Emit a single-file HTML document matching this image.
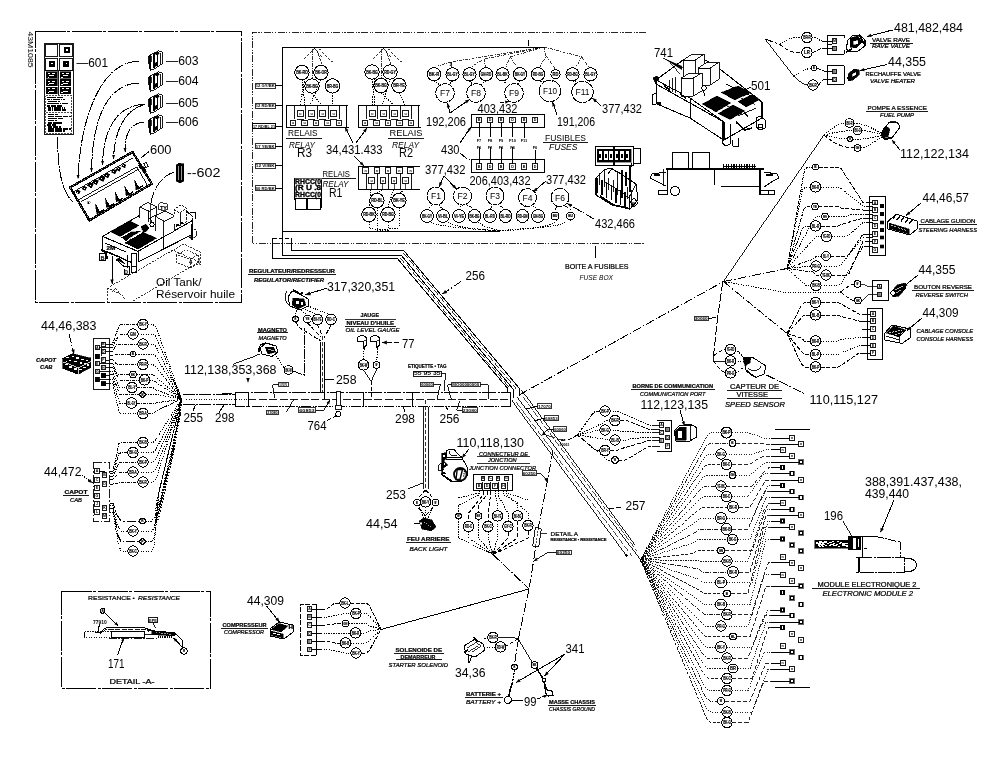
<!DOCTYPE html>
<html><head><meta charset="utf-8"><title>Wiring diagram</title>
<style>
html,body{margin:0;padding:0;background:#fff;}
body{width:1000px;height:770px;overflow:hidden;font-family:"Liberation Sans",sans-serif;}
svg{display:block;will-change:transform;transform:translateZ(0);}
svg text{font-family:"Liberation Sans",sans-serif;}
</style></head><body>
<svg width="1000" height="770" viewBox="0 0 1000 770" fill="none" stroke="#000" stroke-width="1" stroke-linecap="butt" stroke-linejoin="miter" shape-rendering="crispEdges">
<rect x="0" y="0" width="1000" height="770" fill="#fff" stroke="none"/>
<text transform="translate(27.5,31.5) rotate(90)" font-size="6.6" textLength="36" lengthAdjust="spacingAndGlyphs" stroke="none" fill="#000">43M1085</text>
<rect x="35.5" y="31.5" width="205.5" height="270.5" fill="none" stroke-width="1.0" stroke-dasharray="30 1.5 3 1.5"/>
<rect x="44" y="43" width="29" height="91" fill="none" stroke-width="0.9"/>
<rect x="45" y="44" width="12.5" height="12" fill="none" stroke-width="0.9"/>
<rect x="59.5" y="44" width="12.5" height="12" fill="none" stroke-width="0.9"/>
<rect x="45" y="58" width="12.5" height="12" fill="none" stroke-width="0.9"/>
<rect x="59.5" y="58" width="12.5" height="12" fill="none" stroke-width="0.9"/>
<rect x="64" y="47.5" width="5" height="5" fill="#000" stroke-width="1.0"/>
<rect x="49" y="61" width="5" height="5" fill="#000" stroke-width="1.0"/>
<rect x="63.5" y="61" width="5" height="5" fill="#000" stroke-width="1.0"/>
<rect x="66" y="49" width="1.6" height="1.6" fill="#fff" stroke-width="0"/>
<rect x="51" y="62.5" width="1.6" height="1.6" fill="#fff" stroke-width="0"/>
<rect x="65.5" y="62.5" width="1.6" height="1.6" fill="#fff" stroke-width="0"/>
<rect x="46.4" y="71.6" width="10.6" height="6.6" fill="#000" stroke-width="0.6"/>
<rect x="47.9" y="72.8" width="2.2" height="1.2" fill="#fff" stroke-width="0"/>
<rect x="51.9" y="72.8" width="3" height="1.2" fill="#fff" stroke-width="0"/>
<rect x="48.9" y="75.19999999999999" width="5.5" height="1.0" fill="#fff" stroke-width="0"/>
<rect x="47.6" y="76.6" width="1.6" height="0.9" fill="#fff" stroke-width="0"/>
<rect x="60.2" y="71.6" width="10.6" height="6.6" fill="#000" stroke-width="0.6"/>
<rect x="61.7" y="72.8" width="2.2" height="1.2" fill="#fff" stroke-width="0"/>
<rect x="65.7" y="72.8" width="3" height="1.2" fill="#fff" stroke-width="0"/>
<rect x="62.7" y="75.19999999999999" width="5.5" height="1.0" fill="#fff" stroke-width="0"/>
<rect x="61.400000000000006" y="76.6" width="1.6" height="0.9" fill="#fff" stroke-width="0"/>
<rect x="46.4" y="79.3" width="10.6" height="6.6" fill="#000" stroke-width="0.6"/>
<rect x="47.9" y="80.5" width="2.2" height="1.2" fill="#fff" stroke-width="0"/>
<rect x="51.9" y="80.5" width="3" height="1.2" fill="#fff" stroke-width="0"/>
<rect x="48.9" y="82.89999999999999" width="5.5" height="1.0" fill="#fff" stroke-width="0"/>
<rect x="47.6" y="84.3" width="1.6" height="0.9" fill="#fff" stroke-width="0"/>
<rect x="60.2" y="79.3" width="10.6" height="6.6" fill="#000" stroke-width="0.6"/>
<rect x="61.7" y="80.5" width="2.2" height="1.2" fill="#fff" stroke-width="0"/>
<rect x="65.7" y="80.5" width="3" height="1.2" fill="#fff" stroke-width="0"/>
<rect x="62.7" y="82.89999999999999" width="5.5" height="1.0" fill="#fff" stroke-width="0"/>
<rect x="61.400000000000006" y="84.3" width="1.6" height="0.9" fill="#fff" stroke-width="0"/>
<rect x="46.4" y="87.0" width="10.6" height="6.6" fill="#000" stroke-width="0.6"/>
<rect x="47.9" y="88.2" width="2.2" height="1.2" fill="#fff" stroke-width="0"/>
<rect x="51.9" y="88.2" width="3" height="1.2" fill="#fff" stroke-width="0"/>
<rect x="48.9" y="90.6" width="5.5" height="1.0" fill="#fff" stroke-width="0"/>
<rect x="47.6" y="92.0" width="1.6" height="0.9" fill="#fff" stroke-width="0"/>
<rect x="60.2" y="87.0" width="10.6" height="6.6" fill="#000" stroke-width="0.6"/>
<rect x="61.7" y="88.2" width="2.2" height="1.2" fill="#fff" stroke-width="0"/>
<rect x="65.7" y="88.2" width="3" height="1.2" fill="#fff" stroke-width="0"/>
<rect x="62.7" y="90.6" width="5.5" height="1.0" fill="#fff" stroke-width="0"/>
<rect x="61.400000000000006" y="92.0" width="1.6" height="0.9" fill="#fff" stroke-width="0"/>
<line x1="58.2" y1="70.5" x2="58.2" y2="95" stroke-width="0.9"/>
<line x1="44.5" y1="70.3" x2="72.5" y2="70.3" stroke-width="0.9"/>
<rect x="45.5" y="95.5" width="26" height="37.5" fill="none" stroke-width="0.7" stroke-dasharray="2 1"/>
<line x1="45.5" y1="112.2" x2="71.5" y2="112.2" stroke-width="0.7" stroke-dasharray="2 1"/>
<line x1="46.97592925418378" y1="97.5" x2="63.44229225295952" y2="97.5" stroke-width="1.6" stroke-dasharray="3 0.5 1.5 0.4 4 0.5"/>
<line x1="47.239910333096155" y1="99.55" x2="64.53920038596195" y2="99.55" stroke-width="1.6" stroke-dasharray="3 0.5 1.5 0.4 4 0.5"/>
<line x1="47.75144060821611" y1="101.6" x2="59.65528859239813" y2="101.6" stroke-width="1.6" stroke-dasharray="3 0.5 1.5 0.4 4 0.5"/>
<line x1="46.526335983109746" y1="103.65" x2="67.8746908209646" y2="103.65" stroke-width="1.6" stroke-dasharray="3 0.5 1.5 0.4 4 0.5"/>
<line x1="47.018708028656015" y1="105.7" x2="62.34330961046696" y2="105.7" stroke-width="1.6" stroke-dasharray="3 0.5 1.5 0.4 4 0.5"/>
<line x1="48.49128967102092" y1="107.75" x2="65.20263507522448" y2="107.75" stroke-width="1.6" stroke-dasharray="3 0.5 1.5 0.4 4 0.5"/>
<line x1="48.17292290254878" y1="109.8" x2="65.76353208699335" y2="109.8" stroke-width="1.6" stroke-dasharray="3 0.5 1.5 0.4 4 0.5"/>
<line x1="47.77813628108832" y1="114.5" x2="57.506164240235236" y2="114.5" stroke-width="1.6" stroke-dasharray="4 0.5 2 0.4 3 0.5"/>
<line x1="47.769721316570376" y1="116.55" x2="70.68045307143296" y2="116.55" stroke-width="1.6" stroke-dasharray="4 0.5 2 0.4 3 0.5"/>
<line x1="47.546362420766606" y1="118.6" x2="63.4125185620149" y2="118.6" stroke-width="1.6" stroke-dasharray="4 0.5 2 0.4 3 0.5"/>
<line x1="47.84282295073918" y1="120.65" x2="56.64031438226997" y2="120.65" stroke-width="1.6" stroke-dasharray="4 0.5 2 0.4 3 0.5"/>
<line x1="48.016460492573636" y1="122.7" x2="61.91099582931318" y2="122.7" stroke-width="1.6" stroke-dasharray="4 0.5 2 0.4 3 0.5"/>
<line x1="47.102535319031425" y1="124.75" x2="56.3101175146975" y2="124.75" stroke-width="1.6" stroke-dasharray="4 0.5 2 0.4 3 0.5"/>
<line x1="48.23105447395789" y1="126.8" x2="60.72749088665467" y2="126.8" stroke-width="1.6" stroke-dasharray="4 0.5 2 0.4 3 0.5"/>
<line x1="47.937647848131604" y1="128.85" x2="70.78812800255481" y2="128.85" stroke-width="1.6" stroke-dasharray="4 0.5 2 0.4 3 0.5"/>
<line x1="47.928258967222405" y1="130.9" x2="65.21098667583874" y2="130.9" stroke-width="1.6" stroke-dasharray="4 0.5 2 0.4 3 0.5"/>
<text x="76.5" y="66.5" font-size="12.4" stroke="none" fill="#000" textLength="31.5" lengthAdjust="spacingAndGlyphs">—601</text>
<path d="M148.2 56.2 L155.5 52 L157.9 50.6 L162.5 52.3 L162.5 63.5 L152.7 69.9 L149.5 69.2 Z" fill="#fff" stroke-width="0.9"/>
<line x1="150.1" y1="55.4" x2="150.1" y2="68.8" stroke-width="2.0"/>
<line x1="153.7" y1="53.8" x2="153.7" y2="67.5" stroke-width="1.8"/>
<line x1="151.9" y1="56" x2="151.9" y2="62" stroke-width="0.8"/>
<line x1="157.9" y1="51.5" x2="157.9" y2="65.8" stroke-width="1.0"/>
<line x1="160.7" y1="53" x2="160.7" y2="63.5" stroke-width="0.9"/>
<path d="M154.0 53.5 L157.5 51.2 L159.5 53.2 L156.5 55 Z" fill="#000" stroke-width="0.4"/>
<path d="M155.0 63 L157.5 61.5 L157.5 65 L155.0 66.5 Z" fill="#000" stroke-width="0.4"/>
<line x1="150.5" y1="69.5" x2="150.5" y2="71.2" stroke-width="1.0"/>
<text x="166" y="64.5" font-size="12.4" stroke="none" fill="#000" textLength="32.5" lengthAdjust="spacingAndGlyphs">—603</text>
<path d="M148.2 77.2 L155.5 73 L157.9 71.6 L162.5 73.3 L162.5 84.5 L152.7 90.9 L149.5 90.2 Z" fill="#fff" stroke-width="0.9"/>
<line x1="150.1" y1="76.4" x2="150.1" y2="89.8" stroke-width="2.0"/>
<line x1="153.7" y1="74.8" x2="153.7" y2="88.5" stroke-width="1.8"/>
<line x1="151.9" y1="77" x2="151.9" y2="83" stroke-width="0.8"/>
<line x1="157.9" y1="72.5" x2="157.9" y2="86.8" stroke-width="1.0"/>
<line x1="160.7" y1="74" x2="160.7" y2="84.5" stroke-width="0.9"/>
<path d="M154.0 74.5 L157.5 72.2 L159.5 74.2 L156.5 76 Z" fill="#000" stroke-width="0.4"/>
<path d="M155.0 84 L157.5 82.5 L157.5 86 L155.0 87.5 Z" fill="#000" stroke-width="0.4"/>
<line x1="150.5" y1="90.5" x2="150.5" y2="92.2" stroke-width="1.0"/>
<text x="166" y="85" font-size="12.4" stroke="none" fill="#000" textLength="32.5" lengthAdjust="spacingAndGlyphs">—604</text>
<path d="M148.2 99.2 L155.5 95 L157.9 93.6 L162.5 95.3 L162.5 106.5 L152.7 112.9 L149.5 112.2 Z" fill="#fff" stroke-width="0.9"/>
<line x1="150.1" y1="98.4" x2="150.1" y2="111.8" stroke-width="2.0"/>
<line x1="153.7" y1="96.8" x2="153.7" y2="110.5" stroke-width="1.8"/>
<line x1="151.9" y1="99" x2="151.9" y2="105" stroke-width="0.8"/>
<line x1="157.9" y1="94.5" x2="157.9" y2="108.8" stroke-width="1.0"/>
<line x1="160.7" y1="96" x2="160.7" y2="106.5" stroke-width="0.9"/>
<path d="M154.0 96.5 L157.5 94.2 L159.5 96.2 L156.5 98 Z" fill="#000" stroke-width="0.4"/>
<path d="M155.0 106 L157.5 104.5 L157.5 108 L155.0 109.5 Z" fill="#000" stroke-width="0.4"/>
<line x1="150.5" y1="112.5" x2="150.5" y2="114.2" stroke-width="1.0"/>
<text x="166" y="106.5" font-size="12.4" stroke="none" fill="#000" textLength="32.5" lengthAdjust="spacingAndGlyphs">—605</text>
<path d="M148.2 120.2 L155.5 116 L157.9 114.6 L162.5 116.3 L162.5 127.5 L152.7 133.9 L149.5 133.2 Z" fill="#fff" stroke-width="0.9"/>
<line x1="150.1" y1="119.4" x2="150.1" y2="132.8" stroke-width="2.0"/>
<line x1="153.7" y1="117.8" x2="153.7" y2="131.5" stroke-width="1.8"/>
<line x1="151.9" y1="120" x2="151.9" y2="126" stroke-width="0.8"/>
<line x1="157.9" y1="115.5" x2="157.9" y2="129.8" stroke-width="1.0"/>
<line x1="160.7" y1="117" x2="160.7" y2="127.5" stroke-width="0.9"/>
<path d="M154.0 117.5 L157.5 115.2 L159.5 117.2 L156.5 119 Z" fill="#000" stroke-width="0.4"/>
<path d="M155.0 127 L157.5 125.5 L157.5 129 L155.0 130.5 Z" fill="#000" stroke-width="0.4"/>
<line x1="150.5" y1="133.5" x2="150.5" y2="135.2" stroke-width="1.0"/>
<text x="166" y="126" font-size="12.4" stroke="none" fill="#000" textLength="32.5" lengthAdjust="spacingAndGlyphs">—606</text>
<path d="M176 165 L179 163 L183.5 164 L183.5 181 L180 183 L176 181 Z" fill="#000" stroke-width="0.6"/>
<line stroke="#fff" x1="178" y1="166" x2="178" y2="180" stroke-width="0.6"/>
<line stroke="#fff" x1="181" y1="166" x2="181" y2="180" stroke-width="0.6"/>
<text x="187" y="176.5" font-size="12.4" stroke="none" fill="#000" textLength="33.5" lengthAdjust="spacingAndGlyphs">--602</text>
<text x="150" y="153.5" font-size="12.4" stroke="none" fill="#000" textLength="21.5" lengthAdjust="spacingAndGlyphs">600</text>
<line x1="141.5" y1="157.5" x2="149" y2="151.5" stroke-width="1.0"/>
<path d="M139 61 C100 62 80 120 78 179" fill="none" stroke-width="1.0" stroke-dasharray="12 1 2 1"/>
<path d="M78.0 179.0 L76.6 175.0 L79.6 175.1 Z" fill="#000" stroke="none" shape-rendering="geometricPrecision"/>
<path d="M139 83 C102 84 92 130 91.5 172" fill="none" stroke-width="1.0" stroke-dasharray="12 1 2 1"/>
<path d="M91.5 172.0 L90.0 168.0 L93.0 168.0 Z" fill="#000" stroke="none" shape-rendering="geometricPrecision"/>
<path d="M145 104 C110 106 103 140 102.5 165" fill="none" stroke-width="1.0" stroke-dasharray="12 1 2 1"/>
<path d="M102.5 165.0 L101.1 161.0 L104.1 161.0 Z" fill="#000" stroke="none" shape-rendering="geometricPrecision"/>
<path d="M143 105 C120 112 114 140 113.5 159" fill="none" stroke-width="1.0" stroke-dasharray="12 1 2 1"/>
<path d="M113.5 159.0 L112.1 155.0 L115.1 155.0 Z" fill="#000" stroke="none" shape-rendering="geometricPrecision"/>
<path d="M144 122 C126 124 125 140 125 152" fill="none" stroke-width="1.0" stroke-dasharray="12 1 2 1"/>
<path d="M125.0 152.0 L123.5 148.0 L126.5 148.0 Z" fill="#000" stroke="none" shape-rendering="geometricPrecision"/>
<path d="M57.5 137 C58 165 60 190 73 202" fill="none" stroke-width="1.0" stroke-dasharray="12 1 2 1"/>
<path d="M70.2 187.4 L132.6 152 L151.8 183.8 L89.4 220.4 Z" fill="none" stroke-width="2.4"/>
<path stroke="#fff" d="M70.2 187.4 L132.6 152 L151.8 183.8 L89.4 220.4 Z" fill="none" stroke-width="0.6" stroke-dasharray="1 2.2"/>
<line x1="74" y1="191.5" x2="133" y2="158" stroke-width="0.9"/>
<line x1="79.2" y1="199.4" x2="136.8" y2="167" stroke-width="0.9"/>
<line x1="80.5" y1="201.5" x2="138" y2="169" stroke-width="0.9"/>
<path d="M75.78 192.46 L77.54 190.04000000000002 L80.18 191.14000000000001 L78.86 194.0 Z" fill="#000" stroke-width="0.4"/>
<rect x="77.48" y="191.52" width="1" height="1" fill="#fff" stroke-width="0"/>
<path d="M81.76 188.91 L83.84 186.04999999999998 L86.96 187.35 L85.4 190.73 Z" fill="#000" stroke-width="0.4"/>
<rect x="83.86" y="187.89" width="1" height="1" fill="#fff" stroke-width="0"/>
<path d="M86.96 185.73 L89.52 182.21 L93.36 183.81 L91.44 187.97 Z" fill="#000" stroke-width="0.4"/>
<rect x="89.66" y="184.59" width="1" height="1" fill="#fff" stroke-width="0"/>
<path d="M92.17999999999999 182.76 L94.74 179.24 L98.58 180.84 L96.66 185.0 Z" fill="#000" stroke-width="0.4"/>
<rect x="94.88" y="181.62" width="1" height="1" fill="#fff" stroke-width="0"/>
<path d="M98.35999999999999 179.17000000000002 L101.07999999999998 175.43 L105.16 177.13 L103.11999999999999 181.55 Z" fill="#000" stroke-width="0.4"/>
<rect x="101.25999999999999" y="177.99" width="1" height="1" fill="#fff" stroke-width="0"/>
<path d="M103.98 176.12 L106.38000000000001 172.82000000000002 L109.98 174.32000000000002 L108.18 178.22 Z" fill="#000" stroke-width="0.4"/>
<rect x="106.48" y="175.02" width="1" height="1" fill="#fff" stroke-width="0"/>
<path d="M111.14 172.12 L113.38 169.04 L116.74 170.44 L115.06 174.08 Z" fill="#000" stroke-width="0.4"/>
<rect x="113.44" y="171.06" width="1" height="1" fill="#fff" stroke-width="0"/>
<path d="M116.17999999999999 169.39999999999998 L118.1 166.76 L120.98 167.95999999999998 L119.53999999999999 171.07999999999998 Z" fill="#000" stroke-width="0.4"/>
<rect x="118.08" y="168.42" width="1" height="1" fill="#fff" stroke-width="0"/>
<path d="M121.39999999999999 166.42999999999998 L123.32 163.79 L126.2 164.98999999999998 L124.75999999999999 168.10999999999999 Z" fill="#000" stroke-width="0.4"/>
<rect x="123.3" y="165.45" width="1" height="1" fill="#fff" stroke-width="0"/>
<line x1="136.8" y1="167" x2="147" y2="184.5" stroke-width="0.9"/>
<line x1="139" y1="164.5" x2="141.5" y2="169" stroke-width="2.2"/>
<path d="M143.5 163 L146 161.5 L148.5 166 L146 167.5 Z" fill="#fff" stroke-width="0.9"/>
<path d="M141 168 L144 166.5 L146.5 171 L143.5 172.5 Z" fill="#000" stroke-width="0.5"/>
<path d="M95.4 203.5 L99.8 211.3 L101.2 212.7 L96.8 213.7 Z" fill="#000" stroke-width="0.5"/>
<line x1="100.0" y1="212.0" x2="104.0" y2="209.7" stroke-width="1.3"/>
<path d="M105.2 197.5 L109.6 205.3 L111.0 206.7 L106.6 207.7 Z" fill="#000" stroke-width="0.5"/>
<line x1="109.8" y1="206.0" x2="113.8" y2="203.7" stroke-width="1.3"/>
<path d="M115.0 191.5 L119.39999999999999 199.3 L120.8 200.7 L116.39999999999999 201.7 Z" fill="#000" stroke-width="0.5"/>
<line x1="119.6" y1="200.0" x2="123.6" y2="197.7" stroke-width="1.3"/>
<path d="M124.80000000000001 185.5 L129.20000000000002 193.3 L130.6 194.7 L126.2 195.7 Z" fill="#000" stroke-width="0.5"/>
<line x1="129.4" y1="194.0" x2="133.4" y2="191.7" stroke-width="1.3"/>
<path d="M134.6 179.5 L139.0 187.3 L140.39999999999998 188.7 L136.0 189.7 Z" fill="#000" stroke-width="0.5"/>
<line x1="139.2" y1="188.0" x2="143.2" y2="185.7" stroke-width="1.3"/>
<path d="M87 201.5 L90 201.5 L88.5 204 Z" fill="#000" stroke-width="0.4"/>
<line x1="72" y1="190" x2="76" y2="198" stroke-width="1.0"/>
<defs><pattern id="spk" width="3.2" height="2.6" patternUnits="userSpaceOnUse" patternTransform="rotate(-28)"><rect width="3.2" height="2.6" fill="#000"/><rect x="0.4" y="0.5" width="1.1" height="0.9" fill="#fff"/><rect x="2.1" y="1.7" width="0.8" height="0.7" fill="#fff"/></pattern><pattern id="hat" width="2.4" height="2.4" patternUnits="userSpaceOnUse" patternTransform="rotate(35)"><rect width="2.4" height="2.4" fill="#000"/><rect x="0" y="0" width="2.4" height="0.8" fill="#fff"/></pattern></defs>
<path d="M102.6 236.4 L139.5 215.5" fill="none" stroke-width="1.0"/>
<path d="M102.6 236.4 L138 251.4 L192 220.8" fill="none" stroke-width="1.1"/>
<path d="M102.6 236.4 L102.6 250 L131.5 262.5" fill="none" stroke-width="1.1"/>
<path d="M138 251.4 L138 262 L163.2 249.2 L192 234.6 L192 218" fill="none" stroke-width="1.0"/>
<line x1="163.2" y1="238.2" x2="163.2" y2="249.2" stroke-width="1.0"/>
<line x1="186" y1="210.6" x2="193.2" y2="217.2" stroke-width="1.0"/>
<line x1="190" y1="213" x2="195" y2="212" stroke-width="1.0"/>
<line x1="195" y1="212" x2="195" y2="219" stroke-width="1.0"/>
<path d="M139.8 218 L139.8 207 L148 202.5 L156.5 206.5 L156.5 214 L148.5 218.5 L148.5 211 L139.8 207" fill="#fff" stroke-width="0.9"/>
<line x1="148.5" y1="211" x2="156.5" y2="206.5" stroke-width="0.9"/>
<line x1="148.5" y1="211" x2="148.5" y2="222" stroke-width="0.9"/>
<path d="M158 204.5 L161 202.5 L167 204 L168 209 L164 211 L158 209 Z" fill="#fff" stroke-width="0.8"/>
<text x="160" y="209.5" font-size="5.4" stroke="#000" stroke-width="0.22" fill="#000" font-weight="bold" textLength="7" lengthAdjust="spacingAndGlyphs">TY</text>
<path d="M155 221 L155 216 L164.5 211.5 L174 216 L174 231 L163.5 236.5 L163.5 221 L155 216" fill="#fff" stroke-width="0.9"/>
<line x1="163.5" y1="221" x2="174" y2="216" stroke-width="0.9"/>
<line x1="155" y1="221" x2="155" y2="231" stroke-width="0.9"/>
<path d="M174 214 L174 209.5 L181 205 L186 207.5 L186 222 L179 226 L174 224" fill="#fff" stroke-width="0.9" stroke-dasharray="2.5 1"/>
<line x1="174" y1="209.5" x2="180" y2="213" stroke-width="0.9" stroke-dasharray="2.5 1"/>
<line x1="180" y1="213" x2="186" y2="208.5" stroke-width="0.9" stroke-dasharray="2.5 1"/>
<line x1="180" y1="213" x2="180" y2="225" stroke-width="0.9"/>
<path d="M110 231.6 L129.6 220.8 L139 225.6 L120 236.6 Z" fill="url(#spk)" stroke-width="0.4"/>
<path d="M124.5 243 L143 232.2 L156.6 238.2 L138 249.2 Z" fill="url(#spk)" stroke-width="0.4"/>
<path d="M121.5 237.5 L131 232 L141 231 L130 237.5 L126 241.5 Z" fill="url(#spk)" stroke-width="0.3"/>
<path d="M141 226.5 L146 224 L149 228 L146 232 L143 231.5 Z" fill="url(#spk)" stroke-width="0.3"/>
<line x1="176" y1="226" x2="184" y2="222" stroke-width="1.6" stroke-dasharray="3 2"/>
<line x1="150" y1="218" x2="154" y2="226" stroke-width="0.9"/>
<circle cx="152" cy="224.5" r="2.1" fill="#fff" stroke-width="1.0"/>
<line x1="192" y1="224" x2="192" y2="240" stroke-width="1.6"/>
<path d="M193.5 229 L196 231 L196 235.5 L193.5 237.5" fill="none" stroke-width="0.9"/>
<path d="M188 236.5 L193 236.5 L192.5 240 Z" fill="#000" stroke-width="0.5"/>
<rect x="99.6" y="253.8" width="5.6" height="6.8" fill="none" stroke-width="1.0"/>
<text x="100.4" y="259.8" font-size="6" stroke="#000" stroke-width="0.22" fill="#000" textLength="4" lengthAdjust="spacingAndGlyphs">B</text>
<path d="M101 250 L106 252.5 L107 259" fill="none" stroke-width="1.8"/>
<text x="106.5" y="249.5" font-size="5.4" stroke="#000" stroke-width="0.22" fill="#000" font-weight="bold" textLength="9" lengthAdjust="spacingAndGlyphs">2M</text>
<path d="M105 243 L126 252" fill="none" stroke-width="1.0"/>
<path d="M106 251.5 L122 258" fill="none" stroke-width="1.6"/>
<path d="M116 259.5 L125 264 L119 258 Z" fill="#000" stroke-width="0.5"/>
<path d="M116 259.5 L124 266.5" fill="none" stroke-width="1.0"/>
<rect x="131.4" y="253" width="4.8" height="19" fill="#fff" stroke-width="1.0"/>
<rect x="131.4" y="266" width="5" height="6" fill="#fff" stroke-width="1.0"/>
<path d="M123 266 L129.6 266 L129.6 274.2 L124.5 274.2 L124.5 269" fill="none" stroke-width="1.0"/>
<line x1="127" y1="255" x2="127" y2="268" stroke-width="1.0"/>
<text x="124.3" y="273.5" font-size="5.4" stroke="#000" stroke-width="0.22" fill="#000" textLength="3.6" lengthAdjust="spacingAndGlyphs">0</text>
<line x1="112" y1="256" x2="112" y2="284" stroke-width="1.0"/>
<path d="M112.0 284.0 L110.3 279.6 L113.7 279.6 Z" fill="#000" stroke="none" shape-rendering="geometricPrecision"/>
<line x1="150" y1="222" x2="151" y2="203" stroke-width="0.8"/>
<path d="M151 203 C153 190 160 177 174 172" fill="none" stroke-width="1.0" stroke-dasharray="12 1 2 1"/>
<path d="M107.5 288 L173 250 L199 262 L133 301" fill="none" stroke-width="0.8" stroke-dasharray="2 1.2"/>
<path d="M107.5 288 L107.5 302" fill="none" stroke-width="0.8" stroke-dasharray="2 1.2"/>
<path d="M107.5 288 L122 295 L126 300" fill="none" stroke-width="0.8" stroke-dasharray="2 1.2"/>
<path d="M112 292 L116 288 L120 294" fill="none" stroke-width="0.8" stroke-dasharray="2 1.2"/>
<path d="M168 253 L184 244 L200 252 L200 265" fill="none" stroke-width="0.8" stroke-dasharray="2 1.2"/>
<path d="M176 255 L176 262 L190 268 L190 259 L176 255 L186 250 L198 255 L190 259" fill="none" stroke-width="0.8" stroke-dasharray="2 1.2"/>
<path d="M190 268 L198 264 L198 255" fill="none" stroke-width="0.8" stroke-dasharray="2 1.2"/>
<text x="189" y="263.5" font-size="6" stroke="#000" stroke-width="0.22" fill="#000">4</text>
<text x="198" y="263" font-size="8" stroke="none" fill="#000">(</text>
<text x="156" y="286" font-size="11.2" stroke="none" fill="#000" textLength="45.5" lengthAdjust="spacingAndGlyphs">Oil Tank/</text>
<text x="156" y="297.5" font-size="11.2" stroke="none" fill="#000" textLength="79" lengthAdjust="spacingAndGlyphs">Réservoir huile</text>
<path d="M646 32 L252 32 L252 243 L645 243" fill="none" stroke-width="0.85" stroke-dasharray="7 1.5 1.2 1.5 1.2 1.5"/>
<path d="M544 47 L282.5 47 L282.5 231 L500 231" fill="none" stroke-width="1.0"/>
<line x1="528" y1="40" x2="528" y2="45.5" stroke-width="1.0"/>
<rect x="255" y="83.2" width="20.5" height="5" fill="none" stroke-width="0.8"/>
<text x="255.8" y="87.3" font-size="4.4" font-weight="bold" textLength="18.9" lengthAdjust="spacingAndGlyphs" stroke="none" fill="#000">12 GY/BK</text>
<line x1="275" y1="85.7" x2="282.5" y2="85.7" stroke-width="1.0"/>
<rect x="255" y="103.3" width="20.5" height="5" fill="none" stroke-width="0.8"/>
<text x="255.8" y="107.39999999999999" font-size="4.4" font-weight="bold" textLength="18.9" lengthAdjust="spacingAndGlyphs" stroke="none" fill="#000">12 RD/BK</text>
<line x1="275" y1="105.8" x2="282.5" y2="105.8" stroke-width="1.0"/>
<rect x="252.5" y="123.7" width="23" height="4.6" fill="none" stroke-width="1.0"/>
<text x="253" y="127.5" font-size="4" font-weight="bold" textLength="22" lengthAdjust="spacingAndGlyphs" stroke="none" fill="#000">17 RD/BL 21</text>
<line x1="275" y1="126" x2="282.5" y2="126" stroke-width="1.0"/>
<rect x="255" y="143.5" width="20.5" height="5" fill="none" stroke-width="0.8"/>
<text x="255.8" y="147.6" font-size="4.4" font-weight="bold" textLength="18.9" lengthAdjust="spacingAndGlyphs" stroke="none" fill="#000">17 YE/BK</text>
<line x1="275" y1="146" x2="282.5" y2="146" stroke-width="1.0"/>
<rect x="255" y="163.2" width="20.5" height="5" fill="none" stroke-width="0.8"/>
<text x="255.8" y="167.29999999999998" font-size="4.4" font-weight="bold" textLength="18.9" lengthAdjust="spacingAndGlyphs" stroke="none" fill="#000">12 VI/BK</text>
<line x1="275" y1="165.7" x2="282.5" y2="165.7" stroke-width="1.0"/>
<rect x="255" y="185.5" width="20.5" height="5" fill="none" stroke-width="0.8"/>
<text x="255.8" y="189.6" font-size="4.4" font-weight="bold" textLength="18.9" lengthAdjust="spacingAndGlyphs" stroke="none" fill="#000">00 RD/BK</text>
<line x1="275" y1="188" x2="282.5" y2="188" stroke-width="1.0"/>
<line x1="286" y1="105" x2="347.5" y2="105" stroke-width="1.0"/>
<line x1="286.8" y1="105" x2="286.8" y2="127.5" stroke-width="1.0"/>
<line x1="346.7" y1="105" x2="346.7" y2="127.5" stroke-width="1.0"/>
<line x1="285.5" y1="127.5" x2="348.5" y2="127.5" stroke-width="1.1"/>
<line x1="294.6" y1="105" x2="294.6" y2="119" stroke-width="0.9"/>
<line x1="305.90000000000003" y1="105" x2="305.90000000000003" y2="119" stroke-width="0.9"/>
<line x1="317.20000000000005" y1="105" x2="317.20000000000005" y2="119" stroke-width="0.9"/>
<line x1="328.5" y1="105" x2="328.5" y2="119" stroke-width="0.9"/>
<line x1="339.8" y1="105" x2="339.8" y2="119" stroke-width="0.9"/>
<rect x="290.5" y="120.39999999999999" width="5.3999999999999995" height="5.3999999999999995" fill="#fff" stroke-width="0.9"/>
<text x="293.2" y="124.3" font-size="3.6" font-weight="bold" text-anchor="middle" stroke="none" fill="#000">u</text>
<rect x="301.95" y="120.39999999999999" width="5.3999999999999995" height="5.3999999999999995" fill="#fff" stroke-width="0.9"/>
<text x="304.65" y="124.3" font-size="3.6" font-weight="bold" text-anchor="middle" stroke="none" fill="#000">u</text>
<rect x="313.4" y="120.39999999999999" width="5.3999999999999995" height="5.3999999999999995" fill="#fff" stroke-width="0.9"/>
<text x="316.09999999999997" y="124.3" font-size="3.6" font-weight="bold" text-anchor="middle" stroke="none" fill="#000">u</text>
<rect x="324.84999999999997" y="120.39999999999999" width="5.3999999999999995" height="5.3999999999999995" fill="#fff" stroke-width="0.9"/>
<text x="327.54999999999995" y="124.3" font-size="3.6" font-weight="bold" text-anchor="middle" stroke="none" fill="#000">u</text>
<rect x="336.3" y="120.39999999999999" width="5.3999999999999995" height="5.3999999999999995" fill="#fff" stroke-width="0.9"/>
<text x="339.0" y="124.3" font-size="3.6" font-weight="bold" text-anchor="middle" stroke="none" fill="#000">u</text>
<rect x="297.59999999999997" y="110.9" width="5.6" height="5.6" fill="#fff" stroke-width="0.9"/>
<text x="300.4" y="114.9" font-size="3.6" font-weight="bold" text-anchor="middle" stroke="none" fill="#000">u</text>
<line x1="296.9" y1="119" x2="303.59999999999997" y2="119" stroke-width="0.9"/>
<rect x="308.7" y="110.9" width="5.6" height="5.6" fill="#fff" stroke-width="0.9"/>
<text x="311.5" y="114.9" font-size="3.6" font-weight="bold" text-anchor="middle" stroke="none" fill="#000">u</text>
<line x1="308.0" y1="119" x2="314.7" y2="119" stroke-width="0.9"/>
<rect x="319.79999999999995" y="110.9" width="5.6" height="5.6" fill="#fff" stroke-width="0.9"/>
<text x="322.59999999999997" y="114.9" font-size="3.6" font-weight="bold" text-anchor="middle" stroke="none" fill="#000">u</text>
<line x1="319.09999999999997" y1="119" x2="325.79999999999995" y2="119" stroke-width="0.9"/>
<rect x="330.9" y="110.9" width="5.6" height="5.6" fill="#fff" stroke-width="0.9"/>
<text x="333.7" y="114.9" font-size="3.6" font-weight="bold" text-anchor="middle" stroke="none" fill="#000">u</text>
<line x1="330.2" y1="119" x2="336.9" y2="119" stroke-width="0.9"/>
<line x1="358" y1="105" x2="419.5" y2="105" stroke-width="1.0"/>
<line x1="358.8" y1="105" x2="358.8" y2="127.5" stroke-width="1.0"/>
<line x1="418.7" y1="105" x2="418.7" y2="127.5" stroke-width="1.0"/>
<line x1="357.5" y1="127.5" x2="420.5" y2="127.5" stroke-width="1.1"/>
<line x1="366.6" y1="105" x2="366.6" y2="119" stroke-width="0.9"/>
<line x1="377.90000000000003" y1="105" x2="377.90000000000003" y2="119" stroke-width="0.9"/>
<line x1="389.20000000000005" y1="105" x2="389.20000000000005" y2="119" stroke-width="0.9"/>
<line x1="400.5" y1="105" x2="400.5" y2="119" stroke-width="0.9"/>
<line x1="411.8" y1="105" x2="411.8" y2="119" stroke-width="0.9"/>
<rect x="362.5" y="120.39999999999999" width="5.3999999999999995" height="5.3999999999999995" fill="#fff" stroke-width="0.9"/>
<text x="365.2" y="124.3" font-size="3.6" font-weight="bold" text-anchor="middle" stroke="none" fill="#000">u</text>
<rect x="373.95" y="120.39999999999999" width="5.3999999999999995" height="5.3999999999999995" fill="#fff" stroke-width="0.9"/>
<text x="376.65" y="124.3" font-size="3.6" font-weight="bold" text-anchor="middle" stroke="none" fill="#000">u</text>
<rect x="385.4" y="120.39999999999999" width="5.3999999999999995" height="5.3999999999999995" fill="#fff" stroke-width="0.9"/>
<text x="388.09999999999997" y="124.3" font-size="3.6" font-weight="bold" text-anchor="middle" stroke="none" fill="#000">u</text>
<rect x="396.84999999999997" y="120.39999999999999" width="5.3999999999999995" height="5.3999999999999995" fill="#fff" stroke-width="0.9"/>
<text x="399.54999999999995" y="124.3" font-size="3.6" font-weight="bold" text-anchor="middle" stroke="none" fill="#000">u</text>
<rect x="408.3" y="120.39999999999999" width="5.3999999999999995" height="5.3999999999999995" fill="#fff" stroke-width="0.9"/>
<text x="411.0" y="124.3" font-size="3.6" font-weight="bold" text-anchor="middle" stroke="none" fill="#000">u</text>
<rect x="369.59999999999997" y="110.9" width="5.6" height="5.6" fill="#fff" stroke-width="0.9"/>
<text x="372.4" y="114.9" font-size="3.6" font-weight="bold" text-anchor="middle" stroke="none" fill="#000">u</text>
<line x1="368.9" y1="119" x2="375.59999999999997" y2="119" stroke-width="0.9"/>
<rect x="380.7" y="110.9" width="5.6" height="5.6" fill="#fff" stroke-width="0.9"/>
<text x="383.5" y="114.9" font-size="3.6" font-weight="bold" text-anchor="middle" stroke="none" fill="#000">u</text>
<line x1="380.0" y1="119" x2="386.7" y2="119" stroke-width="0.9"/>
<rect x="391.79999999999995" y="110.9" width="5.6" height="5.6" fill="#fff" stroke-width="0.9"/>
<text x="394.59999999999997" y="114.9" font-size="3.6" font-weight="bold" text-anchor="middle" stroke="none" fill="#000">u</text>
<line x1="391.09999999999997" y1="119" x2="397.79999999999995" y2="119" stroke-width="0.9"/>
<rect x="402.9" y="110.9" width="5.6" height="5.6" fill="#fff" stroke-width="0.9"/>
<text x="405.7" y="114.9" font-size="3.6" font-weight="bold" text-anchor="middle" stroke="none" fill="#000">u</text>
<line x1="402.2" y1="119" x2="408.9" y2="119" stroke-width="0.9"/>
<line x1="358" y1="166" x2="419.5" y2="166" stroke-width="1.0"/>
<line x1="358.8" y1="166" x2="358.8" y2="189.5" stroke-width="1.0"/>
<line x1="358" y1="189.5" x2="419.5" y2="189.5" stroke-width="1.0"/>
<rect x="362.7" y="167.79999999999998" width="5.6" height="5.6" fill="#fff" stroke-width="0.9"/>
<text x="365.5" y="171.79999999999998" font-size="3.6" font-weight="bold" text-anchor="middle" stroke="none" fill="#000">n</text>
<line x1="366.3" y1="173.1" x2="366.3" y2="189.5" stroke-width="0.9"/>
<rect x="374.0" y="167.79999999999998" width="5.6" height="5.6" fill="#fff" stroke-width="0.9"/>
<text x="376.8" y="171.79999999999998" font-size="3.6" font-weight="bold" text-anchor="middle" stroke="none" fill="#000">n</text>
<line x1="377.6" y1="173.1" x2="377.6" y2="189.5" stroke-width="0.9"/>
<rect x="385.3" y="167.79999999999998" width="5.6" height="5.6" fill="#fff" stroke-width="0.9"/>
<text x="388.1" y="171.79999999999998" font-size="3.6" font-weight="bold" text-anchor="middle" stroke="none" fill="#000">n</text>
<line x1="388.90000000000003" y1="173.1" x2="388.90000000000003" y2="189.5" stroke-width="0.9"/>
<rect x="396.59999999999997" y="167.79999999999998" width="5.6" height="5.6" fill="#fff" stroke-width="0.9"/>
<text x="399.4" y="171.79999999999998" font-size="3.6" font-weight="bold" text-anchor="middle" stroke="none" fill="#000">n</text>
<line x1="400.2" y1="173.1" x2="400.2" y2="189.5" stroke-width="0.9"/>
<rect x="407.9" y="167.79999999999998" width="5.6" height="5.6" fill="#fff" stroke-width="0.9"/>
<text x="410.7" y="171.79999999999998" font-size="3.6" font-weight="bold" text-anchor="middle" stroke="none" fill="#000">n</text>
<line x1="411.5" y1="173.1" x2="411.5" y2="189.5" stroke-width="0.9"/>
<rect x="368.90000000000003" y="177.8" width="5.3999999999999995" height="5.3999999999999995" fill="#fff" stroke-width="0.9"/>
<text x="371.6" y="181.7" font-size="3.6" font-weight="bold" text-anchor="middle" stroke="none" fill="#000">u</text>
<line x1="371.6" y1="183" x2="371.6" y2="189.5" stroke-width="0.7"/>
<rect x="380.20000000000005" y="177.8" width="5.3999999999999995" height="5.3999999999999995" fill="#fff" stroke-width="0.9"/>
<text x="382.90000000000003" y="181.7" font-size="3.6" font-weight="bold" text-anchor="middle" stroke="none" fill="#000">u</text>
<line x1="382.90000000000003" y1="183" x2="382.90000000000003" y2="189.5" stroke-width="0.7"/>
<rect x="391.50000000000006" y="177.8" width="5.3999999999999995" height="5.3999999999999995" fill="#fff" stroke-width="0.9"/>
<text x="394.20000000000005" y="181.7" font-size="3.6" font-weight="bold" text-anchor="middle" stroke="none" fill="#000">u</text>
<line x1="394.20000000000005" y1="183" x2="394.20000000000005" y2="189.5" stroke-width="0.7"/>
<rect x="402.8" y="177.8" width="5.3999999999999995" height="5.3999999999999995" fill="#fff" stroke-width="0.9"/>
<text x="405.5" y="181.7" font-size="3.6" font-weight="bold" text-anchor="middle" stroke="none" fill="#000">u</text>
<line x1="405.5" y1="183" x2="405.5" y2="189.5" stroke-width="0.7"/>
<text x="288" y="136" font-size="8.3" stroke="none" fill="#000" textLength="29.5" lengthAdjust="spacingAndGlyphs">RELAIS</text>
<line x1="286" y1="138.5" x2="322" y2="138.5" stroke-width="0.9"/>
<text x="289" y="147.5" font-size="8.3" stroke="none" fill="#000" font-style="italic" textLength="26" lengthAdjust="spacingAndGlyphs">RELAY</text>
<text x="297" y="157" font-size="12" stroke="none" fill="#000" textLength="15" lengthAdjust="spacingAndGlyphs">R3</text>
<text x="389.5" y="136" font-size="8.3" stroke="none" fill="#000" textLength="33" lengthAdjust="spacingAndGlyphs">RELAIS</text>
<line x1="388" y1="138.5" x2="424" y2="138.5" stroke-width="0.9"/>
<text x="392" y="147.5" font-size="8.3" stroke="none" fill="#000" font-style="italic" textLength="27" lengthAdjust="spacingAndGlyphs">RELAY</text>
<text x="399" y="157" font-size="12" stroke="none" fill="#000" textLength="14" lengthAdjust="spacingAndGlyphs">R2</text>
<text x="322.5" y="176.5" font-size="8.3" stroke="none" fill="#000" textLength="27.5" lengthAdjust="spacingAndGlyphs">RELAIS</text>
<line x1="320" y1="178.7" x2="356" y2="178.7" stroke-width="0.9"/>
<text x="322.5" y="187" font-size="8.3" stroke="none" fill="#000" font-style="italic" textLength="26" lengthAdjust="spacingAndGlyphs">RELAY</text>
<text x="329" y="197" font-size="12" stroke="none" fill="#000" textLength="13.5" lengthAdjust="spacingAndGlyphs">R1</text>
<text x="326" y="153.5" font-size="12.4" stroke="none" fill="#000" textLength="56.5" lengthAdjust="spacingAndGlyphs">34,431.433</text>
<line x1="353" y1="143" x2="345" y2="127" stroke-width="1.0"/>
<path d="M345.0 127.0 L348.5 130.2 L345.5 131.7 Z" fill="#000" stroke="none" shape-rendering="geometricPrecision"/>
<line x1="356" y1="143" x2="367" y2="128" stroke-width="1.0"/>
<path d="M367.0 128.0 L365.8 132.5 L363.0 130.5 Z" fill="#000" stroke="none" shape-rendering="geometricPrecision"/>
<line x1="354" y1="156" x2="364" y2="166" stroke-width="1.0"/>
<path d="M364.0 166.0 L359.7 164.1 L362.1 161.7 Z" fill="#000" stroke="none" shape-rendering="geometricPrecision"/>
<circle cx="302" cy="72.5" r="7.2" fill="#fff" stroke-width="1.0"/>
<text x="302" y="74.23" font-size="4.8" text-anchor="middle" textLength="11.6" lengthAdjust="spacingAndGlyphs" font-weight="bold" stroke="#000" stroke-width="0.2" fill="#000">BK-RD</text>
<circle cx="321" cy="72.5" r="7.2" fill="#fff" stroke-width="1.0"/>
<text x="321" y="74.23" font-size="4.8" text-anchor="middle" textLength="11.6" lengthAdjust="spacingAndGlyphs" font-weight="bold" stroke="#000" stroke-width="0.2" fill="#000">BK-OR</text>
<circle cx="312" cy="86" r="7.2" fill="#fff" stroke-width="1.0"/>
<text x="312" y="87.73" font-size="4.8" text-anchor="middle" textLength="11.6" lengthAdjust="spacingAndGlyphs" font-weight="bold" stroke="#000" stroke-width="0.2" fill="#000">BK-BG</text>
<circle cx="332.5" cy="86" r="7.2" fill="#fff" stroke-width="1.0"/>
<text x="332.5" y="87.73" font-size="4.8" text-anchor="middle" textLength="11.6" lengthAdjust="spacingAndGlyphs" font-weight="bold" stroke="#000" stroke-width="0.2" fill="#000">BR-BG</text>
<circle cx="372" cy="72" r="7.2" fill="#fff" stroke-width="1.0"/>
<text x="372" y="73.73" font-size="4.8" text-anchor="middle" textLength="11.6" lengthAdjust="spacingAndGlyphs" font-weight="bold" stroke="#000" stroke-width="0.2" fill="#000">BK-BG</text>
<circle cx="390" cy="72" r="7.2" fill="#fff" stroke-width="1.0"/>
<text x="390" y="73.73" font-size="4.8" text-anchor="middle" textLength="11.6" lengthAdjust="spacingAndGlyphs" font-weight="bold" stroke="#000" stroke-width="0.2" fill="#000">RD-GY</text>
<circle cx="381" cy="85.5" r="7.2" fill="#fff" stroke-width="1.0"/>
<text x="381" y="87.23" font-size="4.8" text-anchor="middle" textLength="11.6" lengthAdjust="spacingAndGlyphs" font-weight="bold" stroke="#000" stroke-width="0.2" fill="#000">BK-BG</text>
<circle cx="399" cy="85.5" r="7.2" fill="#fff" stroke-width="1.0"/>
<text x="399" y="87.23" font-size="4.8" text-anchor="middle" textLength="11.6" lengthAdjust="spacingAndGlyphs" font-weight="bold" stroke="#000" stroke-width="0.2" fill="#000">BR-YE</text>
<line x1="314.5" y1="48" x2="303.5" y2="60" stroke-width="0.8" stroke-dasharray="3 1.2"/>
<line x1="314.5" y1="48" x2="321.5" y2="57" stroke-width="0.8" stroke-dasharray="3 1.2"/>
<line x1="316.5" y1="50" x2="322.5" y2="65" stroke-width="0.8" stroke-dasharray="3 1.2"/>
<line x1="318.5" y1="49" x2="332.5" y2="62" stroke-width="0.8" stroke-dasharray="3 1.2"/>
<line x1="312.5" y1="49" x2="312.5" y2="78" stroke-width="0.8" stroke-dasharray="4 1 1 1"/>
<line x1="302" y1="79.5" x2="305" y2="105" stroke-width="1.0" stroke-dasharray="1.2 1.3"/>
<line x1="321" y1="79.5" x2="310.2" y2="105" stroke-width="1.0" stroke-dasharray="1.2 1.3"/>
<line x1="312" y1="93" x2="321.4" y2="105" stroke-width="1.0" stroke-dasharray="1.2 1.3"/>
<line x1="332.5" y1="93" x2="332.6" y2="105" stroke-width="1.0" stroke-dasharray="1.2 1.3"/>
<line x1="305" y1="79" x2="300" y2="105" stroke-width="1.0" stroke-dasharray="1.2 1.3"/>
<line x1="383.5" y1="48" x2="372.5" y2="60" stroke-width="0.8" stroke-dasharray="3 1.2"/>
<line x1="383.5" y1="48" x2="390.5" y2="57" stroke-width="0.8" stroke-dasharray="3 1.2"/>
<line x1="385.5" y1="50" x2="391.5" y2="65" stroke-width="0.8" stroke-dasharray="3 1.2"/>
<line x1="387.5" y1="49" x2="401.5" y2="62" stroke-width="0.8" stroke-dasharray="3 1.2"/>
<line x1="381.5" y1="49" x2="381.5" y2="78" stroke-width="0.8" stroke-dasharray="4 1 1 1"/>
<line x1="372" y1="79" x2="375" y2="105" stroke-width="1.0" stroke-dasharray="1.2 1.3"/>
<line x1="390" y1="79" x2="382.2" y2="105" stroke-width="1.0" stroke-dasharray="1.2 1.3"/>
<line x1="381" y1="92.5" x2="393.4" y2="105" stroke-width="1.0" stroke-dasharray="1.2 1.3"/>
<line x1="399" y1="92.5" x2="404.6" y2="105" stroke-width="1.0" stroke-dasharray="1.2 1.3"/>
<line x1="375" y1="79" x2="372" y2="105" stroke-width="1.0" stroke-dasharray="1.2 1.3"/>
<circle cx="377" cy="200.5" r="7.2" fill="#fff" stroke-width="1.0"/>
<text x="377" y="202.23" font-size="4.8" text-anchor="middle" textLength="11.6" lengthAdjust="spacingAndGlyphs" font-weight="bold" stroke="#000" stroke-width="0.2" fill="#000">RD-BL</text>
<circle cx="399" cy="200.5" r="7.2" fill="#fff" stroke-width="1.0"/>
<text x="399" y="202.23" font-size="4.8" text-anchor="middle" textLength="11.6" lengthAdjust="spacingAndGlyphs" font-weight="bold" stroke="#000" stroke-width="0.2" fill="#000">BK-YE</text>
<circle cx="369" cy="214.5" r="7.2" fill="#fff" stroke-width="1.0"/>
<text x="369" y="216.23" font-size="4.8" text-anchor="middle" textLength="11.6" lengthAdjust="spacingAndGlyphs" font-weight="bold" stroke="#000" stroke-width="0.2" fill="#000">RD-BK</text>
<circle cx="388" cy="214.5" r="7.2" fill="#fff" stroke-width="1.0"/>
<text x="388" y="216.23" font-size="4.8" text-anchor="middle" textLength="11.6" lengthAdjust="spacingAndGlyphs" font-weight="bold" stroke="#000" stroke-width="0.2" fill="#000">RD-BG</text>
<line x1="371" y1="189.5" x2="369" y2="207.5" stroke-width="1.0" stroke-dasharray="1.2 1.3"/>
<line x1="382.2" y1="189.5" x2="377" y2="193.5" stroke-width="1.0" stroke-dasharray="1.2 1.3"/>
<line x1="393.4" y1="189.5" x2="388" y2="207.5" stroke-width="1.0" stroke-dasharray="1.2 1.3"/>
<line x1="404.6" y1="189.5" x2="399" y2="193.5" stroke-width="1.0" stroke-dasharray="1.2 1.3"/>
<path d="M369 221.5 L369 228 L377 230 L388 230 L388 221.5" fill="none" stroke-width="1.0" stroke-dasharray="1.2 1.3"/>
<line x1="377" y1="207.5" x2="377" y2="230" stroke-width="1.0" stroke-dasharray="1.2 1.3"/>
<line x1="399" y1="207.5" x2="399" y2="228" stroke-width="1.0" stroke-dasharray="1.2 1.3"/>
<path d="M377 230 L399 228" fill="none" stroke-width="1.0" stroke-dasharray="1.2 1.3"/>
<rect x="294.5" y="178" width="27" height="20" fill="#fff" stroke-width="0.6"/>
<text x="295" y="183.6" font-size="7" font-weight="bold" textLength="26" lengthAdjust="spacingAndGlyphs" stroke="#000" stroke-width="0.35" fill="#000">RHCC(0</text>
<text x="295" y="190.4" font-size="7" font-weight="bold" textLength="26" lengthAdjust="spacingAndGlyphs" stroke="#000" stroke-width="0.35" fill="#000">(R U .8</text>
<text x="295" y="197.2" font-size="7" font-weight="bold" textLength="26" lengthAdjust="spacingAndGlyphs" stroke="#000" stroke-width="0.35" fill="#000">RHCC(0</text>
<rect x="295" y="198.5" width="11.5" height="11" fill="none" stroke-width="1.0"/>
<rect x="307.5" y="198.5" width="13" height="11" fill="none" stroke-width="1.0"/>
<line x1="294.5" y1="178" x2="294.5" y2="200" stroke-width="1.0"/>
<line x1="321.5" y1="180" x2="321.5" y2="208" stroke-width="1.0"/>
<circle cx="434" cy="74.3" r="6.6" fill="#fff" stroke-width="1.0"/>
<text x="434" y="76.03" font-size="4.8" text-anchor="middle" textLength="10.4" lengthAdjust="spacingAndGlyphs" font-weight="bold" stroke="#000" stroke-width="0.2" fill="#000">BK-R</text>
<circle cx="452.5" cy="74.3" r="6.6" fill="#fff" stroke-width="1.0"/>
<text x="452.5" y="76.03" font-size="4.8" text-anchor="middle" textLength="10.4" lengthAdjust="spacingAndGlyphs" font-weight="bold" stroke="#000" stroke-width="0.2" fill="#000">BL-GY</text>
<circle cx="469.5" cy="74.3" r="6.6" fill="#fff" stroke-width="1.0"/>
<text x="469.5" y="76.03" font-size="4.8" text-anchor="middle" textLength="10.4" lengthAdjust="spacingAndGlyphs" font-weight="bold" stroke="#000" stroke-width="0.2" fill="#000">BL-GY</text>
<circle cx="486" cy="74.3" r="6.6" fill="#fff" stroke-width="1.0"/>
<text x="486" y="76.03" font-size="4.8" text-anchor="middle" textLength="10.4" lengthAdjust="spacingAndGlyphs" font-weight="bold" stroke="#000" stroke-width="0.2" fill="#000">GN-RD</text>
<circle cx="502.5" cy="74.3" r="6.6" fill="#fff" stroke-width="1.0"/>
<text x="502.5" y="76.03" font-size="4.8" text-anchor="middle" textLength="10.4" lengthAdjust="spacingAndGlyphs" font-weight="bold" stroke="#000" stroke-width="0.2" fill="#000">BL-BK</text>
<circle cx="520" cy="74.3" r="6.6" fill="#fff" stroke-width="1.0"/>
<text x="520" y="76.03" font-size="4.8" text-anchor="middle" textLength="10.4" lengthAdjust="spacingAndGlyphs" font-weight="bold" stroke="#000" stroke-width="0.2" fill="#000">BK-GY</text>
<circle cx="538" cy="74.3" r="6.6" fill="#fff" stroke-width="1.0"/>
<text x="538" y="76.03" font-size="4.8" text-anchor="middle" textLength="10.4" lengthAdjust="spacingAndGlyphs" font-weight="bold" stroke="#000" stroke-width="0.2" fill="#000">RD-BG</text>
<circle cx="555.5" cy="74.3" r="4.6" fill="#fff" stroke-width="1.0"/>
<text x="555.5" y="76.03" font-size="4.8" text-anchor="middle" textLength="5.8" lengthAdjust="spacingAndGlyphs" font-weight="bold" stroke="#000" stroke-width="0.2" fill="#000">RD</text>
<circle cx="572.5" cy="74.3" r="6.6" fill="#fff" stroke-width="1.0"/>
<text x="572.5" y="76.03" font-size="4.8" text-anchor="middle" textLength="10.4" lengthAdjust="spacingAndGlyphs" font-weight="bold" stroke="#000" stroke-width="0.2" fill="#000">RD-BG</text>
<circle cx="590.5" cy="74.3" r="6.6" fill="#fff" stroke-width="1.0"/>
<text x="590.5" y="76.03" font-size="4.8" text-anchor="middle" textLength="10.4" lengthAdjust="spacingAndGlyphs" font-weight="bold" stroke="#000" stroke-width="0.2" fill="#000">BL-GY</text>
<circle cx="445" cy="93" r="9.3" fill="#fff" stroke-width="1.0" stroke-dasharray="5 0.8"/>
<text x="445" y="96" font-size="8.2" stroke="none" fill="#000" text-anchor="middle" textLength="10" lengthAdjust="spacingAndGlyphs">F7</text>
<circle cx="476" cy="93" r="9.3" fill="#fff" stroke-width="1.0" stroke-dasharray="5 0.8"/>
<text x="476" y="96" font-size="8.2" stroke="none" fill="#000" text-anchor="middle" textLength="10" lengthAdjust="spacingAndGlyphs">F8</text>
<circle cx="514" cy="93" r="9.3" fill="#fff" stroke-width="1.0" stroke-dasharray="5 0.8"/>
<text x="514" y="96" font-size="8.2" stroke="none" fill="#000" text-anchor="middle" textLength="10" lengthAdjust="spacingAndGlyphs">F9</text>
<circle cx="550" cy="91" r="10.7" fill="#fff" stroke-width="1.0" stroke-dasharray="5 0.8"/>
<text x="550" y="94" font-size="8.2" stroke="none" fill="#000" text-anchor="middle" textLength="14" lengthAdjust="spacingAndGlyphs">F10</text>
<circle cx="582.5" cy="92" r="10.7" fill="#fff" stroke-width="1.0" stroke-dasharray="5 0.8"/>
<text x="582.5" y="95" font-size="8.2" stroke="none" fill="#000" text-anchor="middle" textLength="14" lengthAdjust="spacingAndGlyphs">F11</text>
<path d="M544 47 L451 62 L451 64" fill="none" stroke-width="0.8" stroke-dasharray="3 1.2 1 1.2"/>
<line x1="451" y1="62" x2="438" y2="66" stroke-width="0.8" stroke-dasharray="3 1.2 1 1.2"/>
<line x1="451" y1="62" x2="452" y2="68" stroke-width="0.8" stroke-dasharray="3 1.2 1 1.2"/>
<path d="M544 47 L484 59 L471 67" fill="none" stroke-width="0.8" stroke-dasharray="3 1.2 1 1.2"/>
<line x1="484" y1="59" x2="486" y2="68" stroke-width="0.8" stroke-dasharray="3 1.2 1 1.2"/>
<path d="M544 47 L510 57 L506 67" fill="none" stroke-width="0.8" stroke-dasharray="3 1.2 1 1.2"/>
<line x1="510" y1="57" x2="518" y2="68" stroke-width="0.8" stroke-dasharray="3 1.2 1 1.2"/>
<path d="M544 47 L546 56 L540 67" fill="none" stroke-width="0.8" stroke-dasharray="3 1.2 1 1.2"/>
<path d="M546 56 L552 64 L555 69" fill="none" stroke-width="0.8" stroke-dasharray="3 1.2 1 1.2"/>
<path d="M544 47 L582 57 L575 67" fill="none" stroke-width="0.8" stroke-dasharray="3 1.2 1 1.2"/>
<line x1="582" y1="57" x2="589" y2="68" stroke-width="0.8" stroke-dasharray="3 1.2 1 1.2"/>
<text x="449.5" y="65.5" font-size="5" stroke="#000" stroke-width="0.22" fill="#000">1</text>
<line x1="434" y1="80.8" x2="440.05" y2="85.095" stroke-width="1.0" stroke-dasharray="1.2 1.3"/>
<line x1="452.5" y1="80.8" x2="448.375" y2="85.095" stroke-width="1.0" stroke-dasharray="1.2 1.3"/>
<line x1="469.5" y1="80.8" x2="473.075" y2="85.095" stroke-width="1.0" stroke-dasharray="1.2 1.3"/>
<line x1="486" y1="80.8" x2="480.5" y2="85.095" stroke-width="1.0" stroke-dasharray="1.2 1.3"/>
<line x1="502.5" y1="80.8" x2="508.825" y2="85.095" stroke-width="1.0" stroke-dasharray="1.2 1.3"/>
<line x1="520" y1="80.8" x2="516.7" y2="85.095" stroke-width="1.0" stroke-dasharray="1.2 1.3"/>
<line x1="538" y1="80.8" x2="544.6" y2="81.905" stroke-width="1.0" stroke-dasharray="1.2 1.3"/>
<line x1="555.5" y1="80.8" x2="552.475" y2="81.905" stroke-width="1.0" stroke-dasharray="1.2 1.3"/>
<line x1="572.5" y1="80.8" x2="578.0" y2="82.905" stroke-width="1.0" stroke-dasharray="1.2 1.3"/>
<line x1="590.5" y1="80.8" x2="586.1" y2="82.905" stroke-width="1.0" stroke-dasharray="1.2 1.3"/>
<text x="477.5" y="112.5" font-size="12.4" stroke="none" fill="#000" textLength="40" lengthAdjust="spacingAndGlyphs">403,432</text>
<line x1="500" y1="103" x2="509" y2="101.5" stroke-width="1.0" stroke-dasharray="4 2"/>
<path d="M509.0 101.5 L505.5 103.7 L504.9 100.6 Z" fill="#000" stroke="none" shape-rendering="geometricPrecision"/>
<text x="426" y="126" font-size="12.4" stroke="none" fill="#000" textLength="40" lengthAdjust="spacingAndGlyphs">192,206</text>
<line x1="450" y1="113" x2="447.5" y2="103" stroke-width="1.0"/>
<path d="M447.5 103.0 L450.2 106.9 L446.9 107.7 Z" fill="#000" stroke="none" shape-rendering="geometricPrecision"/>
<line x1="450" y1="113" x2="469.5" y2="99.5" stroke-width="1.0"/>
<path d="M469.5 99.5 L466.8 103.4 L464.9 100.6 Z" fill="#000" stroke="none" shape-rendering="geometricPrecision"/>
<text x="441" y="154" font-size="12.4" stroke="none" fill="#000" textLength="18.5" lengthAdjust="spacingAndGlyphs">430</text>
<line x1="460" y1="143" x2="471" y2="127" stroke-width="1.0"/>
<line x1="466" y1="134" x2="471" y2="127" stroke-width="1.0"/>
<path d="M471.0 127.0 L470.0 131.0 L467.5 129.2 Z" fill="#000" stroke="none" shape-rendering="geometricPrecision"/>
<path d="M460 153 L466 158 L471 159.5" fill="none" stroke-width="1.0" stroke-dasharray="9 2 1.5 2"/>
<text x="557" y="126" font-size="12.4" stroke="none" fill="#000" textLength="38" lengthAdjust="spacingAndGlyphs">191,206</text>
<line x1="557" y1="115" x2="552.5" y2="102" stroke-width="1.0"/>
<path d="M552.5 102.0 L555.5 105.6 L552.3 106.7 Z" fill="#000" stroke="none" shape-rendering="geometricPrecision"/>
<text x="602" y="113" font-size="12.4" stroke="none" fill="#000" textLength="40" lengthAdjust="spacingAndGlyphs">377,432</text>
<line x1="601" y1="106" x2="592.5" y2="98" stroke-width="1.0" stroke-dasharray="9 2 1.5 2"/>
<path d="M592.5 98.0 L596.9 99.8 L594.5 102.2 Z" fill="#000" stroke="none" shape-rendering="geometricPrecision"/>
<rect x="471" y="114" width="73" height="13" fill="none" stroke-width="1.0"/>
<rect x="471" y="159" width="73" height="13.5" fill="none" stroke-width="1.0"/>
<rect x="476.1" y="117.1" width="5.8" height="5.8" fill="#fff" stroke-width="0.9"/>
<text x="479" y="121.2" font-size="3.6" font-weight="bold" text-anchor="middle" stroke="none" fill="#000">B</text>
<rect x="476.1" y="163.6" width="5.8" height="5.8" fill="#fff" stroke-width="0.9"/>
<text x="479" y="167.7" font-size="3.6" font-weight="bold" text-anchor="middle" stroke="none" fill="#000">B</text>
<line x1="479" y1="122.6" x2="479" y2="163.9" stroke-width="1.0"/>
<rect x="487.1" y="117.1" width="5.8" height="5.8" fill="#fff" stroke-width="0.9"/>
<text x="490" y="121.2" font-size="3.6" font-weight="bold" text-anchor="middle" stroke="none" fill="#000">D</text>
<rect x="487.1" y="163.6" width="5.8" height="5.8" fill="#fff" stroke-width="0.9"/>
<text x="490" y="167.7" font-size="3.6" font-weight="bold" text-anchor="middle" stroke="none" fill="#000">D</text>
<line x1="490" y1="122.6" x2="490" y2="163.9" stroke-width="1.0"/>
<rect x="498.1" y="117.1" width="5.8" height="5.8" fill="#fff" stroke-width="0.9"/>
<text x="501" y="121.2" font-size="3.6" font-weight="bold" text-anchor="middle" stroke="none" fill="#000">B</text>
<rect x="498.1" y="163.6" width="5.8" height="5.8" fill="#fff" stroke-width="0.9"/>
<text x="501" y="167.7" font-size="3.6" font-weight="bold" text-anchor="middle" stroke="none" fill="#000">B</text>
<line x1="501" y1="122.6" x2="501" y2="163.9" stroke-width="1.0"/>
<rect x="509.6" y="117.1" width="5.8" height="5.8" fill="#fff" stroke-width="0.9"/>
<text x="512.5" y="121.2" font-size="3.6" font-weight="bold" text-anchor="middle" stroke="none" fill="#000">D</text>
<rect x="509.6" y="163.6" width="5.8" height="5.8" fill="#fff" stroke-width="0.9"/>
<text x="512.5" y="167.7" font-size="3.6" font-weight="bold" text-anchor="middle" stroke="none" fill="#000">D</text>
<line x1="512.5" y1="122.6" x2="512.5" y2="163.9" stroke-width="1.0"/>
<rect x="521.1" y="117.1" width="5.8" height="5.8" fill="#fff" stroke-width="0.9"/>
<text x="524" y="121.2" font-size="3.6" font-weight="bold" text-anchor="middle" stroke="none" fill="#000">B</text>
<rect x="521.1" y="163.6" width="5.8" height="5.8" fill="#fff" stroke-width="0.9"/>
<text x="524" y="167.7" font-size="3.6" font-weight="bold" text-anchor="middle" stroke="none" fill="#000">B</text>
<rect x="532.1" y="117.1" width="5.8" height="5.8" fill="#fff" stroke-width="0.9"/>
<text x="535" y="121.2" font-size="3.6" font-weight="bold" text-anchor="middle" stroke="none" fill="#000">D</text>
<rect x="532.1" y="163.6" width="5.8" height="5.8" fill="#fff" stroke-width="0.9"/>
<text x="535" y="167.7" font-size="3.6" font-weight="bold" text-anchor="middle" stroke="none" fill="#000">D</text>
<line x1="524" y1="122.6" x2="524" y2="138" stroke-width="1.0"/>
<line x1="535" y1="150" x2="535" y2="163.9" stroke-width="1.0"/>
<rect x="475.5" y="136.5" width="7" height="10" fill="#fff" stroke-width="0"/>
<text x="479" y="142" font-size="4" font-weight="bold" text-anchor="middle" stroke="none" fill="#000">F7</text>
<text x="479" y="148.8" font-size="4" font-weight="bold" text-anchor="middle" stroke="none" fill="#000">F1</text>
<rect x="486.5" y="136.5" width="7" height="10" fill="#fff" stroke-width="0"/>
<text x="490" y="142" font-size="4" font-weight="bold" text-anchor="middle" stroke="none" fill="#000">F8</text>
<text x="490" y="148.8" font-size="4" font-weight="bold" text-anchor="middle" stroke="none" fill="#000">F2</text>
<rect x="497.5" y="136.5" width="7" height="10" fill="#fff" stroke-width="0"/>
<text x="501" y="142" font-size="4" font-weight="bold" text-anchor="middle" stroke="none" fill="#000">F9</text>
<text x="501" y="148.8" font-size="4" font-weight="bold" text-anchor="middle" stroke="none" fill="#000">F3</text>
<rect x="509.0" y="136.5" width="7" height="10" fill="#fff" stroke-width="0"/>
<text x="512.5" y="142" font-size="4" font-weight="bold" text-anchor="middle" stroke="none" fill="#000">F10</text>
<text x="512.5" y="148.8" font-size="4" font-weight="bold" text-anchor="middle" stroke="none" fill="#000">F4</text>
<text x="524" y="142" font-size="4" font-weight="bold" text-anchor="middle" stroke="none" fill="#000">F11</text>
<text x="535" y="148.8" font-size="4" font-weight="bold" text-anchor="middle" stroke="none" fill="#000">F6</text>
<text x="545" y="140.5" font-size="8.3" stroke="none" fill="#000" textLength="41" lengthAdjust="spacingAndGlyphs">FUSIBLES</text>
<line x1="543" y1="142.7" x2="588" y2="142.7" stroke-width="0.9"/>
<text x="549" y="150" font-size="8.3" stroke="none" fill="#000" font-style="italic" textLength="28.5" lengthAdjust="spacingAndGlyphs">FUSES</text>
<text x="425" y="173.5" font-size="12.4" stroke="none" fill="#000" textLength="40.5" lengthAdjust="spacingAndGlyphs">377,432</text>
<line x1="444" y1="176" x2="439" y2="187" stroke-width="1.0"/>
<path d="M439.0 187.0 L439.3 182.3 L442.4 183.7 Z" fill="#000" stroke="none" shape-rendering="geometricPrecision"/>
<line x1="444" y1="176" x2="456.5" y2="189" stroke-width="1.0"/>
<path d="M456.5 189.0 L452.2 187.0 L454.7 184.7 Z" fill="#000" stroke="none" shape-rendering="geometricPrecision"/>
<text x="469.5" y="185" font-size="12.4" stroke="none" fill="#000" textLength="61" lengthAdjust="spacingAndGlyphs">206,403,432</text>
<line x1="495" y1="187" x2="497" y2="190" stroke-width="1.0" stroke-dasharray="4 2"/>
<text x="546" y="184" font-size="12.4" stroke="none" fill="#000" textLength="40" lengthAdjust="spacingAndGlyphs">377,432</text>
<line x1="546" y1="181" x2="533" y2="192" stroke-width="1.0"/>
<path d="M533.0 192.0 L535.3 187.9 L537.5 190.4 Z" fill="#000" stroke="none" shape-rendering="geometricPrecision"/>
<text x="595" y="227.5" font-size="12.4" stroke="none" fill="#000" textLength="40" lengthAdjust="spacingAndGlyphs">432,466</text>
<line x1="594" y1="219" x2="567.5" y2="203.5" stroke-width="1.0" stroke-dasharray="9 2 1.5 2"/>
<path d="M567.5 203.5 L572.2 204.3 L570.4 207.2 Z" fill="#000" stroke="none" shape-rendering="geometricPrecision"/>
<circle cx="436" cy="196" r="9" fill="#fff" stroke-width="1.0" stroke-dasharray="5 0.8"/>
<text x="436" y="199" font-size="8.2" stroke="none" fill="#000" text-anchor="middle" textLength="10" lengthAdjust="spacingAndGlyphs">F1</text>
<circle cx="462.5" cy="196" r="9" fill="#fff" stroke-width="1.0" stroke-dasharray="5 0.8"/>
<text x="462.5" y="199" font-size="8.2" stroke="none" fill="#000" text-anchor="middle" textLength="10" lengthAdjust="spacingAndGlyphs">F2</text>
<circle cx="495" cy="196" r="9" fill="#fff" stroke-width="1.0" stroke-dasharray="5 0.8"/>
<text x="495" y="199" font-size="8.2" stroke="none" fill="#000" text-anchor="middle" textLength="10" lengthAdjust="spacingAndGlyphs">F3</text>
<circle cx="527.5" cy="197.5" r="9" fill="#fff" stroke-width="1.0" stroke-dasharray="5 0.8"/>
<text x="527.5" y="200.5" font-size="8.2" stroke="none" fill="#000" text-anchor="middle" textLength="10" lengthAdjust="spacingAndGlyphs">F4</text>
<circle cx="560" cy="197.5" r="9" fill="#fff" stroke-width="1.0" stroke-dasharray="5 0.8"/>
<text x="560" y="200.5" font-size="8.2" stroke="none" fill="#000" text-anchor="middle" textLength="10" lengthAdjust="spacingAndGlyphs">F6</text>
<circle cx="427" cy="216" r="6.4" fill="#fff" stroke-width="1.0"/>
<text x="427" y="217.73" font-size="4.8" text-anchor="middle" textLength="10.0" lengthAdjust="spacingAndGlyphs" font-weight="bold" stroke="#000" stroke-width="0.2" fill="#000">BK-GY</text>
<circle cx="443" cy="216" r="6.4" fill="#fff" stroke-width="1.0"/>
<text x="443" y="217.73" font-size="4.8" text-anchor="middle" textLength="10.0" lengthAdjust="spacingAndGlyphs" font-weight="bold" stroke="#000" stroke-width="0.2" fill="#000">VI-BL</text>
<circle cx="459" cy="216" r="6.4" fill="#fff" stroke-width="1.0"/>
<text x="459" y="217.73" font-size="4.8" text-anchor="middle" textLength="10.0" lengthAdjust="spacingAndGlyphs" font-weight="bold" stroke="#000" stroke-width="0.2" fill="#000">VI-YE</text>
<circle cx="474.5" cy="216" r="6.4" fill="#fff" stroke-width="1.0"/>
<text x="474.5" y="217.73" font-size="4.8" text-anchor="middle" textLength="10.0" lengthAdjust="spacingAndGlyphs" font-weight="bold" stroke="#000" stroke-width="0.2" fill="#000">BK-BG</text>
<circle cx="490" cy="216" r="6.4" fill="#fff" stroke-width="1.0"/>
<text x="490" y="217.73" font-size="4.8" text-anchor="middle" textLength="10.0" lengthAdjust="spacingAndGlyphs" font-weight="bold" stroke="#000" stroke-width="0.2" fill="#000">BL-RD</text>
<circle cx="505.5" cy="216" r="6.4" fill="#fff" stroke-width="1.0"/>
<text x="505.5" y="217.73" font-size="4.8" text-anchor="middle" textLength="10.0" lengthAdjust="spacingAndGlyphs" font-weight="bold" stroke="#000" stroke-width="0.2" fill="#000">BL-RD</text>
<circle cx="522.5" cy="216" r="6.4" fill="#fff" stroke-width="1.0"/>
<text x="522.5" y="217.73" font-size="4.8" text-anchor="middle" textLength="10.0" lengthAdjust="spacingAndGlyphs" font-weight="bold" stroke="#000" stroke-width="0.2" fill="#000">RD-GN</text>
<circle cx="538" cy="216" r="6.4" fill="#fff" stroke-width="1.0"/>
<text x="538" y="217.73" font-size="4.8" text-anchor="middle" textLength="10.0" lengthAdjust="spacingAndGlyphs" font-weight="bold" stroke="#000" stroke-width="0.2" fill="#000">GN-BG</text>
<circle cx="555" cy="216" r="4" fill="#fff" stroke-width="1.0"/>
<text x="555" y="217.37" font-size="3.8" text-anchor="middle" textLength="4.6" lengthAdjust="spacingAndGlyphs" font-weight="bold" stroke="#000" stroke-width="0.2" fill="#000">BU</text>
<circle cx="570.5" cy="216" r="4" fill="#fff" stroke-width="1.0"/>
<text x="570.5" y="217.37" font-size="3.8" text-anchor="middle" textLength="4.6" lengthAdjust="spacingAndGlyphs" font-weight="bold" stroke="#000" stroke-width="0.2" fill="#000">BU</text>
<line x1="427" y1="209.6" x2="432.4" y2="205" stroke-width="1.0" stroke-dasharray="1.2 1.3"/>
<line x1="443" y1="209.6" x2="438.8" y2="205" stroke-width="1.0" stroke-dasharray="1.2 1.3"/>
<line x1="459" y1="209.6" x2="461.1" y2="205" stroke-width="1.0" stroke-dasharray="1.2 1.3"/>
<line x1="474.5" y1="209.6" x2="467.3" y2="205" stroke-width="1.0" stroke-dasharray="1.2 1.3"/>
<line x1="490" y1="209.6" x2="493.0" y2="205" stroke-width="1.0" stroke-dasharray="1.2 1.3"/>
<line x1="505.5" y1="209.6" x2="499.2" y2="205" stroke-width="1.0" stroke-dasharray="1.2 1.3"/>
<line x1="522.5" y1="209.6" x2="525.5" y2="205" stroke-width="1.0" stroke-dasharray="1.2 1.3"/>
<line x1="538" y1="209.6" x2="531.7" y2="205" stroke-width="1.0" stroke-dasharray="1.2 1.3"/>
<line x1="555" y1="209.6" x2="558.0" y2="205" stroke-width="1.0" stroke-dasharray="1.2 1.3"/>
<line x1="570.5" y1="209.6" x2="564.2" y2="205" stroke-width="1.0" stroke-dasharray="1.2 1.3"/>
<path d="M431 222 C440 227 470 229 500 231" fill="none" stroke-width="1.0" stroke-dasharray="1.2 1.3"/>
<path d="M448 222 C455 228 480 229 500 231" fill="none" stroke-width="1.0" stroke-dasharray="1.2 1.3"/>
<path d="M500 231 C530 229 552 227 557 220" fill="none" stroke-width="1.0" stroke-dasharray="1.2 1.3"/>
<path d="M500 231 C520 228 560 228 565 222" fill="none" stroke-width="1.0" stroke-dasharray="1.2 1.3"/>
<path d="M478 222 C485 228 495 229 500 231" fill="none" stroke-width="1.0" stroke-dasharray="1.2 1.3"/>
<rect x="595" y="146" width="38" height="19" fill="none" stroke-width="1.0"/>
<rect x="633" y="148" width="7" height="15" fill="none" stroke-width="1.0"/>
<rect x="597" y="149" width="34" height="13" fill="#000" stroke-width="0.4"/>
<rect x="598.5" y="151" width="3.6" height="9" fill="#fff" stroke-width="0"/>
<rect x="599.3" y="153.5" width="2" height="4" fill="#000" stroke-width="0"/>
<rect x="603.9" y="151" width="3.6" height="9" fill="#fff" stroke-width="0"/>
<rect x="604.6999999999999" y="153.5" width="2" height="4" fill="#000" stroke-width="0"/>
<rect x="609.3" y="151" width="3.6" height="9" fill="#fff" stroke-width="0"/>
<rect x="610.0999999999999" y="153.5" width="2" height="4" fill="#000" stroke-width="0"/>
<rect x="614.7" y="151" width="3.6" height="9" fill="#fff" stroke-width="0"/>
<rect x="615.5" y="153.5" width="2" height="4" fill="#000" stroke-width="0"/>
<rect x="620.1" y="151" width="3.6" height="9" fill="#fff" stroke-width="0"/>
<rect x="620.9" y="153.5" width="2" height="4" fill="#000" stroke-width="0"/>
<rect x="625.5" y="151" width="3.6" height="9" fill="#fff" stroke-width="0"/>
<rect x="626.3" y="153.5" width="2" height="4" fill="#000" stroke-width="0"/>
<line x1="614" y1="146" x2="614" y2="165" stroke-width="1.2"/>
<path d="M596 178 L604 170 L610 168 L618 172 L636 184 L638 200 L630 209 L612 205 L596 195 Z" fill="none" stroke-width="1.1"/>
<line x1="597.5" y1="178.0" x2="597.5" y2="193.0" stroke-width="1.4"/>
<line x1="599.5" y1="173.0" x2="599.5" y2="185.0" stroke-width="0.9"/>
<line x1="602.1" y1="180.4" x2="602.1" y2="195.4" stroke-width="1.4"/>
<line x1="604.1" y1="175.4" x2="604.1" y2="187.4" stroke-width="0.9"/>
<line x1="606.7" y1="182.8" x2="606.7" y2="197.8" stroke-width="1.4"/>
<line x1="608.7" y1="177.8" x2="608.7" y2="189.8" stroke-width="0.9"/>
<line x1="611.3" y1="185.2" x2="611.3" y2="200.2" stroke-width="1.4"/>
<line x1="613.3" y1="180.2" x2="613.3" y2="192.2" stroke-width="0.9"/>
<line x1="615.9" y1="187.6" x2="615.9" y2="202.6" stroke-width="1.4"/>
<line x1="617.9" y1="182.6" x2="617.9" y2="194.6" stroke-width="0.9"/>
<line x1="620.5" y1="190.0" x2="620.5" y2="205.0" stroke-width="1.4"/>
<line x1="622.5" y1="185.0" x2="622.5" y2="197.0" stroke-width="0.9"/>
<line x1="625.1" y1="192.4" x2="625.1" y2="207.4" stroke-width="1.4"/>
<line x1="627.1" y1="187.4" x2="627.1" y2="199.4" stroke-width="0.9"/>
<line x1="629.7" y1="194.8" x2="629.7" y2="209.8" stroke-width="1.4"/>
<line x1="631.7" y1="189.8" x2="631.7" y2="201.8" stroke-width="0.9"/>
<path d="M604 170 L605 182 L617 189 L618 172" fill="none" stroke-width="0.9"/>
<path d="M617 189 L629 198 L636 184" fill="none" stroke-width="0.9"/>
<path d="M622 170 L622 198" fill="none" stroke-width="1.8"/>
<path d="M630 166 L630 192" fill="none" stroke-width="1.1"/>
<path d="M626 172 L626 186" fill="none" stroke-width="1.2"/>
<path d="M600 196 L614 205 L628 208" fill="none" stroke-width="1.4"/>
<path d="M608 174 L612 168.5 L616 172" fill="none" stroke-width="1.0"/>
<path d="M630 202 L634 198 L638 203 L634 207 Z" fill="none" stroke-width="1.0"/>
<text x="631" y="205.5" font-size="5" stroke="#000" stroke-width="0.22" fill="#000" font-weight="bold">N</text>
<line x1="631" y1="163" x2="631" y2="167" stroke-width="1.0"/>
<line x1="595.5" y1="246" x2="595.5" y2="258" stroke-width="1.0"/>
<text x="565" y="268.5" font-size="7" stroke="#000" stroke-width="0.22" fill="#000" textLength="63.5" lengthAdjust="spacingAndGlyphs">BOITE A FUSIBLES</text>
<text x="579.5" y="280" font-size="7.6" stroke="none" fill="#000" font-style="italic" textLength="33.5" lengthAdjust="spacingAndGlyphs">FUSE BOX</text>
<text x="654" y="56.5" font-size="12.4" stroke="none" fill="#000" textLength="19" lengthAdjust="spacingAndGlyphs">741</text>
<path d="M663 58 L682 70 L682 66 Z" fill="#000" stroke="none" shape-rendering="geometricPrecision"/>
<line x1="663" y1="58" x2="683" y2="68" stroke-width="0.8"/>
<line x1="668" y1="60" x2="680" y2="74" stroke-width="0.8"/>
<text x="751" y="90" font-size="12.4" stroke="none" fill="#000" textLength="19.5" lengthAdjust="spacingAndGlyphs">501</text>
<line x1="740" y1="93" x2="751" y2="87" stroke-width="1.0"/>
<path d="M656 80 L683 60 L694 54 L716 66 L762 102 L762 118 L724 140 L724 122 L656 84 Z" fill="none" stroke-width="1.1"/>
<path d="M656 80 L690 98 L724 122" fill="none" stroke-width="1.0"/>
<path d="M690 98 L690 118" fill="none" stroke-width="1.0"/>
<path d="M656 84 L657 104 L690 118 L722 139" fill="none" stroke-width="1.0"/>
<path d="M683 60 L695 60 L695 76 L683 76 Z" fill="#fff" stroke-width="0.9"/>
<path d="M683 60 L692 54 L704 54 L695 60 Z" fill="#fff" stroke-width="0.9"/>
<path d="M695 60 L704 54 L704 70 L695 76 Z" fill="#fff" stroke-width="0.9"/>
<path d="M698 68 L710 68 L710 85 L698 85 Z" fill="#fff" stroke-width="0.9"/>
<path d="M698 68 L707 62 L719 62 L710 68 Z" fill="#fff" stroke-width="0.9"/>
<path d="M710 68 L719 62 L719 79 L710 85 Z" fill="#fff" stroke-width="0.9"/>
<path d="M681 78 L693 78 L693 96 L681 96 Z" fill="#fff" stroke-width="0.9"/>
<path d="M681 78 L690 73 L702 73 L693 78 Z" fill="#fff" stroke-width="0.9"/>
<path d="M693 78 L702 73 L702 91 L693 96 Z" fill="#fff" stroke-width="0.9"/>
<line x1="672" y1="78" x2="672" y2="92" stroke-width="0.9"/>
<line x1="675" y1="77" x2="675" y2="93" stroke-width="0.9"/>
<line x1="669" y1="80" x2="669" y2="90" stroke-width="0.9"/>
<path d="M664 86 L670 90" fill="none" stroke-width="1.6"/>
<path d="M680 94 L686 98" fill="none" stroke-width="1.6"/>
<path d="M721 92.5 L738 86 L751 92.5 L735 100 Z" fill="url(#spk)" stroke-width="0.4"/>
<path d="M738 101.5 L752 94.5 L760 99.5 L746 107 Z" fill="url(#spk)" stroke-width="0.4"/>
<path d="M702 104 L717 96 L731 103 L716 112 Z" fill="url(#spk)" stroke-width="0.4"/>
<path d="M718 113.5 L733 105 L745 111 L730 119.5 Z" fill="url(#spk)" stroke-width="0.4"/>
<line x1="726" y1="84" x2="761" y2="101" stroke-width="1.0"/>
<line x1="712" y1="98" x2="742" y2="114" stroke-width="0.8" stroke-dasharray="2 1.5"/>
<line x1="728" y1="92" x2="756" y2="105" stroke-width="0.8" stroke-dasharray="2 1.5"/>
<circle cx="704" cy="88" r="2.2" fill="#fff" stroke-width="1.0"/>
<line x1="703" y1="90" x2="705" y2="96" stroke-width="1.2"/>
<path d="M653 78 L657 76 L659 80 L655 82 Z" fill="#000" stroke-width="0.8"/>
<path d="M652 95 L656 93 L656 104 L652 105 Z" fill="none" stroke-width="1.0"/>
<circle cx="659" cy="103.5" r="1.6" fill="#000" stroke-width="1.0"/>
<path d="M722 122 L722 143 L726 146 L730 144 L730 124" fill="none" stroke-width="1.0"/>
<path d="M732 140 L733 146 L738 146 L738 138" fill="none" stroke-width="1.0"/>
<path d="M736 122 L745 130 L752 128" fill="none" stroke-width="1.6"/>
<path d="M738 116 L756 108" fill="none" stroke-width="0.9"/>
<path d="M744 112 L748 117" fill="none" stroke-width="1.3"/>
<path d="M756 118 L760 116 L765 120 L765 128 L760 130 L756 127 Z" fill="none" stroke-width="1.0"/>
<circle cx="760.5" cy="126" r="2" fill="#fff" stroke-width="1.0"/>
<line x1="762" y1="118" x2="762" y2="102" stroke-width="1.0"/>
<rect x="672" y="152" width="16" height="16.5" fill="none" stroke-width="1.0"/>
<rect x="692.5" y="152" width="16.5" height="16.5" fill="none" stroke-width="1.0"/>
<line x1="666" y1="169" x2="764" y2="169" stroke-width="1.1"/>
<line x1="667.5" y1="169" x2="667.5" y2="194.5" stroke-width="1.1"/>
<line x1="760" y1="169" x2="760" y2="194.5" stroke-width="1.1"/>
<line x1="721" y1="186" x2="760" y2="186" stroke-width="1.0"/>
<line x1="714.5" y1="169" x2="714.5" y2="185" stroke-width="1.2"/>
<circle cx="675" cy="191" r="4.6" fill="#fff" stroke-width="1.0"/>
<line x1="658" y1="194.5" x2="667.5" y2="194.5" stroke-width="1.2"/>
<line x1="760" y1="194.5" x2="774" y2="194.5" stroke-width="1.2"/>
<path d="M658 190 L667.5 190" fill="none" stroke-width="1.0"/>
<path d="M760 190 L774 190" fill="none" stroke-width="1.0"/>
<line x1="658" y1="190" x2="658" y2="194.5" stroke-width="1.0"/>
<line x1="774" y1="190" x2="774" y2="194.5" stroke-width="1.0"/>
<line x1="768" y1="190" x2="768" y2="194.5" stroke-width="1.0"/>
<path d="M666 172 L652 174 L650 178 L656 181 L666 186" fill="none" stroke-width="1.1"/>
<path d="M654 175 L660 175" fill="none" stroke-width="1.4"/>
<path d="M764 172 L777 174 L779 178 L773 181 L764 187" fill="none" stroke-width="1.1"/>
<path d="M766 175 L773 175" fill="none" stroke-width="1.4"/>
<line x1="663" y1="169" x2="663" y2="186" stroke-width="0.9"/>
<line x1="722.5" y1="166.5" x2="756" y2="166.5" stroke-width="1.6"/>
<line x1="723.5" y1="163.5" x2="723.5" y2="169" stroke-width="1.2"/>
<line x1="726.1" y1="163.5" x2="726.1" y2="169" stroke-width="1.2"/>
<line x1="728.7" y1="163.5" x2="728.7" y2="169" stroke-width="1.2"/>
<line x1="731.3" y1="163.5" x2="731.3" y2="169" stroke-width="1.2"/>
<line x1="733.9" y1="163.5" x2="733.9" y2="169" stroke-width="1.2"/>
<line x1="736.5" y1="163.5" x2="736.5" y2="169" stroke-width="1.2"/>
<line x1="739.1" y1="163.5" x2="739.1" y2="169" stroke-width="1.2"/>
<line x1="741.7" y1="163.5" x2="741.7" y2="169" stroke-width="1.2"/>
<line x1="744.3" y1="163.5" x2="744.3" y2="169" stroke-width="1.2"/>
<line x1="746.9" y1="163.5" x2="746.9" y2="169" stroke-width="1.2"/>
<line x1="749.5" y1="163.5" x2="749.5" y2="169" stroke-width="1.2"/>
<line x1="752.1" y1="163.5" x2="752.1" y2="169" stroke-width="1.2"/>
<line x1="754.7" y1="163.5" x2="754.7" y2="169" stroke-width="1.2"/>
<line x1="677" y1="169" x2="685" y2="169" stroke-width="1.8"/>
<line x1="697" y1="169" x2="705" y2="169" stroke-width="1.8"/>
<text x="894" y="32" font-size="12.4" stroke="none" fill="#000" textLength="69" lengthAdjust="spacingAndGlyphs">481,482,484</text>
<line x1="892.5" y1="30" x2="867" y2="36.5" stroke-width="1.0"/>
<path d="M867.0 36.5 L870.8 33.8 L871.7 37.1 Z" fill="#000" stroke="none" shape-rendering="geometricPrecision"/>
<text x="872" y="42" font-size="5" stroke="#000" stroke-width="0.22" fill="#000" textLength="38" lengthAdjust="spacingAndGlyphs">VALVE RAVE</text>
<line x1="870" y1="43.5" x2="913" y2="43.5" stroke-width="0.9"/>
<text x="872" y="48" font-size="5" stroke="#000" stroke-width="0.22" fill="#000" font-style="italic" textLength="38" lengthAdjust="spacingAndGlyphs">RAVE VALVE</text>
<path d="M848 40 L852 36 L860 35 L865 40 L865 46 L858 51 L850 52 L846 49 Z" fill="none" stroke-width="1.1"/>
<path d="M850 38 L858 36 L862 42 L856 48 L850 47 Z" fill="#000" stroke-width="0.6"/>
<path d="M853 41 L858 40 L858 44 L853 45 Z" fill="#fff" stroke-width="0.4"/>
<line x1="846" y1="52" x2="852" y2="49" stroke-width="1.8"/>
<line x1="860" y1="36" x2="864" y2="44" stroke-width="1.6"/>
<path d="M844 35 L827 35 L827 54 L844 54" fill="none" stroke-width="1.0"/>
<line x1="844" y1="35" x2="844" y2="38" stroke-width="1.0"/>
<line x1="844" y1="50" x2="844" y2="54" stroke-width="1.0"/>
<line x1="827" y1="44.5" x2="832" y2="44.5" stroke-width="1.0"/>
<rect x="832.2" y="38.7" width="4.6" height="4.6" fill="#fff" stroke-width="0.9"/>
<text x="834.5" y="42.2" font-size="3.6" font-weight="bold" text-anchor="middle" stroke="none" fill="#000">M</text>
<rect x="832.2" y="46.2" width="4.6" height="4.6" fill="#fff" stroke-width="0.9"/>
<text x="834.5" y="49.7" font-size="3.6" font-weight="bold" text-anchor="middle" stroke="none" fill="#000">B</text>
<line x1="822" y1="41" x2="832.5" y2="41" stroke-width="1.0"/>
<line x1="822" y1="48.5" x2="832.5" y2="48.5" stroke-width="1.0"/>
<circle cx="807" cy="37.5" r="5.2" fill="#fff" stroke-width="1.0"/>
<text x="807" y="39.23" font-size="4.8" text-anchor="middle" textLength="7.6" lengthAdjust="spacingAndGlyphs" font-weight="bold" stroke="#000" stroke-width="0.2" fill="#000">BR-R</text>
<circle cx="807" cy="52.5" r="5.2" fill="#fff" stroke-width="1.0"/>
<text x="807" y="54.23" font-size="4.8" text-anchor="middle" textLength="5.8" lengthAdjust="spacingAndGlyphs" font-weight="bold" stroke="#000" stroke-width="0.2" fill="#000">LR</text>
<path d="M811.8 37.5 C816 37 818 40 822 41" fill="none" stroke-width="1.0" stroke-dasharray="1.2 1.3"/>
<path d="M811.8 52.5 C816 52 818 49 822 48.5" fill="none" stroke-width="1.0" stroke-dasharray="4 2"/>
<path d="M765 39 L780 44.5" fill="none" stroke-width="1.0" stroke-dasharray="9 2 1.5 2"/>
<path d="M780 44.5 C788 38 795 37 802.2 37.5" fill="none" stroke-width="1.0" stroke-dasharray="1.2 1.3"/>
<path d="M780 44.5 C788 52 795 53 802.2 52.5" fill="none" stroke-width="1.0" stroke-dasharray="4 2"/>
<path d="M765 39 L794 76.5" fill="none" stroke-width="0.9"/>
<text x="888" y="65.5" font-size="12.4" stroke="none" fill="#000" textLength="38" lengthAdjust="spacingAndGlyphs">44,355</text>
<line x1="887" y1="64.5" x2="860" y2="70.5" stroke-width="1.0"/>
<path d="M860.0 70.5 L863.9 67.9 L864.7 71.2 Z" fill="#000" stroke="none" shape-rendering="geometricPrecision"/>
<text x="865.5" y="76" font-size="5" stroke="#000" stroke-width="0.22" fill="#000" textLength="55.5" lengthAdjust="spacingAndGlyphs">RECHAUFFE VALVE</text>
<text x="870" y="83" font-size="5" stroke="#000" stroke-width="0.22" fill="#000" font-style="italic" textLength="45" lengthAdjust="spacingAndGlyphs">VALVE HEATER</text>
<path d="M848 74 L854 69 L859 70 L859 75 L853 80 L849 81 Z" fill="#000" stroke-width="0.6"/>
<path d="M852 74 L856 72 L856 75 L852 77 Z" fill="#fff" stroke-width="0.3"/>
<line x1="849" y1="81" x2="847.5" y2="77" stroke-width="1.3"/>
<path d="M844 65.5 L827 65.5 L827 84 L844 84" fill="none" stroke-width="1.0"/>
<line x1="844" y1="65.5" x2="844" y2="84" stroke-width="1.0"/>
<rect x="832.2" y="69.2" width="4.6" height="4.6" fill="#fff" stroke-width="0.9"/>
<text x="834.5" y="72.7" font-size="3.6" font-weight="bold" text-anchor="middle" stroke="none" fill="#000">B</text>
<rect x="832.2" y="77.2" width="4.6" height="4.6" fill="#fff" stroke-width="0.9"/>
<text x="834.5" y="80.7" font-size="3.6" font-weight="bold" text-anchor="middle" stroke="none" fill="#000">D</text>
<line x1="824" y1="71" x2="832.5" y2="71" stroke-width="1.0"/>
<line x1="824" y1="79.5" x2="832.5" y2="79.5" stroke-width="1.0"/>
<line x1="827" y1="65.5" x2="827" y2="84" stroke-width="1.0"/>
<circle cx="814" cy="68" r="2.8" fill="#fff" stroke-width="1.0"/>
<text x="814" y="69.08" font-size="3" text-anchor="middle" textLength="1.8" lengthAdjust="spacingAndGlyphs" font-weight="bold" stroke="#000" stroke-width="0.2" fill="#000">B</text>
<circle cx="813" cy="85" r="5.2" fill="#fff" stroke-width="1.0"/>
<text x="813" y="86.73" font-size="4.8" text-anchor="middle" textLength="7.6" lengthAdjust="spacingAndGlyphs" font-weight="bold" stroke="#000" stroke-width="0.2" fill="#000">BK-R</text>
<path d="M794 76.5 C800 72 806 69 811.2 68" fill="none" stroke-width="1.0" stroke-dasharray="1.2 1.3"/>
<path d="M816.8 68 C820 69 821 71 824 71" fill="none" stroke-width="1.0" stroke-dasharray="4 2"/>
<path d="M794 76.5 C800 82 804 85 808.2 85" fill="none" stroke-width="0.9"/>
<path d="M817.8 85 C821 84 821 80 824 79.5" fill="none" stroke-width="1.0" stroke-dasharray="4 2"/>
<text x="867.5" y="110" font-size="5.6" stroke="#000" stroke-width="0.22" fill="#000" textLength="59.5" lengthAdjust="spacingAndGlyphs">POMPE A ESSENCE</text>
<line x1="866" y1="111.5" x2="928" y2="111.5" stroke-width="0.9"/>
<text x="880" y="116.5" font-size="5.2" stroke="#000" stroke-width="0.22" fill="#000" font-style="italic" textLength="34" lengthAdjust="spacingAndGlyphs">FUEL PUMP</text>
<text x="900" y="157.5" font-size="12.4" stroke="none" fill="#000" textLength="69" lengthAdjust="spacingAndGlyphs">112,122,134</text>
<line x1="900" y1="150" x2="892" y2="140" stroke-width="1.0"/>
<path d="M892.0 140.0 L895.7 142.0 L893.1 144.1 Z" fill="#000" stroke="none" shape-rendering="geometricPrecision"/>
<path d="M882 131 L889 122.5 L897 122 L900 127 L892 138 L884 139 Z" fill="none" stroke-width="1.0"/>
<path d="M881 133 L886 126 L890 129 L888 137 L882 138 Z" fill="#000" stroke-width="0.5"/>
<path d="M889 122.5 C894 120 899 122 900 127" fill="none" stroke-width="0.9"/>
<line x1="884" y1="139" x2="892" y2="138" stroke-width="2"/>
<circle cx="849.5" cy="123" r="4.4" fill="#fff" stroke-width="1.0"/>
<text x="849.5" y="124.73" font-size="4.8" text-anchor="middle" textLength="6.0" lengthAdjust="spacingAndGlyphs" font-weight="bold" stroke="#000" stroke-width="0.2" fill="#000">BK-R</text>
<circle cx="857.5" cy="130.5" r="4.4" fill="#fff" stroke-width="1.0"/>
<text x="857.5" y="132.23" font-size="4.8" text-anchor="middle" textLength="6.0" lengthAdjust="spacingAndGlyphs" font-weight="bold" stroke="#000" stroke-width="0.2" fill="#000">BK-G</text>
<circle cx="850" cy="139" r="2.4" fill="#fff" stroke-width="1.0"/>
<text x="850" y="139.94" font-size="2.6" text-anchor="middle" textLength="1.6" lengthAdjust="spacingAndGlyphs" font-weight="bold" stroke="#000" stroke-width="0.2" fill="#000">B</text>
<circle cx="857.5" cy="148" r="3.3" fill="#fff" stroke-width="1.0"/>
<text x="857.5" y="149.08" font-size="3" text-anchor="middle" textLength="3.6" lengthAdjust="spacingAndGlyphs" font-weight="bold" stroke="#000" stroke-width="0.2" fill="#000">GN</text>
<path d="M824 135 C832 128 838 124 845 123" fill="none" stroke-width="1.0" stroke-dasharray="1.2 1.3"/>
<path d="M854 123 C862 123 872 128 881 133" fill="none" stroke-width="1.0" stroke-dasharray="1.2 1.3"/>
<path d="M824 135 C835 132 845 131 853 130.5" fill="none" stroke-width="1.0" stroke-dasharray="1.2 1.3"/>
<path d="M862 130.5 C868 131 874 133 881 134" fill="none" stroke-width="1.0" stroke-dasharray="1.2 1.3"/>
<path d="M824 135 C832 137 840 139 847.5 139" fill="none" stroke-width="1.0" stroke-dasharray="1.2 1.3"/>
<path d="M852.5 139 C862 140 872 138 881 135.5" fill="none" stroke-width="1.0" stroke-dasharray="1.2 1.3"/>
<path d="M824 135 C832 142 842 148 854 148" fill="none" stroke-width="1.0" stroke-dasharray="4 2"/>
<path d="M861 148 C868 147 875 141 882 137" fill="none" stroke-width="1.0" stroke-dasharray="1.2 1.3"/>
<line x1="824" y1="135" x2="723.5" y2="281.5" stroke-width="0.9"/>
<line x1="723.5" y1="281.5" x2="787" y2="268.5" stroke-width="1.0" stroke-dasharray="9 2 1.5 2"/>
<rect x="869" y="196" width="16.5" height="59.5" fill="none" stroke-width="1.0"/>
<rect x="872.6" y="200.1" width="4.8" height="4.8" fill="#fff" stroke-width="0.9"/>
<text x="875" y="203.7" font-size="3.6" font-weight="bold" text-anchor="middle" stroke="none" fill="#000">A</text>
<rect x="872.6" y="207.6" width="4.8" height="4.8" fill="#fff" stroke-width="0.9"/>
<text x="875" y="211.2" font-size="3.6" font-weight="bold" text-anchor="middle" stroke="none" fill="#000">B</text>
<rect x="872.6" y="215.6" width="4.8" height="4.8" fill="#fff" stroke-width="0.9"/>
<text x="875" y="219.2" font-size="3.6" font-weight="bold" text-anchor="middle" stroke="none" fill="#000">C</text>
<rect x="872.6" y="223.6" width="4.8" height="4.8" fill="#fff" stroke-width="0.9"/>
<text x="875" y="227.2" font-size="3.6" font-weight="bold" text-anchor="middle" stroke="none" fill="#000">D</text>
<rect x="872.6" y="231.6" width="4.8" height="4.8" fill="#fff" stroke-width="0.9"/>
<text x="875" y="235.2" font-size="3.6" font-weight="bold" text-anchor="middle" stroke="none" fill="#000">E</text>
<rect x="872.6" y="239.1" width="4.8" height="4.8" fill="#fff" stroke-width="0.9"/>
<text x="875" y="242.7" font-size="3.6" font-weight="bold" text-anchor="middle" stroke="none" fill="#000">F</text>
<rect x="872.6" y="247.6" width="4.8" height="4.8" fill="#fff" stroke-width="0.9"/>
<text x="875" y="251.2" font-size="3.6" font-weight="bold" text-anchor="middle" stroke="none" fill="#000">G</text>
<rect x="880.3" y="204.4" width="3.2" height="3.2" fill="#000" stroke-width="0.3"/>
<rect x="880.3" y="212.4" width="3.2" height="3.2" fill="#000" stroke-width="0.3"/>
<rect x="880.3" y="220.9" width="3.2" height="3.2" fill="#000" stroke-width="0.3"/>
<rect x="880.3" y="228.4" width="3.2" height="3.2" fill="#000" stroke-width="0.3"/>
<rect x="880.3" y="235.9" width="3.2" height="3.2" fill="#000" stroke-width="0.3"/>
<rect x="880.3" y="244.9" width="3.2" height="3.2" fill="#000" stroke-width="0.3"/>
<path d="M787 268.5 L804.5 170 L807.5 167 L812.5 167" fill="none" stroke-width="1.0" stroke-dasharray="3 1 1 1"/>
<path d="M818.5 167 L838 167 L841 168.5 L863 202.5 L866 202.5" fill="none" stroke-width="1.0" stroke-dasharray="4 1.5"/>
<line x1="866" y1="202.5" x2="873" y2="202.5" stroke-width="1.0"/>
<circle cx="815.5" cy="167" r="3" fill="#fff" stroke-width="1.0"/>
<text x="815.5" y="168.37" font-size="3.8" text-anchor="middle" textLength="2.3" lengthAdjust="spacingAndGlyphs" font-weight="bold" stroke="#000" stroke-width="0.2" fill="#000">B</text>
<path d="M787 268.5 L802.3 190 L805.3 187 L810.3 187" fill="none" stroke-width="1.0" stroke-dasharray="1.2 1.3"/>
<path d="M820.7 187 L838 187 L841 188.5 L863 206 L866 206" fill="none" stroke-width="1.0" stroke-dasharray="1.2 1.3"/>
<line x1="866" y1="206" x2="873" y2="206" stroke-width="1.0"/>
<circle cx="815.5" cy="187" r="5.2" fill="#fff" stroke-width="1.0"/>
<text x="815.5" y="188.73" font-size="4.8" text-anchor="middle" textLength="7.6" lengthAdjust="spacingAndGlyphs" font-weight="bold" stroke="#000" stroke-width="0.2" fill="#000">BK-R</text>
<path d="M787 268.5 L803.7 209.5 L806.7 206.5 L811.7 206.5" fill="none" stroke-width="1.0" stroke-dasharray="3 1 1 1"/>
<path d="M818.3 206.5 L838 206.5 L841 208.0 L863 210 L866 210" fill="none" stroke-width="1.0" stroke-dasharray="4 1.5"/>
<line x1="866" y1="210" x2="873" y2="210" stroke-width="1.0"/>
<circle cx="815" cy="206.5" r="3.3" fill="#fff" stroke-width="1.0"/>
<text x="815" y="207.87" font-size="3.8" text-anchor="middle" textLength="3.8" lengthAdjust="spacingAndGlyphs" font-weight="bold" stroke="#000" stroke-width="0.2" fill="#000">YE</text>
<path d="M787 268.5 L813.7 219.5 L816.7 216.5 L821.7 216.5" fill="none" stroke-width="1.0" stroke-dasharray="1.2 1.3"/>
<path d="M828.3 216.5 L846 216.5 L849 215.0 L863 214 L866 214" fill="none" stroke-width="1.0" stroke-dasharray="1.2 1.3"/>
<line x1="866" y1="214" x2="873" y2="214" stroke-width="1.0"/>
<circle cx="825" cy="216.5" r="3.3" fill="#fff" stroke-width="1.0"/>
<text x="825" y="217.87" font-size="3.8" text-anchor="middle" textLength="3.8" lengthAdjust="spacingAndGlyphs" font-weight="bold" stroke="#000" stroke-width="0.2" fill="#000">WH</text>
<path d="M787 268.5 L802.3 229 L805.3 226 L810.3 226" fill="none" stroke-width="1.0" stroke-dasharray="3 1 1 1"/>
<path d="M820.7 226 L838 226 L841 224.5 L863 218 L866 218" fill="none" stroke-width="1.0" stroke-dasharray="4 1.5"/>
<line x1="866" y1="218" x2="873" y2="218" stroke-width="1.0"/>
<circle cx="815.5" cy="226" r="5.2" fill="#fff" stroke-width="1.0"/>
<text x="815.5" y="227.73" font-size="4.8" text-anchor="middle" textLength="7.6" lengthAdjust="spacingAndGlyphs" font-weight="bold" stroke="#000" stroke-width="0.2" fill="#000">BL-R</text>
<path d="M787 268.5 L813.3 239.5 L816.3 236.5 L821.3 236.5" fill="none" stroke-width="1.0" stroke-dasharray="1.2 1.3"/>
<path d="M831.7 236.5 L846 236.5 L849 235.0 L863 222.5 L866 222.5" fill="none" stroke-width="1.0" stroke-dasharray="1.2 1.3"/>
<line x1="866" y1="222.5" x2="873" y2="222.5" stroke-width="1.0"/>
<circle cx="826.5" cy="236.5" r="5.2" fill="#fff" stroke-width="1.0"/>
<text x="826.5" y="238.23" font-size="4.8" text-anchor="middle" textLength="7.6" lengthAdjust="spacingAndGlyphs" font-weight="bold" stroke="#000" stroke-width="0.2" fill="#000">YE-RD</text>
<path d="M787 268.5 L813.6 259 L816.6 256 L821.6 256" fill="none" stroke-width="1.0" stroke-dasharray="3 1 1 1"/>
<path d="M830.4 256 L846 256 L849 254.5 L863 234 L866 234" fill="none" stroke-width="1.0" stroke-dasharray="4 1.5"/>
<line x1="866" y1="234" x2="873" y2="234" stroke-width="1.0"/>
<circle cx="826" cy="256" r="4.4" fill="#fff" stroke-width="1.0"/>
<text x="826" y="257.73" font-size="4.8" text-anchor="middle" textLength="6.0" lengthAdjust="spacingAndGlyphs" font-weight="bold" stroke="#000" stroke-width="0.2" fill="#000">BL-Y</text>
<path d="M787 268.5 L810.8 266" fill="none" stroke-width="1.0" stroke-dasharray="1.2 1.3"/>
<path d="M821.2 266 L838 266 L841 264.5 L863 237.5 L866 237.5" fill="none" stroke-width="1.0" stroke-dasharray="1.2 1.3"/>
<line x1="866" y1="237.5" x2="873" y2="237.5" stroke-width="1.0"/>
<circle cx="816" cy="266" r="5.2" fill="#fff" stroke-width="1.0"/>
<text x="816" y="267.73" font-size="4.8" text-anchor="middle" textLength="7.6" lengthAdjust="spacingAndGlyphs" font-weight="bold" stroke="#000" stroke-width="0.2" fill="#000">PR-G</text>
<path d="M787 268.5 L812.8 272 L815.8 275 L820.8 275" fill="none" stroke-width="1.0" stroke-dasharray="3 1 1 1"/>
<path d="M831.2 275 L846 275 L849 273.5 L863 241.5 L866 241.5" fill="none" stroke-width="1.0" stroke-dasharray="4 1.5"/>
<line x1="866" y1="241.5" x2="873" y2="241.5" stroke-width="1.0"/>
<circle cx="826" cy="275" r="5.2" fill="#fff" stroke-width="1.0"/>
<text x="826" y="276.73" font-size="4.8" text-anchor="middle" textLength="7.6" lengthAdjust="spacingAndGlyphs" font-weight="bold" stroke="#000" stroke-width="0.2" fill="#000">YE-BK</text>
<path d="M787 268.5 L802.8 282.5 L805.8 285.5 L810.8 285.5" fill="none" stroke-width="1.0" stroke-dasharray="1.2 1.3"/>
<path d="M821.2 285.5 L838 285.5 L841 284.0 L863 246.5 L866 246.5" fill="none" stroke-width="1.0" stroke-dasharray="1.2 1.3"/>
<line x1="866" y1="246.5" x2="873" y2="246.5" stroke-width="1.0"/>
<circle cx="816" cy="285.5" r="5.2" fill="#fff" stroke-width="1.0"/>
<text x="816" y="287.23" font-size="4.8" text-anchor="middle" textLength="7.6" lengthAdjust="spacingAndGlyphs" font-weight="bold" stroke="#000" stroke-width="0.2" fill="#000">BK-B</text>
<text x="922.5" y="201.5" font-size="12.4" stroke="none" fill="#000" textLength="46.5" lengthAdjust="spacingAndGlyphs">44,46,57</text>
<line x1="921.5" y1="202.5" x2="906" y2="215.5" stroke-width="1.0"/>
<path d="M906.0 215.5 L908.3 211.4 L910.5 214.0 Z" fill="#000" stroke="none" shape-rendering="geometricPrecision"/>
<text x="920.5" y="223" font-size="5.4" stroke="#000" stroke-width="0.22" fill="#000" textLength="55" lengthAdjust="spacingAndGlyphs">CABLAGE GUIDON</text>
<line x1="919" y1="224.5" x2="977" y2="224.5" stroke-width="0.9"/>
<text x="918.5" y="232" font-size="5.4" stroke="#000" stroke-width="0.22" fill="#000" font-style="italic" textLength="58.5" lengthAdjust="spacingAndGlyphs">STEERING HARNESS</text>
<path d="M887.5 222 L896 214 L917 221 L917 229 L910 235 L888 229 Z" fill="none" stroke-width="1.0"/>
<path d="M889 223 L909 229 L909 234 L889 228.5 Z" fill="#000" stroke-width="0.5"/>
<line x1="896" y1="214.5" x2="893" y2="218.5" stroke-width="1.4"/>
<line x1="900" y1="215.9" x2="897" y2="219.9" stroke-width="1.4"/>
<line x1="904" y1="217.3" x2="901" y2="221.3" stroke-width="1.4"/>
<line x1="908" y1="218.7" x2="905" y2="222.7" stroke-width="1.4"/>
<line x1="912" y1="220.1" x2="909" y2="224.1" stroke-width="1.4"/>
<line stroke="#fff" stroke-dasharray="2 1.5" x1="891" y1="225.5" x2="907" y2="230.5" stroke-width="0.7"/>
<path d="M723.5 281.5 L782.5 292 L840.5 292" fill="none" stroke-width="1.0" stroke-dasharray="1.2 1.3"/>
<path d="M840.5 292 C846 288 850 285 854 284" fill="none" stroke-width="1.0" stroke-dasharray="4 2"/>
<path d="M840.5 292 C846 296 850 300 854.5 300.5" fill="none" stroke-width="1.0" stroke-dasharray="4 2"/>
<circle cx="857.5" cy="284" r="3.4" fill="#fff" stroke-width="1.0"/>
<text x="857.5" y="285.08" font-size="3" text-anchor="middle" textLength="1.8" lengthAdjust="spacingAndGlyphs" font-weight="bold" stroke="#000" stroke-width="0.2" fill="#000">W</text>
<circle cx="858" cy="300.5" r="3.4" fill="#fff" stroke-width="1.0"/>
<text x="858" y="301.58" font-size="3" text-anchor="middle" textLength="3.6" lengthAdjust="spacingAndGlyphs" font-weight="bold" stroke="#000" stroke-width="0.2" fill="#000">BK</text>
<rect x="872" y="280" width="16" height="20" fill="none" stroke-width="1.0"/>
<rect x="877.1" y="284.1" width="4.8" height="4.8" fill="#fff" stroke-width="0.9"/>
<text x="879.5" y="287.7" font-size="3.6" font-weight="bold" text-anchor="middle" stroke="none" fill="#000">A</text>
<rect x="877.1" y="292.1" width="4.8" height="4.8" fill="#fff" stroke-width="0.9"/>
<text x="879.5" y="295.7" font-size="3.6" font-weight="bold" text-anchor="middle" stroke="none" fill="#000">B</text>
<path d="M861 284 C866 284 866 286.5 870 286.5 L877 286.5" fill="none" stroke-width="0.8"/>
<path d="M861.5 300.5 C866 300 866 294.5 870 294.5 L877 294.5" fill="none" stroke-width="0.8"/>
<text x="918.5" y="274" font-size="12.4" stroke="none" fill="#000" textLength="37" lengthAdjust="spacingAndGlyphs">44,355</text>
<line x1="918" y1="275" x2="903" y2="287" stroke-width="1.0"/>
<path d="M903.0 287.0 L905.4 282.9 L907.5 285.6 Z" fill="#000" stroke="none" shape-rendering="geometricPrecision"/>
<text x="914" y="289" font-size="5.4" stroke="#000" stroke-width="0.22" fill="#000" textLength="58" lengthAdjust="spacingAndGlyphs">BOUTON REVERSE</text>
<line x1="912" y1="290.2" x2="974" y2="290.2" stroke-width="0.9"/>
<text x="915.5" y="296.5" font-size="5.4" stroke="#000" stroke-width="0.22" fill="#000" font-style="italic" textLength="52.5" lengthAdjust="spacingAndGlyphs">REVERSE SWITCH</text>
<path d="M892 291 L897 285 L905 283 L906 288 L899 296 L893 297 Z" fill="#000" stroke-width="0.6"/>
<line stroke="#fff" x1="895" y1="290" x2="903" y2="286" stroke-width="0.7"/>
<line stroke="#fff" x1="894" y1="294" x2="901" y2="290" stroke-width="0.7"/>
<circle cx="893" cy="293" r="2.2" fill="#fff" stroke-width="1.0"/>
<line x1="723.5" y1="281.5" x2="787" y2="333.5" stroke-width="1.0" stroke-dasharray="9 2 1.5 2"/>
<rect x="867" y="308" width="15.5" height="51.5" fill="none" stroke-width="1.0"/>
<rect x="870.6" y="311.6" width="4.8" height="4.8" fill="#fff" stroke-width="0.9"/>
<text x="873" y="315.2" font-size="3.6" font-weight="bold" text-anchor="middle" stroke="none" fill="#000">A</text>
<line x1="862" y1="314" x2="871" y2="314" stroke-width="1.0"/>
<rect x="870.6" y="318.6" width="4.8" height="4.8" fill="#fff" stroke-width="0.9"/>
<text x="873" y="322.2" font-size="3.6" font-weight="bold" text-anchor="middle" stroke="none" fill="#000">B</text>
<line x1="862" y1="321" x2="871" y2="321" stroke-width="1.0"/>
<rect x="870.6" y="326.6" width="4.8" height="4.8" fill="#fff" stroke-width="0.9"/>
<text x="873" y="330.2" font-size="3.6" font-weight="bold" text-anchor="middle" stroke="none" fill="#000">C</text>
<line x1="862" y1="329" x2="871" y2="329" stroke-width="1.0"/>
<rect x="870.6" y="335.1" width="4.8" height="4.8" fill="#fff" stroke-width="0.9"/>
<text x="873" y="338.7" font-size="3.6" font-weight="bold" text-anchor="middle" stroke="none" fill="#000">D</text>
<line x1="862" y1="337.5" x2="871" y2="337.5" stroke-width="1.0"/>
<rect x="870.6" y="343.1" width="4.8" height="4.8" fill="#fff" stroke-width="0.9"/>
<text x="873" y="346.7" font-size="3.6" font-weight="bold" text-anchor="middle" stroke="none" fill="#000">E</text>
<line x1="862" y1="345.5" x2="871" y2="345.5" stroke-width="1.0"/>
<rect x="870.6" y="350.6" width="4.8" height="4.8" fill="#fff" stroke-width="0.9"/>
<text x="873" y="354.2" font-size="3.6" font-weight="bold" text-anchor="middle" stroke="none" fill="#000">F</text>
<line x1="862" y1="353" x2="871" y2="353" stroke-width="1.0"/>
<path d="M787 333.5 L801.3 305.5 L804.3 302.5 L810.3 302.5" fill="none" stroke-width="1.0" stroke-dasharray="4 1.5"/>
<path d="M820.7 302.5 L838 302.5 L841 304.0 L859 314 L862 314" fill="none" stroke-width="1.0" stroke-dasharray="4 1.5"/>
<circle cx="815.5" cy="302.5" r="5.2" fill="#fff" stroke-width="1.0"/>
<text x="815.5" y="304.23" font-size="4.8" text-anchor="middle" textLength="7.6" lengthAdjust="spacingAndGlyphs" font-weight="bold" stroke="#000" stroke-width="0.2" fill="#000">BK-Y</text>
<path d="M787 333.5 L801.3 318 L804.3 315 L810.3 315" fill="none" stroke-width="1.0" stroke-dasharray="4 1.5"/>
<path d="M820.7 315 L838 315 L841 316.5 L859 321 L862 321" fill="none" stroke-width="1.0" stroke-dasharray="4 1.5"/>
<circle cx="815.5" cy="315" r="5.2" fill="#fff" stroke-width="1.0"/>
<text x="815.5" y="316.73" font-size="4.8" text-anchor="middle" textLength="7.6" lengthAdjust="spacingAndGlyphs" font-weight="bold" stroke="#000" stroke-width="0.2" fill="#000">BL-B</text>
<path d="M787 333.5 L801.3 338 L804.3 341 L810.3 341" fill="none" stroke-width="1.0" stroke-dasharray="4 1.5"/>
<path d="M820.7 341 L838 341 L841 339.5 L859 337.5 L862 337.5" fill="none" stroke-width="1.0" stroke-dasharray="1.2 1.3"/>
<circle cx="815.5" cy="341" r="5.2" fill="#fff" stroke-width="1.0"/>
<text x="815.5" y="342.73" font-size="4.8" text-anchor="middle" textLength="7.6" lengthAdjust="spacingAndGlyphs" font-weight="bold" stroke="#000" stroke-width="0.2" fill="#000">BK-R</text>
<path d="M787 333.5 L801.3 351.5 L804.3 354.5 L810.3 354.5" fill="none" stroke-width="1.0" stroke-dasharray="4 1.5"/>
<path d="M820.7 354.5 L838 354.5 L841 353.0 L859 345.5 L862 345.5" fill="none" stroke-width="1.0" stroke-dasharray="1.2 1.3"/>
<circle cx="815.5" cy="354.5" r="5.2" fill="#fff" stroke-width="1.0"/>
<text x="815.5" y="356.23" font-size="4.8" text-anchor="middle" textLength="7.6" lengthAdjust="spacingAndGlyphs" font-weight="bold" stroke="#000" stroke-width="0.2" fill="#000">BL-P</text>
<path d="M787 333.5 L801.3 364 L804.3 367 L810.3 367" fill="none" stroke-width="1.0" stroke-dasharray="4 1.5"/>
<path d="M820.7 367 L838 367 L841 365.5 L859 353 L862 353" fill="none" stroke-width="1.0" stroke-dasharray="4 1.5"/>
<circle cx="815.5" cy="367" r="5.2" fill="#fff" stroke-width="1.0"/>
<text x="815.5" y="368.73" font-size="4.8" text-anchor="middle" textLength="7.6" lengthAdjust="spacingAndGlyphs" font-weight="bold" stroke="#000" stroke-width="0.2" fill="#000">BK-P</text>
<text x="922.5" y="317" font-size="12.4" stroke="none" fill="#000" textLength="36" lengthAdjust="spacingAndGlyphs">44,309</text>
<line x1="922" y1="318" x2="907" y2="330.5" stroke-width="1.0"/>
<path d="M907.0 330.5 L909.3 326.4 L911.5 329.0 Z" fill="#000" stroke="none" shape-rendering="geometricPrecision"/>
<text x="916.5" y="333" font-size="5.4" stroke="#000" stroke-width="0.22" fill="#000" font-style="italic" textLength="56.5" lengthAdjust="spacingAndGlyphs">CABLAGE CONSOLE</text>
<text x="916.5" y="341" font-size="5.4" stroke="#000" stroke-width="0.22" fill="#000" font-style="italic" textLength="56.5" lengthAdjust="spacingAndGlyphs">CONSOLE HARNESS</text>
<path d="M884 334 L892 325 L910 329 L910 338 L902 343.5 L885 340 Z" fill="none" stroke-width="1.0"/>
<path d="M886 333 L893 326 L906 330 L899 337 Z" fill="#000" stroke-width="0.5"/>
<line stroke="#fff" stroke-dasharray="2 1.2" x1="889" y1="333" x2="902" y2="330" stroke-width="0.8"/>
<line stroke="#fff" stroke-dasharray="2 1.2" x1="892" y1="335.5" x2="904" y2="332.5" stroke-width="0.8"/>
<line x1="899" y1="337" x2="899" y2="343" stroke-width="0.9"/>
<line x1="886" y1="336" x2="899" y2="340" stroke-width="0.9"/>
<path d="M722.7 282.5 L717.5 318 L713.5 356" fill="none" stroke-width="1.0" stroke-dasharray="9 2"/>
<path d="M713.5 356 L713.5 361 L726 361" fill="none" stroke-width="0.9"/>
<path d="M713.5 356 C718 352 722 350 726 349.5" fill="none" stroke-width="1.0" stroke-dasharray="4 2"/>
<path d="M713.5 361 C718 367 722 372 726 373" fill="none" stroke-width="1.0" stroke-dasharray="4 2"/>
<rect x="694" y="316.3" width="14.5" height="4.4" fill="none" stroke-width="0.8"/>
<text x="694.8" y="320.1" font-size="4.4" font-weight="bold" textLength="12.9" lengthAdjust="spacingAndGlyphs" stroke="none" fill="#000">30060</text>
<line x1="708.5" y1="318.5" x2="716" y2="317.5" stroke-width="1.0"/>
<circle cx="730.5" cy="349.5" r="5.2" fill="#fff" stroke-width="1.0"/>
<text x="730.5" y="351.23" font-size="4.8" text-anchor="middle" textLength="7.6" lengthAdjust="spacingAndGlyphs" font-weight="bold" stroke="#000" stroke-width="0.2" fill="#000">YE-RD</text>
<circle cx="730.5" cy="361" r="5.2" fill="#fff" stroke-width="1.0"/>
<text x="730.5" y="362.73" font-size="4.8" text-anchor="middle" textLength="7.6" lengthAdjust="spacingAndGlyphs" font-weight="bold" stroke="#000" stroke-width="0.2" fill="#000">BK-R</text>
<circle cx="730.5" cy="373" r="5.2" fill="#fff" stroke-width="1.0"/>
<text x="730.5" y="374.73" font-size="4.8" text-anchor="middle" textLength="7.6" lengthAdjust="spacingAndGlyphs" font-weight="bold" stroke="#000" stroke-width="0.2" fill="#000">PR-G</text>
<path d="M735.3 349.5 C740 352 742 357 746 359" fill="none" stroke-width="1.0" stroke-dasharray="1.2 1.3"/>
<line x1="735.3" y1="361" x2="745" y2="362" stroke-width="1.0" stroke-dasharray="1.2 1.3"/>
<path d="M735.3 373 C740 371 742 368 746 366" fill="none" stroke-width="1.0" stroke-dasharray="1.2 1.3"/>
<path d="M744 358 L752 357 L766 366 L764 374 L756 377.5 L746 370 Z" fill="none" stroke-width="1.0"/>
<path d="M743 357.5 L751 357 L750 363 L745 366 Z" fill="#000" stroke-width="0.5"/>
<path d="M748 368 C752 372 758 372 761 366" fill="none" stroke-width="0.9"/>
<path d="M746 370 C749 374 753 376 756 377.5" fill="none" stroke-width="1.3"/>
<text x="730" y="389" font-size="6.6" stroke="#000" stroke-width="0.22" fill="#000" textLength="49" lengthAdjust="spacingAndGlyphs">CAPTEUR DE</text>
<line x1="727" y1="390.5" x2="782" y2="390.5" stroke-width="0.9"/>
<text x="736.5" y="397" font-size="6.6" stroke="#000" stroke-width="0.22" fill="#000" textLength="31.5" lengthAdjust="spacingAndGlyphs">VITESSE</text>
<line x1="727" y1="398.5" x2="782" y2="398.5" stroke-width="0.9"/>
<text x="725" y="406.5" font-size="6.6" stroke="#000" stroke-width="0.22" fill="#000" font-style="italic" textLength="60" lengthAdjust="spacingAndGlyphs">SPEED SENSOR</text>
<text x="809.5" y="404" font-size="12.4" stroke="none" fill="#000" textLength="68.5" lengthAdjust="spacingAndGlyphs">110,115,127</text>
<line x1="766.5" y1="375" x2="805" y2="394" stroke-width="1.0" stroke-dasharray="9 2 1.5 2"/>
<path d="M272.5 238 L291.8 238" fill="none" stroke-width="1.0" stroke-dasharray="4 2"/>
<path d="M272.5 238 L272.5 258.7 L397.5 258.7 L507.5 388.2 L507.5 392.5" fill="none" stroke-width="1.0"/>
<path d="M282.8 231 L282.8 255 L401 255 L513.3 389.4 L513.3 398" fill="none" stroke-width="1.0"/>
<path d="M291.8 238 L291.8 250.2 L403.4 250.2 L519.2 388.2 L519.2 396.4" fill="none" stroke-width="1.0"/>
<line x1="400.5" y1="257.5" x2="510.5" y2="389" stroke-width="0.8" stroke-dasharray="7 2.5"/>
<line x1="403.5" y1="253" x2="516.3" y2="389" stroke-width="0.8" stroke-dasharray="7 2.5"/>
<text x="465.5" y="280" font-size="12.4" stroke="none" fill="#000" textLength="19.5" lengthAdjust="spacingAndGlyphs">256</text>
<line x1="461" y1="281.5" x2="442.5" y2="294" stroke-width="1.0" stroke-dasharray="9 2 1.5 2"/>
<path d="M442.5 294.0 L445.1 290.0 L447.2 293.0 Z" fill="#000" stroke="none" shape-rendering="geometricPrecision"/>
<line x1="235" y1="392.5" x2="510" y2="392.5" stroke-width="1.0" stroke-dasharray="14 1.5 2 1.5"/>
<line x1="235" y1="406.5" x2="510" y2="406.5" stroke-width="1.0" stroke-dasharray="10 1.2 1.5 1.2 1.5 1.2"/>
<line x1="248" y1="399" x2="510" y2="399" stroke-width="0.9" stroke-dasharray="8 2.5"/>
<line x1="235" y1="392" x2="235" y2="407" stroke-width="1.0"/>
<line x1="248" y1="392" x2="248" y2="407" stroke-width="1.0"/>
<line x1="363.5" y1="392" x2="363.5" y2="407" stroke-width="1.0"/>
<line x1="412.5" y1="392" x2="412.5" y2="407" stroke-width="1.0"/>
<line x1="510" y1="392" x2="510" y2="407" stroke-width="1.0"/>
<line x1="183" y1="394" x2="235" y2="394" stroke-width="1.0" stroke-dasharray="12 1.2 2 1.2"/>
<line x1="183" y1="404.5" x2="235" y2="404.5" stroke-width="1.0" stroke-dasharray="12 1.2 2 1.2"/>
<line x1="186" y1="399" x2="248" y2="399" stroke-width="0.9" stroke-dasharray="1.2 1.3"/>
<line x1="222" y1="393.5" x2="232" y2="393.5" stroke-width="1.8"/>
<text x="183.5" y="421.5" font-size="12.4" stroke="none" fill="#000" textLength="19.5" lengthAdjust="spacingAndGlyphs">255</text>
<text x="215" y="421.5" font-size="12.4" stroke="none" fill="#000" textLength="19.5" lengthAdjust="spacingAndGlyphs">298</text>
<line x1="195.5" y1="405" x2="193" y2="411" stroke-width="1.0"/>
<line x1="224" y1="405" x2="219" y2="412.5" stroke-width="1.0"/>
<text x="395" y="423" font-size="12.4" stroke="none" fill="#000" textLength="20" lengthAdjust="spacingAndGlyphs">298</text>
<line x1="403" y1="407" x2="405" y2="411.5" stroke-width="1.0"/>
<text x="439.5" y="423" font-size="12.4" stroke="none" fill="#000" textLength="20" lengthAdjust="spacingAndGlyphs">256</text>
<line x1="445.5" y1="406.5" x2="449" y2="411.5" stroke-width="1.0" stroke-dasharray="4 2"/>
<text x="41" y="329.5" font-size="12.4" stroke="none" fill="#000" textLength="55.5" lengthAdjust="spacingAndGlyphs">44,46,383</text>
<line x1="69" y1="334" x2="74" y2="354" stroke-width="1.0" stroke-dasharray="9 2 1.5 2"/>
<path d="M74.0 354.0 L71.3 350.1 L74.6 349.3 Z" fill="#000" stroke="none" shape-rendering="geometricPrecision"/>
<text x="36" y="362.3" font-size="5.4" stroke="#000" stroke-width="0.22" fill="#000" font-style="italic" font-weight="bold" textLength="20" lengthAdjust="spacingAndGlyphs">CAPOT</text>
<text x="40" y="368.6" font-size="5.4" stroke="#000" stroke-width="0.22" fill="#000" font-style="italic" font-weight="bold" textLength="12.5" lengthAdjust="spacingAndGlyphs">CAB</text>
<path d="M62.5 358.5 L72 353.5 L90.5 358 L90.5 367.5 L78 374.5 L62.5 368.5 Z" fill="#000" stroke-width="0.6"/>
<rect x="66" y="357" width="3" height="1.4" fill="#fff" stroke-width="0"/>
<rect x="71.5" y="355.6" width="2.6" height="1.2" fill="#fff" stroke-width="0"/>
<rect x="76" y="357.2" width="3.2" height="1.3" fill="#fff" stroke-width="0"/>
<rect x="81" y="358.5" width="2.6" height="1.2" fill="#fff" stroke-width="0"/>
<rect x="85.5" y="360" width="2.4" height="1.2" fill="#fff" stroke-width="0"/>
<rect x="69" y="359.5" width="2.4" height="1.2" fill="#fff" stroke-width="0"/>
<rect x="74" y="361" width="2.8" height="1.3" fill="#fff" stroke-width="0"/>
<rect x="79.5" y="362.3" width="2.6" height="1.2" fill="#fff" stroke-width="0"/>
<rect x="64.5" y="363.5" width="3" height="1.8" fill="#fff" stroke-width="0"/>
<rect x="69" y="366" width="3" height="1.8" fill="#fff" stroke-width="0"/>
<rect x="73.5" y="368.3" width="3" height="1.8" fill="#fff" stroke-width="0"/>
<rect x="79" y="368.5" width="2.6" height="1.6" fill="#fff" stroke-width="0"/>
<rect x="83" y="366.5" width="2.6" height="1.6" fill="#fff" stroke-width="0"/>
<rect x="87" y="364" width="2.4" height="1.6" fill="#fff" stroke-width="0"/>
<rect x="66" y="361" width="1.4" height="1.4" fill="#fff" stroke-width="0"/>
<rect x="84" y="362.5" width="1.6" height="1.2" fill="#fff" stroke-width="0"/>
<line stroke="#fff" x1="62.5" y1="362" x2="78" y2="368" stroke-width="0.8"/>
<line stroke="#fff" x1="78" y1="368" x2="90.5" y2="361.5" stroke-width="0.8"/>
<line stroke="#fff" x1="78" y1="368" x2="78" y2="374.5" stroke-width="0.8"/>
<rect x="93" y="338" width="16.5" height="51" fill="none" stroke-width="0.9"/>
<line x1="105" y1="344.1" x2="109.5" y2="344.1" stroke-width="0.9"/>
<rect x="101.30000000000001" y="342.0" width="4.2" height="4.2" fill="#fff" stroke-width="0.9"/>
<text x="103.4" y="345.3" font-size="3.6" font-weight="bold" text-anchor="middle" stroke="none" fill="#000">B</text>
<line x1="105" y1="351.8" x2="109.5" y2="351.8" stroke-width="0.9"/>
<rect x="101.30000000000001" y="349.7" width="4.2" height="4.2" fill="#fff" stroke-width="0.9"/>
<text x="103.4" y="353.0" font-size="3.6" font-weight="bold" text-anchor="middle" stroke="none" fill="#000">D</text>
<line x1="105" y1="360" x2="109.5" y2="360" stroke-width="0.9"/>
<rect x="101.30000000000001" y="357.9" width="4.2" height="4.2" fill="#fff" stroke-width="0.9"/>
<text x="103.4" y="361.2" font-size="3.6" font-weight="bold" text-anchor="middle" stroke="none" fill="#000">F</text>
<line x1="105" y1="367.3" x2="109.5" y2="367.3" stroke-width="0.9"/>
<rect x="101.30000000000001" y="365.2" width="4.2" height="4.2" fill="#fff" stroke-width="0.9"/>
<text x="103.4" y="368.5" font-size="3.6" font-weight="bold" text-anchor="middle" stroke="none" fill="#000">H</text>
<line x1="105" y1="375.5" x2="109.5" y2="375.5" stroke-width="0.9"/>
<rect x="101.30000000000001" y="373.4" width="4.2" height="4.2" fill="#000" stroke-width="0.9"/>
<text x="103.4" y="376.7" font-size="3.6" font-weight="bold" text-anchor="middle" stroke="none" fill="#000">K</text>
<line x1="105" y1="383.6" x2="109.5" y2="383.6" stroke-width="0.9"/>
<rect x="101.30000000000001" y="381.5" width="4.2" height="4.2" fill="#000" stroke-width="0.9"/>
<text x="103.4" y="384.8" font-size="3.6" font-weight="bold" text-anchor="middle" stroke="none" fill="#000">L</text>
<line x1="99" y1="347.7" x2="109.5" y2="347.7" stroke-width="0.9"/>
<rect x="95.2" y="345.59999999999997" width="4.2" height="4.2" fill="#fff" stroke-width="0.9"/>
<text x="97.3" y="348.9" font-size="3.6" font-weight="bold" text-anchor="middle" stroke="none" fill="#000">A</text>
<rect x="95.2" y="354.29999999999995" width="4.2" height="4.2" fill="#000" stroke-width="0.9"/>
<text x="97.3" y="357.59999999999997" font-size="3.6" font-weight="bold" text-anchor="middle" stroke="none" fill="#000">C</text>
<line x1="99" y1="363.6" x2="109.5" y2="363.6" stroke-width="0.9"/>
<rect x="95.2" y="361.5" width="4.2" height="4.2" fill="#fff" stroke-width="0.9"/>
<text x="97.3" y="364.8" font-size="3.6" font-weight="bold" text-anchor="middle" stroke="none" fill="#000">E</text>
<line x1="99" y1="371.4" x2="109.5" y2="371.4" stroke-width="0.9"/>
<rect x="95.2" y="369.29999999999995" width="4.2" height="4.2" fill="#fff" stroke-width="0.9"/>
<text x="97.3" y="372.59999999999997" font-size="3.6" font-weight="bold" text-anchor="middle" stroke="none" fill="#000">G</text>
<line x1="99" y1="379.5" x2="109.5" y2="379.5" stroke-width="0.9"/>
<rect x="95.2" y="377.4" width="4.2" height="4.2" fill="#000" stroke-width="0.9"/>
<text x="97.3" y="380.7" font-size="3.6" font-weight="bold" text-anchor="middle" stroke="none" fill="#000">J</text>
<line x1="101" y1="347.7" x2="101" y2="356" stroke-width="0.9"/>
<path d="M109.5 344 L112.5 344 L119.5 324.5 L137.8 324.5" fill="none" stroke-width="1.0" stroke-dasharray="3 1 1 1"/>
<path d="M148.2 324.5 L153 324.5 L156 327.0 L181.5 399" fill="none" stroke-width="1.0" stroke-dasharray="1.2 1.3"/>
<circle cx="143" cy="324.5" r="5.2" fill="#fff" stroke-width="1.0"/>
<text x="143" y="326.23" font-size="4.8" text-anchor="middle" textLength="7.6" lengthAdjust="spacingAndGlyphs" font-weight="bold" stroke="#000" stroke-width="0.2" fill="#000">BK-Y</text>
<path d="M109.5 347 L112.5 347 L119.5 334 L127.8 334" fill="none" stroke-width="1.0" stroke-dasharray="3 1 1 1"/>
<path d="M138.2 334 L153 334 L156 336.5 L181.5 399" fill="none" stroke-width="1.0" stroke-dasharray="1.2 1.3"/>
<circle cx="133" cy="334" r="5.2" fill="#fff" stroke-width="1.0"/>
<text x="133" y="335.73" font-size="4.8" text-anchor="middle" textLength="5.8" lengthAdjust="spacingAndGlyphs" font-weight="bold" stroke="#000" stroke-width="0.2" fill="#000">GN</text>
<path d="M109.5 351 L112.5 351 L117 344 L137.8 344" fill="none" stroke-width="1.0" stroke-dasharray="3 1 1 1"/>
<path d="M148.2 344 L153 344 L156 346.5 L181.5 399" fill="none" stroke-width="1.0" stroke-dasharray="1.2 1.3"/>
<circle cx="143" cy="344" r="5.2" fill="#fff" stroke-width="1.0"/>
<text x="143" y="345.73" font-size="4.8" text-anchor="middle" textLength="7.6" lengthAdjust="spacingAndGlyphs" font-weight="bold" stroke="#000" stroke-width="0.2" fill="#000">BK-R</text>
<path d="M109.5 355.5 L112.5 355.5 L117 354 L130.2 354" fill="none" stroke-width="1.0" stroke-dasharray="3 1 1 1"/>
<path d="M135.8 354 L153 354 L156 356.5 L181.5 399" fill="none" stroke-width="1.0" stroke-dasharray="1.2 1.3"/>
<circle cx="133" cy="354" r="2.8" fill="#fff" stroke-width="1.0"/>
<text x="133" y="355.37" font-size="3.8" text-anchor="middle" textLength="2.3" lengthAdjust="spacingAndGlyphs" font-weight="bold" stroke="#000" stroke-width="0.2" fill="#000">B</text>
<path d="M109.5 359.5 L112.5 359.5 L117 364.5 L137.8 364.5" fill="none" stroke-width="1.0" stroke-dasharray="3 1 1 1"/>
<path d="M148.2 364.5 L153 364.5 L156 367.0 L181.5 399" fill="none" stroke-width="1.0" stroke-dasharray="1.2 1.3"/>
<circle cx="143" cy="364.5" r="5.2" fill="#fff" stroke-width="1.0"/>
<text x="143" y="366.23" font-size="4.8" text-anchor="middle" textLength="7.6" lengthAdjust="spacingAndGlyphs" font-weight="bold" stroke="#000" stroke-width="0.2" fill="#000">PR-R</text>
<path d="M109.5 363 L112.5 363 L117 374.5 L129.7 374.5" fill="none" stroke-width="1.0" stroke-dasharray="3 1 1 1"/>
<path d="M136.3 374.5 L153 374.5 L156 377.0 L181.5 399" fill="none" stroke-width="1.0" stroke-dasharray="1.2 1.3"/>
<circle cx="133" cy="374.5" r="3.3" fill="#fff" stroke-width="1.0"/>
<text x="133" y="375.87" font-size="3.8" text-anchor="middle" textLength="3.8" lengthAdjust="spacingAndGlyphs" font-weight="bold" stroke="#000" stroke-width="0.2" fill="#000">BK</text>
<path d="M109.5 367 L112.5 367 L119.5 380 L139.3 380" fill="none" stroke-width="1.0" stroke-dasharray="3 1 1 1"/>
<path d="M149.7 380 L153 380 L156 382.5 L181.5 399" fill="none" stroke-width="1.0" stroke-dasharray="1.2 1.3"/>
<circle cx="144.5" cy="380" r="5.2" fill="#fff" stroke-width="1.0"/>
<text x="144.5" y="381.73" font-size="4.8" text-anchor="middle" textLength="7.6" lengthAdjust="spacingAndGlyphs" font-weight="bold" stroke="#000" stroke-width="0.2" fill="#000">BK-P</text>
<path d="M109.5 371.5 L112.5 371.5 L119.5 387.5 L126.8 387.5" fill="none" stroke-width="1.0" stroke-dasharray="1.2 1.3"/>
<path d="M137.2 387.5 L153 387.5 L156 390.0 L181.5 399" fill="none" stroke-width="1.0" stroke-dasharray="3 1 1 1"/>
<circle cx="132" cy="387.5" r="5.2" fill="#fff" stroke-width="1.0"/>
<text x="132" y="389.23" font-size="4.8" text-anchor="middle" textLength="7.6" lengthAdjust="spacingAndGlyphs" font-weight="bold" stroke="#000" stroke-width="0.2" fill="#000">BL-Y</text>
<path d="M109.5 374.5 L112.5 374.5 L119.5 394.5 L139.7 394.5" fill="none" stroke-width="1.0" stroke-dasharray="3 1 1 1"/>
<path d="M145.3 394.5 L153 394.5 L156 394.5 L181.5 399" fill="none" stroke-width="1.0" stroke-dasharray="1.2 1.3"/>
<circle cx="142.5" cy="394.5" r="2.8" fill="#fff" stroke-width="1.0"/>
<text x="142.5" y="395.87" font-size="3.8" text-anchor="middle" textLength="2.3" lengthAdjust="spacingAndGlyphs" font-weight="bold" stroke="#000" stroke-width="0.2" fill="#000">W</text>
<path d="M109.5 379.5 L112.5 379.5 L119.5 403 L126.2 403" fill="none" stroke-width="1.0" stroke-dasharray="1.2 1.3"/>
<path d="M136.8 403 L153 403 L156 403 L181.5 399" fill="none" stroke-width="1.0" stroke-dasharray="3 1 1 1"/>
<circle cx="131.5" cy="403" r="5.3" fill="#fff" stroke-width="1.0"/>
<text x="131.5" y="404.73" font-size="4.8" text-anchor="middle" textLength="7.8" lengthAdjust="spacingAndGlyphs" font-weight="bold" stroke="#000" stroke-width="0.2" fill="#000">BL-GY</text>
<path d="M109.5 383 L112.5 383 L119.5 413.5 L137.8 413.5" fill="none" stroke-width="1.0" stroke-dasharray="1.2 1.3"/>
<path d="M148.2 413.5 L153 413.5 L156 411.0 L181.5 399" fill="none" stroke-width="1.0" stroke-dasharray="3 1 1 1"/>
<circle cx="143" cy="413.5" r="5.2" fill="#fff" stroke-width="1.0"/>
<text x="143" y="415.23" font-size="4.8" text-anchor="middle" textLength="7.6" lengthAdjust="spacingAndGlyphs" font-weight="bold" stroke="#000" stroke-width="0.2" fill="#000">BR-A</text>
<text x="44" y="475.5" font-size="12.4" stroke="none" fill="#000" textLength="37.5" lengthAdjust="spacingAndGlyphs">44,472</text>
<line x1="82" y1="475" x2="92.5" y2="483" stroke-width="1.0" stroke-dasharray="1.2 1.3"/>
<path d="M92.5 483.0 L87.9 481.8 L90.1 478.9 Z" fill="#000" stroke="none" shape-rendering="geometricPrecision"/>
<text x="64.5" y="493.5" font-size="5.2" stroke="#000" stroke-width="0.22" fill="#000" font-weight="bold" textLength="23" lengthAdjust="spacingAndGlyphs">CAPOT</text>
<line x1="63" y1="495" x2="89" y2="495" stroke-width="0.9"/>
<text x="70" y="502" font-size="5.2" stroke="#000" stroke-width="0.22" fill="#000" font-style="italic" textLength="12" lengthAdjust="spacingAndGlyphs">CAB</text>
<rect x="93" y="462" width="16.5" height="59.5" fill="none" stroke-width="0.9" stroke-dasharray="9 2 1.5 2"/>
<rect x="94.9" y="468.9" width="4.2" height="4.2" fill="#fff" stroke-width="0.9"/>
<text x="97" y="472.2" font-size="3.6" font-weight="bold" text-anchor="middle" stroke="none" fill="#000">A</text>
<rect x="94.9" y="477.9" width="4.2" height="4.2" fill="#fff" stroke-width="0.9"/>
<text x="97" y="481.2" font-size="3.6" font-weight="bold" text-anchor="middle" stroke="none" fill="#000">C</text>
<rect x="94.9" y="485.9" width="4.2" height="4.2" fill="#fff" stroke-width="0.9"/>
<text x="97" y="489.2" font-size="3.6" font-weight="bold" text-anchor="middle" stroke="none" fill="#000">E</text>
<rect x="94.9" y="493.9" width="4.2" height="4.2" fill="#fff" stroke-width="0.9"/>
<text x="97" y="497.2" font-size="3.6" font-weight="bold" text-anchor="middle" stroke="none" fill="#000">G</text>
<rect x="94.9" y="501.9" width="4.2" height="4.2" fill="#fff" stroke-width="0.9"/>
<text x="97" y="505.2" font-size="3.6" font-weight="bold" text-anchor="middle" stroke="none" fill="#000">J</text>
<rect x="94.9" y="509.9" width="4.2" height="4.2" fill="#fff" stroke-width="0.9"/>
<text x="97" y="513.2" font-size="3.6" font-weight="bold" text-anchor="middle" stroke="none" fill="#000">L</text>
<rect x="102.4" y="472.9" width="4.2" height="4.2" fill="#fff" stroke-width="0.9"/>
<text x="104.5" y="476.2" font-size="3.6" font-weight="bold" text-anchor="middle" stroke="none" fill="#000">B</text>
<rect x="102.4" y="481.9" width="4.2" height="4.2" fill="#fff" stroke-width="0.9"/>
<text x="104.5" y="485.2" font-size="3.6" font-weight="bold" text-anchor="middle" stroke="none" fill="#000">D</text>
<rect x="102.4" y="505.9" width="4.2" height="4.2" fill="#fff" stroke-width="0.9"/>
<text x="104.5" y="509.2" font-size="3.6" font-weight="bold" text-anchor="middle" stroke="none" fill="#000">K</text>
<rect x="102.4" y="513.9" width="4.2" height="4.2" fill="#fff" stroke-width="0.9"/>
<text x="104.5" y="517.2" font-size="3.6" font-weight="bold" text-anchor="middle" stroke="none" fill="#000">M</text>
<line x1="99" y1="471" x2="104" y2="471" stroke-width="1.0"/>
<line x1="104" y1="471" x2="104" y2="473" stroke-width="1.0"/>
<path d="M109.5 471 L113 471 L119 443.5 L122 442.5 L137.8 442.5" fill="none" stroke-width="1.0" stroke-dasharray="3 1 1 1"/>
<path d="M148.2 442.5 L153 442.5 L156 439.5 L181.5 399" fill="none" stroke-width="1.0" stroke-dasharray="1.2 1.3"/>
<circle cx="143" cy="442.5" r="5.2" fill="#fff" stroke-width="1.0"/>
<text x="143" y="444.23" font-size="4.8" text-anchor="middle" textLength="7.6" lengthAdjust="spacingAndGlyphs" font-weight="bold" stroke="#000" stroke-width="0.2" fill="#000">BK-B</text>
<path d="M109.5 473.5 L113 473.5 L119 453.5 L122 452.5 L127.8 452.5" fill="none" stroke-width="1.0" stroke-dasharray="3 1 1 1"/>
<path d="M138.2 452.5 L153 452.5 L156 449.5 L181.5 399" fill="none" stroke-width="1.0" stroke-dasharray="1.2 1.3"/>
<circle cx="133" cy="452.5" r="5.2" fill="#fff" stroke-width="1.0"/>
<text x="133" y="454.23" font-size="4.8" text-anchor="middle" textLength="7.6" lengthAdjust="spacingAndGlyphs" font-weight="bold" stroke="#000" stroke-width="0.2" fill="#000">BK-G</text>
<path d="M109.5 476 L113 476 L119 463 L122 462 L137.8 462" fill="none" stroke-width="1.0" stroke-dasharray="3 1 1 1"/>
<path d="M148.2 462 L153 462 L156 459 L181.5 399" fill="none" stroke-width="1.0" stroke-dasharray="1.2 1.3"/>
<circle cx="143" cy="462" r="5.2" fill="#fff" stroke-width="1.0"/>
<text x="143" y="463.73" font-size="4.8" text-anchor="middle" textLength="7.6" lengthAdjust="spacingAndGlyphs" font-weight="bold" stroke="#000" stroke-width="0.2" fill="#000">BK-P</text>
<path d="M109.5 479 L113 479 L119 473 L122 472 L127.8 472" fill="none" stroke-width="1.0" stroke-dasharray="3 1 1 1"/>
<path d="M138.2 472 L153 472 L156 469 L181.5 399" fill="none" stroke-width="1.0" stroke-dasharray="1.2 1.3"/>
<circle cx="133" cy="472" r="5.2" fill="#fff" stroke-width="1.0"/>
<text x="133" y="473.73" font-size="4.8" text-anchor="middle" textLength="7.6" lengthAdjust="spacingAndGlyphs" font-weight="bold" stroke="#000" stroke-width="0.2" fill="#000">BR-A</text>
<path d="M109.5 484 L113 484 L119 483 L122 482 L137.8 482" fill="none" stroke-width="1.0" stroke-dasharray="3 1 1 1"/>
<path d="M148.2 482 L153 482 L156 479 L181.5 399" fill="none" stroke-width="1.0" stroke-dasharray="1.2 1.3"/>
<circle cx="143" cy="482" r="5.2" fill="#fff" stroke-width="1.0"/>
<text x="143" y="483.73" font-size="4.8" text-anchor="middle" textLength="7.6" lengthAdjust="spacingAndGlyphs" font-weight="bold" stroke="#000" stroke-width="0.2" fill="#000">BK-R</text>
<path d="M109.5 503 L113 503 L117.0 515 L121 521 L139.7 521" fill="none" stroke-width="1.0" stroke-dasharray="9 2 1.5 2"/>
<path d="M145.3 521 L152 521 L155.0 517 L157.0 500 L181.5 399" fill="none" stroke-width="1.0" stroke-dasharray="1.2 1.3"/>
<circle cx="142.5" cy="521" r="2.8" fill="#fff" stroke-width="1.0"/>
<text x="142.5" y="522.37" font-size="3.8" text-anchor="middle" textLength="2.3" lengthAdjust="spacingAndGlyphs" font-weight="bold" stroke="#000" stroke-width="0.2" fill="#000">R</text>
<path d="M109.5 505.5 L113 505.5 L117.5 525 L121 531 L127.8 531" fill="none" stroke-width="1.0" stroke-dasharray="1.2 1.3"/>
<path d="M138.2 531 L152 531 L154.7 527 L157.7 497 L181.5 399" fill="none" stroke-width="1.0" stroke-dasharray="1.2 1.3"/>
<circle cx="133" cy="531" r="5.2" fill="#fff" stroke-width="1.0"/>
<text x="133" y="532.73" font-size="4.8" text-anchor="middle" textLength="7.6" lengthAdjust="spacingAndGlyphs" font-weight="bold" stroke="#000" stroke-width="0.2" fill="#000">BK-Y</text>
<path d="M109.5 508 L113 508 L118.0 535.5 L121 541.5 L139.7 541.5" fill="none" stroke-width="1.0" stroke-dasharray="9 2 1.5 2"/>
<path d="M145.3 541.5 L152 541.5 L154.4 537.5 L158.4 494 L181.5 399" fill="none" stroke-width="1.0" stroke-dasharray="1.2 1.3"/>
<circle cx="142.5" cy="541.5" r="2.8" fill="#fff" stroke-width="1.0"/>
<text x="142.5" y="542.87" font-size="3.8" text-anchor="middle" textLength="2.3" lengthAdjust="spacingAndGlyphs" font-weight="bold" stroke="#000" stroke-width="0.2" fill="#000">P</text>
<path d="M109.5 512 L113 512 L118.5 545 L121 551 L127.8 551" fill="none" stroke-width="1.0" stroke-dasharray="1.2 1.3"/>
<path d="M138.2 551 L152 551 L154.1 547 L159.1 491 L181.5 399" fill="none" stroke-width="1.0" stroke-dasharray="1.2 1.3"/>
<circle cx="133" cy="551" r="5.2" fill="#fff" stroke-width="1.0"/>
<text x="133" y="552.73" font-size="4.8" text-anchor="middle" textLength="7.6" lengthAdjust="spacingAndGlyphs" font-weight="bold" stroke="#000" stroke-width="0.2" fill="#000">BK-C</text>
<path d="M181.5 401 C178.0 440 167.0 480 158.5 520.0" fill="none" stroke-width="1.0" stroke-dasharray="1.6 1.4"/>
<path d="M181.2 401 C177.3 440 165.8 480 157.3 521.5" fill="none" stroke-width="1.0" stroke-dasharray="1.2 1.8"/>
<path d="M180.9 401 C176.6 440 164.6 480 156.1 523.0" fill="none" stroke-width="1.0" stroke-dasharray="2 1.2"/>
<path d="M180.6 401 C175.9 440 163.4 480 154.9 524.5" fill="none" stroke-width="1.0" stroke-dasharray="1.4 1.6"/>
<path d="M180.5 409 C176 442 164 484 156.5 522" fill="none" stroke-width="2.0" stroke-dasharray="1 2.2"/>
<text x="184" y="373.5" font-size="12.4" stroke="none" fill="#000" textLength="92.5" lengthAdjust="spacingAndGlyphs">112,138,353,368</text>
<line x1="232.5" y1="364" x2="260" y2="354" stroke-width="0.9"/>
<path d="M248 383 L246.3 378 L249.7 378 Z" fill="#000" stroke="none" shape-rendering="geometricPrecision"/>
<text x="258" y="331.5" font-size="5.2" stroke="#000" stroke-width="0.22" fill="#000" font-weight="bold" textLength="29" lengthAdjust="spacingAndGlyphs">MAGNETO</text>
<line x1="256.5" y1="332.8" x2="288" y2="332.8" stroke-width="0.9"/>
<text x="258.5" y="339.5" font-size="5.2" stroke="#000" stroke-width="0.22" fill="#000" font-style="italic" textLength="28" lengthAdjust="spacingAndGlyphs">MAGNETO</text>
<path d="M260 348 L266 343 L276 346 L278 352 L272 356.5 L262 354 Z" fill="none" stroke-width="1.1"/>
<path d="M265 347 L274 347.5 L276 352 L268 354 Z" fill="#000" stroke-width="0.5"/>
<line stroke="#fff" x1="268" y1="349" x2="274" y2="351" stroke-width="0.7"/>
<path d="M259 352 C258 347 261 343 266 343" fill="none" stroke-width="1.2"/>
<circle cx="288.5" cy="370" r="4.4" fill="#fff" stroke-width="1.0"/>
<text x="288.5" y="371.73" font-size="4.8" text-anchor="middle" textLength="6.0" lengthAdjust="spacingAndGlyphs" font-weight="bold" stroke="#000" stroke-width="0.2" fill="#000">BK-W</text>
<path d="M276 356 C280 360 282 366 284.2 368" fill="none" stroke-width="1.0" stroke-dasharray="1.2 1.3"/>
<path d="M292.8 371 L304 375 L304 327.5" fill="none" stroke-width="1.0" stroke-dasharray="10 1 2 1"/>
<text x="249" y="273" font-size="5.4" stroke="#000" stroke-width="0.22" fill="#000" font-weight="bold" textLength="86" lengthAdjust="spacingAndGlyphs">REGULATEUR/REDRESSEUR</text>
<line x1="248" y1="274.5" x2="336" y2="274.5" stroke-width="0.9"/>
<text x="254" y="281.5" font-size="5.4" stroke="#000" stroke-width="0.22" fill="#000" font-style="italic" font-weight="bold" textLength="70" lengthAdjust="spacingAndGlyphs">REGULATOR/RECTIFIER</text>
<text x="327" y="290.5" font-size="12.4" stroke="none" fill="#000" textLength="68" lengthAdjust="spacingAndGlyphs">317,320,351</text>
<line x1="327" y1="288" x2="305" y2="295" stroke-width="1.0"/>
<path d="M305.0 295.0 L309.6 291.4 L310.9 295.3 Z" fill="#000" stroke="none" shape-rendering="geometricPrecision"/>
<path d="M288 297 L292 291 L300 294 L308 299 L308 306 L300 310 L290 306 Z" fill="none" stroke-width="1.0"/>
<path d="M293 298 L304 299 L306 305 L298 309 L292 305 Z" fill="#000" stroke-width="0.5"/>
<rect x="296" y="301" width="2.5" height="2.5" fill="#fff" stroke-width="0"/>
<rect x="300.5" y="302" width="2.5" height="2.5" fill="#fff" stroke-width="0"/>
<path d="M293 290 L300 294 L303 293" fill="none" stroke-width="2"/>
<path d="M287 291 C284 296 285 302 289 305" fill="none" stroke-width="0.9"/>
<circle cx="295.5" cy="319" r="2.8" fill="#fff" stroke-width="1.0"/>
<text x="295.5" y="320.08" font-size="3" text-anchor="middle" textLength="1.8" lengthAdjust="spacingAndGlyphs" font-weight="bold" stroke="#000" stroke-width="0.2" fill="#000">R</text>
<circle cx="307.5" cy="319" r="3.8" fill="#fff" stroke-width="1.0"/>
<text x="307.5" y="320.15" font-size="3.2" text-anchor="middle" textLength="3.8" lengthAdjust="spacingAndGlyphs" font-weight="bold" stroke="#000" stroke-width="0.2" fill="#000">YE</text>
<circle cx="317.5" cy="319.5" r="5.3" fill="#fff" stroke-width="1.0"/>
<text x="317.5" y="321.23" font-size="4.8" text-anchor="middle" textLength="7.8" lengthAdjust="spacingAndGlyphs" font-weight="bold" stroke="#000" stroke-width="0.2" fill="#000">BK-YE</text>
<circle cx="331" cy="319.5" r="5.3" fill="#fff" stroke-width="1.0"/>
<text x="331" y="321.23" font-size="4.8" text-anchor="middle" textLength="7.8" lengthAdjust="spacingAndGlyphs" font-weight="bold" stroke="#000" stroke-width="0.2" fill="#000">RD-C</text>
<line x1="297" y1="308" x2="295.5" y2="316" stroke-width="1.0" stroke-dasharray="1.2 1.3"/>
<line x1="301" y1="310" x2="307" y2="315.5" stroke-width="1.0" stroke-dasharray="1.2 1.3"/>
<line x1="305" y1="309" x2="316" y2="314.5" stroke-width="1.0" stroke-dasharray="1.2 1.3"/>
<line x1="308" y1="306" x2="329" y2="314.5" stroke-width="1.0" stroke-dasharray="1.2 1.3"/>
<path d="M295.5 322 L300 328 L321 341" fill="none" stroke-width="1.0" stroke-dasharray="4 2"/>
<path d="M307.5 323 L321 337" fill="none" stroke-width="1.0" stroke-dasharray="4 2"/>
<path d="M317.5 325 L322 335" fill="none" stroke-width="1.0" stroke-dasharray="4 2"/>
<path d="M331 325 L324 338" fill="none" stroke-width="1.0" stroke-dasharray="4 2"/>
<line x1="320.5" y1="342" x2="320.5" y2="392.5" stroke-width="1.0"/>
<line x1="324.5" y1="342" x2="324.5" y2="399" stroke-width="1.0"/>
<line x1="322.5" y1="336" x2="322.5" y2="392" stroke-width="0.8" stroke-dasharray="4 2"/>
<text x="336" y="383.5" font-size="12.4" stroke="none" fill="#000" textLength="20.5" lengthAdjust="spacingAndGlyphs">258</text>
<line x1="325" y1="379.5" x2="334" y2="379.5" stroke-width="1.1"/>
<rect x="278.5" y="382.5" width="9.5" height="4" fill="none" stroke-width="0.8"/>
<text x="279.3" y="386.1" font-size="4.4" font-weight="bold" textLength="7.9" lengthAdjust="spacingAndGlyphs" stroke="none" fill="#000">17070</text>
<path d="M278.5 384.5 L272.5 384.5 L275 398" fill="none" stroke-width="0.9"/>
<rect x="266.5" y="410.5" width="12" height="4" fill="none" stroke-width="0.8"/>
<text x="267.3" y="414.1" font-size="4.4" font-weight="bold" textLength="10.4" lengthAdjust="spacingAndGlyphs" stroke="none" fill="#000">23080</text>
<line x1="286.5" y1="412" x2="294" y2="399" stroke-width="0.9"/>
<rect x="298.5" y="407.7" width="17" height="4.6" fill="none" stroke-width="0.8"/>
<text x="299.3" y="411.6" font-size="4.4" font-weight="bold" textLength="15.4" lengthAdjust="spacingAndGlyphs" stroke="none" fill="#000">60853</text>
<path d="M315.5 410 L324 410 L330 400" fill="none" stroke-width="0.9"/>
<path d="M330 400 L329.3 404.2 L326.6 402.4 Z" fill="#000" stroke="none" shape-rendering="geometricPrecision"/>
<rect x="336.5" y="391" width="3.5" height="18" fill="#fff" stroke-width="0.9"/>
<rect x="335.5" y="405" width="5.5" height="4.5" fill="#fff" stroke-width="0.9"/>
<circle cx="338.3" cy="414" r="2.5" fill="#fff" stroke-width="1.0"/>
<text x="307.5" y="430" font-size="12.4" stroke="none" fill="#000" textLength="19" lengthAdjust="spacingAndGlyphs">764</text>
<line x1="327.5" y1="420.5" x2="336.5" y2="415.5" stroke-width="1.0" stroke-dasharray="4 2"/>
<text x="360.5" y="317" font-size="5.2" stroke="#000" stroke-width="0.22" fill="#000" font-weight="bold" textLength="18.5" lengthAdjust="spacingAndGlyphs">JAUGE</text>
<text x="346.5" y="324.5" font-size="5.4" stroke="#000" stroke-width="0.22" fill="#000" font-weight="bold" textLength="47.5" lengthAdjust="spacingAndGlyphs">NIVEAU D'HUILE</text>
<line x1="345" y1="326" x2="396" y2="326" stroke-width="0.9"/>
<line x1="345" y1="319.5" x2="396" y2="319.5" stroke-width="0.8"/>
<text x="345.5" y="332" font-size="5.4" stroke="#000" stroke-width="0.22" fill="#000" font-style="italic" textLength="54" lengthAdjust="spacingAndGlyphs">OIL LEVEL GAUGE</text>
<path d="M357 337.5 L362 335.0 L366.5 337.5 L366.5 345.5 L363 347.5 L363 341.5 L357 341.5 Z" fill="#fff" stroke-width="1.0"/>
<line x1="363" y1="341.5" x2="366.5" y2="340.0" stroke-width="0.8"/>
<line x1="364.5" y1="347.0" x2="364.5" y2="349.5" stroke-width="1.6"/>
<path d="M370 337.5 L375 335.0 L379.5 337.5 L379.5 345.5 L376 347.5 L376 341.5 L370 341.5 Z" fill="#fff" stroke-width="1.0"/>
<line x1="376" y1="341.5" x2="379.5" y2="340.0" stroke-width="0.8"/>
<line x1="377.5" y1="347.0" x2="377.5" y2="349.5" stroke-width="1.6"/>
<text x="402" y="347.5" font-size="12.4" stroke="none" fill="#000" textLength="12.5" lengthAdjust="spacingAndGlyphs">77</text>
<line x1="399" y1="342.5" x2="382" y2="342.5" stroke-width="1.0" stroke-dasharray="5 2"/>
<path d="M382.0 342.5 L386.9 340.6 L386.9 344.4 Z" fill="#000" stroke="none" shape-rendering="geometricPrecision"/>
<circle cx="363.5" cy="365" r="5.2" fill="#fff" stroke-width="1.0"/>
<text x="363.5" y="366.73" font-size="4.8" text-anchor="middle" textLength="7.6" lengthAdjust="spacingAndGlyphs" font-weight="bold" stroke="#000" stroke-width="0.2" fill="#000">BK-W</text>
<circle cx="376.5" cy="365" r="3.3" fill="#fff" stroke-width="1.0"/>
<text x="376.5" y="366.08" font-size="3" text-anchor="middle" textLength="1.8" lengthAdjust="spacingAndGlyphs" font-weight="bold" stroke="#000" stroke-width="0.2" fill="#000">W</text>
<line x1="363.5" y1="348" x2="363.5" y2="360" stroke-width="1.0" stroke-dasharray="1.2 1.3"/>
<line x1="377.5" y1="349" x2="376.8" y2="361.5" stroke-width="1.0" stroke-dasharray="1.2 1.3"/>
<path d="M363.5 370 L371 381" fill="none" stroke-width="0.9"/>
<path d="M376.5 368.5 L371 381" fill="none" stroke-width="0.9"/>
<line x1="371" y1="381" x2="371" y2="399" stroke-width="1.0" stroke-dasharray="4 2"/>
<text x="408" y="367.5" font-size="5.2" stroke="#000" stroke-width="0.22" fill="#000" font-weight="bold" textLength="38.5" lengthAdjust="spacingAndGlyphs">ETIQUETTE • TAG</text>
<rect x="413" y="371" width="28.5" height="5" fill="none" stroke-width="0.9"/>
<text x="414" y="375.3" font-size="5" font-weight="bold" textLength="26.5" lengthAdjust="spacingAndGlyphs" stroke="none" fill="#000">55 95 35</text>
<path d="M441.5 373.8 L445.5 373.8 L444 391" fill="none" stroke-width="0.9"/>
<rect x="420.5" y="382.0" width="13" height="4" fill="none" stroke-width="0.8"/>
<text x="421.3" y="385.6" font-size="4.4" font-weight="bold" textLength="11.4" lengthAdjust="spacingAndGlyphs" stroke="none" fill="#000">60060</text>
<path d="M433.5 384 L440.5 384 L437 399" fill="none" stroke-width="0.9"/>
<rect x="451.5" y="382.5" width="28.5" height="4" fill="none" stroke-width="0.8"/>
<text x="452.3" y="386.1" font-size="4.4" font-weight="bold" textLength="26.9" lengthAdjust="spacingAndGlyphs" stroke="none" fill="#000">MO00000000</text>
<path d="M451.5 384.5 L447.5 384.5 L451.5 399" fill="none" stroke-width="0.9"/>
<path d="M480 384.5 L488 384.5 L488 399" fill="none" stroke-width="0.9"/>
<rect x="462" y="407.8" width="15.5" height="4.4" fill="none" stroke-width="0.8"/>
<text x="462.8" y="411.6" font-size="4.4" font-weight="bold" textLength="13.9" lengthAdjust="spacingAndGlyphs" stroke="none" fill="#000">23080</text>
<path d="M462 410 L456.5 410 L459.5 401" fill="none" stroke-width="0.9"/>
<line x1="519" y1="395.0" x2="723.5" y2="281.5" stroke-width="1.0" stroke-dasharray="9 2 1.5 2"/>
<path d="M512 400 L515 405 L626 555" fill="none" stroke-width="0.9"/>
<path d="M517 397 L640 559" fill="none" stroke-width="0.9"/>
<path d="M521 390 L526 396 L635 545" fill="none" stroke-width="0.9"/>
<line x1="516" y1="402" x2="632" y2="556" stroke-width="0.7" stroke-dasharray="7 2"/>
<line x1="523" y1="397" x2="637" y2="551" stroke-width="0.7" stroke-dasharray="7 2"/>
<circle cx="626.3" cy="555.3" r="0.9" fill="#000" stroke-width="1.0"/>
<text x="625.5" y="510" font-size="12.4" stroke="none" fill="#000" textLength="20" lengthAdjust="spacingAndGlyphs">257</text>
<line x1="621" y1="507" x2="609" y2="509" stroke-width="1.0" stroke-dasharray="5 2"/>
<rect x="537.5" y="403.8" width="14" height="4.4" fill="none" stroke-width="0.8"/>
<text x="538.3" y="407.6" font-size="4.4" font-weight="bold" textLength="12.4" lengthAdjust="spacingAndGlyphs" stroke="none" fill="#000">17070</text>
<line x1="537.5" y1="406" x2="526" y2="409" stroke-width="1.0"/>
<rect x="544.5" y="415.8" width="14" height="4.4" fill="none" stroke-width="0.8"/>
<text x="545.3" y="419.6" font-size="4.4" font-weight="bold" textLength="12.4" lengthAdjust="spacingAndGlyphs" stroke="none" fill="#000">60853</text>
<line x1="544.5" y1="418" x2="534" y2="421" stroke-width="1.0"/>
<rect x="553.5" y="426.8" width="13" height="4.4" fill="none" stroke-width="0.8"/>
<text x="554.3" y="430.6" font-size="4.4" font-weight="bold" textLength="11.4" lengthAdjust="spacingAndGlyphs" stroke="none" fill="#000">60060</text>
<path d="M553.5 429 L548 429 L543 434" fill="none" stroke-width="0.9"/>
<path d="M541.5 435.5 L545.8 434.6 L543.7 432 Z" fill="#000" stroke="none" shape-rendering="geometricPrecision"/>
<text x="561" y="441.3" font-size="3.6" font-weight="bold" stroke="none" fill="#000">■■</text>
<text x="559.5" y="445.6" font-size="3.6" font-weight="bold" stroke="none" fill="#000">30061</text>
<line x1="423" y1="406.5" x2="423" y2="489" stroke-width="0.9"/>
<line x1="428" y1="406.5" x2="428" y2="489" stroke-width="0.9"/>
<line x1="425.5" y1="400" x2="425.5" y2="492" stroke-width="0.8" stroke-dasharray="4 2"/>
<text x="386" y="498.5" font-size="12.4" stroke="none" fill="#000" textLength="20" lengthAdjust="spacingAndGlyphs">253</text>
<line x1="408" y1="489" x2="422.5" y2="483" stroke-width="0.9"/>
<path d="M425.5 490 L414 502.5 L425.5 516 L437.5 502.5 Z" fill="none" stroke-width="1.0" stroke-dasharray="4 2"/>
<circle cx="417" cy="502.5" r="3.2" fill="#fff" stroke-width="1.0"/>
<text x="417" y="503.58" font-size="3" text-anchor="middle" textLength="1.8" lengthAdjust="spacingAndGlyphs" font-weight="bold" stroke="#000" stroke-width="0.2" fill="#000">B</text>
<circle cx="425.5" cy="502" r="5.2" fill="#fff" stroke-width="1.0"/>
<text x="425.5" y="503.73" font-size="4.8" text-anchor="middle" textLength="7.6" lengthAdjust="spacingAndGlyphs" font-weight="bold" stroke="#000" stroke-width="0.2" fill="#000">BK-Y</text>
<circle cx="435.5" cy="502.5" r="3.2" fill="#fff" stroke-width="1.0"/>
<text x="435.5" y="503.58" font-size="3" text-anchor="middle" textLength="1.8" lengthAdjust="spacingAndGlyphs" font-weight="bold" stroke="#000" stroke-width="0.2" fill="#000">W</text>
<line x1="419" y1="505" x2="424" y2="518" stroke-width="1.0" stroke-dasharray="1.2 1.3"/>
<line x1="433.5" y1="505" x2="428" y2="518" stroke-width="1.0" stroke-dasharray="1.2 1.3"/>
<line x1="425.5" y1="507" x2="425.5" y2="518" stroke-width="1.0" stroke-dasharray="1.2 1.3"/>
<path d="M419 521 L424 518 L432 520 L436 527 L431 531 L422 529 Z" fill="#000" stroke-width="0.6"/>
<line x1="414" y1="523.5" x2="420" y2="523.5" stroke-width="1.4"/>
<circle cx="421" cy="523.5" r="1.3" fill="#fff" stroke-width="0.5"/>
<line stroke="#fff" stroke-dasharray="1.5 1" x1="424" y1="522" x2="432" y2="528" stroke-width="0.6"/>
<text x="366" y="527.5" font-size="12.4" stroke="none" fill="#000" textLength="31.5" lengthAdjust="spacingAndGlyphs">44,54</text>
<text x="407" y="540.5" font-size="5.6" stroke="#000" stroke-width="0.22" fill="#000" font-weight="bold" textLength="42.5" lengthAdjust="spacingAndGlyphs">FEU ARRIERE</text>
<line x1="406" y1="542.2" x2="451" y2="542.2" stroke-width="0.9"/>
<text x="409.5" y="550.5" font-size="5.4" stroke="#000" stroke-width="0.22" fill="#000" font-style="italic" textLength="38" lengthAdjust="spacingAndGlyphs">BACK LIGHT</text>
<text x="456.5" y="446.5" font-size="12.4" stroke="none" fill="#000" textLength="67.5" lengthAdjust="spacingAndGlyphs">110,118,130</text>
<line x1="469" y1="449" x2="462" y2="458" stroke-width="1.0"/>
<path d="M462.0 458.0 L463.3 453.4 L466.1 455.6 Z" fill="#000" stroke="none" shape-rendering="geometricPrecision"/>
<path d="M446 457 L446.5 451 L449 449.3 L454 449.3 L456 452 L459.5 455.5 L461.5 457" fill="none" stroke-width="1.0"/>
<path d="M449 450.5 L451 455 L457 455.5" fill="none" stroke-width="0.9"/>
<line x1="445" y1="457.5" x2="462" y2="457.5" stroke-width="1.0"/>
<line x1="446" y1="459.5" x2="462" y2="459.5" stroke-width="1.0"/>
<path d="M462 458 L467 466.5 L467.3 476" fill="none" stroke-width="1.0"/>
<path d="M441.8 453.3 L446.5 452.5 L446.5 458 L444 461 L447.5 465 L443 468.5 L446 473.5 L441.5 474 Z" fill="#000" stroke-width="0.6"/>
<rect x="443" y="455" width="2" height="2" fill="#fff" stroke-width="0"/>
<rect x="443.6" y="463.2" width="1.6" height="1.6" fill="#fff" stroke-width="0"/>
<rect x="443" y="470" width="1.8" height="1.8" fill="#fff" stroke-width="0"/>
<path d="M438.5 466 L441 463 L441.5 470 L439 471 Z" fill="none" stroke-width="0.9"/>
<path d="M441 474 L452 481.5 L462 481.5" fill="none" stroke-width="1.8"/>
<circle cx="460.3" cy="474.3" r="6.3" fill="#fff" stroke-width="1.8" shape-rendering="geometricPrecision"/>
<path d="M457.2 469.5 L462.5 469.5 L460 479.5 L456 479.5 Z" fill="#fff" stroke-width="1.4" shape-rendering="geometricPrecision"/>
<path d="M454.6 472 L456.5 469 M464.5 471 L463.5 477.5" stroke-width="1.2" stroke-dasharray="1.2 1" shape-rendering="geometricPrecision"/>
<text x="479" y="455.5" font-size="5.2" stroke="#000" stroke-width="0.22" fill="#000" font-style="italic" textLength="49" lengthAdjust="spacingAndGlyphs">CONNECTEUR DE</text>
<line x1="477" y1="456.8" x2="530" y2="456.8" stroke-width="0.8"/>
<text x="488" y="462" font-size="5.2" stroke="#000" stroke-width="0.22" fill="#000" font-style="italic" textLength="28.5" lengthAdjust="spacingAndGlyphs">JONCTION</text>
<line x1="477" y1="463.3" x2="530" y2="463.3" stroke-width="0.8"/>
<text x="469" y="469.5" font-size="5.6" stroke="#000" stroke-width="0.22" fill="#000" font-style="italic" textLength="67" lengthAdjust="spacingAndGlyphs">JUNCTION CONNECTOR</text>
<rect x="473" y="474.5" width="39.5" height="16" fill="none" stroke-width="1.0"/>
<rect x="481.1" y="476.3" width="3.8000000000000003" height="3.8000000000000003" fill="#fff" stroke-width="0.9"/>
<text x="483" y="479.4" font-size="3.6" font-weight="bold" text-anchor="middle" stroke="none" fill="#000">A</text>
<rect x="488.6" y="476.3" width="3.8000000000000003" height="3.8000000000000003" fill="#fff" stroke-width="0.9"/>
<text x="490.5" y="479.4" font-size="3.6" font-weight="bold" text-anchor="middle" stroke="none" fill="#000">C</text>
<rect x="496.1" y="476.3" width="3.8000000000000003" height="3.8000000000000003" fill="#fff" stroke-width="0.9"/>
<text x="498" y="479.4" font-size="3.6" font-weight="bold" text-anchor="middle" stroke="none" fill="#000">E</text>
<rect x="504.6" y="476.3" width="3.8000000000000003" height="3.8000000000000003" fill="#fff" stroke-width="0.9"/>
<text x="506.5" y="479.4" font-size="3.6" font-weight="bold" text-anchor="middle" stroke="none" fill="#000">G</text>
<rect x="476.8" y="483.6" width="4.3999999999999995" height="4.3999999999999995" fill="#fff" stroke-width="0.9"/>
<text x="479" y="487.0" font-size="3.6" font-weight="bold" text-anchor="middle" stroke="none" fill="#000">B</text>
<line x1="482.9" y1="481.5" x2="482.9" y2="490.5" stroke-width="0.9"/>
<rect x="484.8" y="483.6" width="4.3999999999999995" height="4.3999999999999995" fill="#fff" stroke-width="0.9"/>
<text x="487" y="487.0" font-size="3.6" font-weight="bold" text-anchor="middle" stroke="none" fill="#000">D</text>
<line x1="490.9" y1="481.5" x2="490.9" y2="490.5" stroke-width="0.9"/>
<rect x="492.8" y="483.6" width="4.3999999999999995" height="4.3999999999999995" fill="#fff" stroke-width="0.9"/>
<text x="495" y="487.0" font-size="3.6" font-weight="bold" text-anchor="middle" stroke="none" fill="#000">F</text>
<line x1="498.9" y1="481.5" x2="498.9" y2="490.5" stroke-width="0.9"/>
<rect x="501.3" y="483.6" width="4.3999999999999995" height="4.3999999999999995" fill="#fff" stroke-width="0.9"/>
<text x="503.5" y="487.0" font-size="3.6" font-weight="bold" text-anchor="middle" stroke="none" fill="#000">H</text>
<line x1="507.4" y1="481.5" x2="507.4" y2="490.5" stroke-width="0.9"/>
<path d="M479 490.5 L479 495 L458.5 505.20000000000005 L458.5 513.2" fill="none" stroke-width="1.0" stroke-dasharray="1.2 1.3"/>
<path d="M458.5 518.8 L458.5 538 L493 554.5" fill="none" stroke-width="1.0" stroke-dasharray="1.2 1.3"/>
<circle cx="458.5" cy="516" r="2.8" fill="#fff" stroke-width="1.0"/>
<text x="458.5" y="517.37" font-size="3.8" text-anchor="middle" textLength="2.3" lengthAdjust="spacingAndGlyphs" font-weight="bold" stroke="#000" stroke-width="0.2" fill="#000">W</text>
<path d="M483 490.5 L483 495 L468.5 513.3 L468.5 521.3" fill="none" stroke-width="1.0" stroke-dasharray="4 2"/>
<path d="M468.5 531.7 L468.5 538 L493 554.5" fill="none" stroke-width="1.0" stroke-dasharray="1.2 1.3"/>
<circle cx="468.5" cy="526.5" r="5.2" fill="#fff" stroke-width="1.0"/>
<text x="468.5" y="528.23" font-size="4.8" text-anchor="middle" textLength="7.6" lengthAdjust="spacingAndGlyphs" font-weight="bold" stroke="#000" stroke-width="0.2" fill="#000">RD-C</text>
<path d="M487 490.5 L487 495 L478.5 504.70000000000005 L478.5 512.7" fill="none" stroke-width="1.0" stroke-dasharray="4 2"/>
<path d="M478.5 519.3 L478.5 538 L493 554.5" fill="none" stroke-width="1.0" stroke-dasharray="1.2 1.3"/>
<circle cx="478.5" cy="516" r="3.3" fill="#fff" stroke-width="1.0"/>
<text x="478.5" y="517.37" font-size="3.8" text-anchor="middle" textLength="3.8" lengthAdjust="spacingAndGlyphs" font-weight="bold" stroke="#000" stroke-width="0.2" fill="#000">BK</text>
<path d="M490.5 490.5 L490.5 495 L488 513.3 L488 521.3" fill="none" stroke-width="1.0" stroke-dasharray="4 2"/>
<path d="M488 531.7 L488 538 L493 554.5" fill="none" stroke-width="1.0" stroke-dasharray="1.2 1.3"/>
<circle cx="488" cy="526.5" r="5.2" fill="#fff" stroke-width="1.0"/>
<text x="488" y="528.23" font-size="4.8" text-anchor="middle" textLength="7.6" lengthAdjust="spacingAndGlyphs" font-weight="bold" stroke="#000" stroke-width="0.2" fill="#000">BK-C</text>
<path d="M495 490.5 L495 495 L497.5 502.8 L497.5 510.8" fill="none" stroke-width="1.0" stroke-dasharray="1.2 1.3"/>
<path d="M497.5 521.2 L497.5 538 L493 554.5" fill="none" stroke-width="1.0" stroke-dasharray="1.2 1.3"/>
<circle cx="497.5" cy="516" r="5.2" fill="#fff" stroke-width="1.0"/>
<text x="497.5" y="517.73" font-size="4.8" text-anchor="middle" textLength="7.6" lengthAdjust="spacingAndGlyphs" font-weight="bold" stroke="#000" stroke-width="0.2" fill="#000">BK-YE</text>
<path d="M498 490.5 L498 495 L508 513.3 L508 521.3" fill="none" stroke-width="1.0" stroke-dasharray="1.2 1.3"/>
<path d="M508 531.7 L508 538 L493 554.5" fill="none" stroke-width="1.0" stroke-dasharray="4 2"/>
<circle cx="508" cy="526.5" r="5.2" fill="#fff" stroke-width="1.0"/>
<text x="508" y="528.23" font-size="4.8" text-anchor="middle" textLength="7.6" lengthAdjust="spacingAndGlyphs" font-weight="bold" stroke="#000" stroke-width="0.2" fill="#000">GY-C</text>
<path d="M503.5 490.5 L503.5 495 L517.5 502.8 L517.5 510.8" fill="none" stroke-width="1.0" stroke-dasharray="1.2 1.3"/>
<path d="M517.5 521.2 L517.5 538 L493 554.5" fill="none" stroke-width="1.0" stroke-dasharray="4 2"/>
<circle cx="517.5" cy="516" r="5.2" fill="#fff" stroke-width="1.0"/>
<text x="517.5" y="517.73" font-size="4.8" text-anchor="middle" textLength="7.6" lengthAdjust="spacingAndGlyphs" font-weight="bold" stroke="#000" stroke-width="0.2" fill="#000">BK-BG</text>
<path d="M506.5 490.5 L506.5 495 L528 512.3 L528 520.3" fill="none" stroke-width="1.0" stroke-dasharray="1.2 1.3"/>
<path d="M528 530.7 L528 538 L493 554.5" fill="none" stroke-width="1.0" stroke-dasharray="4 2"/>
<circle cx="528" cy="525.5" r="5.2" fill="#fff" stroke-width="1.0"/>
<text x="528" y="527.23" font-size="4.8" text-anchor="middle" textLength="7.6" lengthAdjust="spacingAndGlyphs" font-weight="bold" stroke="#000" stroke-width="0.2" fill="#000">BK-R</text>
<line x1="458.5" y1="498" x2="479" y2="493" stroke-width="1.0" stroke-dasharray="1.2 1.3"/>
<line x1="528" y1="500" x2="506.5" y2="493" stroke-width="1.0" stroke-dasharray="1.2 1.3"/>
<line x1="493" y1="554.5" x2="529" y2="589" stroke-width="1.0" stroke-dasharray="9 2 1.5 2"/>
<path d="M493 554.5 L491 550.5 L495.5 551 Z" fill="#000" stroke="none" shape-rendering="geometricPrecision"/>
<rect x="522" y="470.8" width="14.5" height="4.4" fill="none" stroke-width="0.8"/>
<text x="522.8" y="474.6" font-size="4.4" font-weight="bold" textLength="12.9" lengthAdjust="spacingAndGlyphs" stroke="none" fill="#000">60250</text>
<path d="M536.5 473 C541 473 544 476 546 480" fill="none" stroke-width="0.9"/>
<path d="M547 482.5 L544.3 478.8 L548 477.8 Z" fill="#000" stroke="none" shape-rendering="geometricPrecision"/>
<path d="M553 450 L547.5 481 L538 529 L533.5 561.5 L529 589" fill="none" stroke-width="1.0" stroke-dasharray="9 2 1.5 2"/>
<g transform="rotate(8 537 537)"><rect x="534" y="528" width="6" height="18.5" fill="#fff" stroke-width="0.9"/><line x1="537" y1="528" x2="537" y2="546.5" stroke-width="0.7" stroke-dasharray="2 1.2"/></g>
<line x1="541" y1="533" x2="547" y2="533" stroke-width="0.8"/>
<text x="550.5" y="536" font-size="6" stroke="#000" stroke-width="0.22" fill="#000" textLength="27.5" lengthAdjust="spacingAndGlyphs">DETAIL A</text>
<text x="550.5" y="541" font-size="3.8" stroke="#000" stroke-width="0.22" fill="#000" font-weight="bold" textLength="56" lengthAdjust="spacingAndGlyphs">RESISTANCE • RESISTANCE</text>
<rect x="556" y="550.4" width="15" height="4.2" fill="none" stroke-width="0.8"/>
<text x="556.8" y="554.1" font-size="4.4" font-weight="bold" textLength="13.4" lengthAdjust="spacingAndGlyphs" stroke="none" fill="#000">60250</text>
<path d="M556 552.5 L547.5 552.5 L534 561" fill="none" stroke-width="0.9"/>
<path d="M534 561 L537.8 560.4 L536.2 557.6 Z" fill="#000" stroke="none" shape-rendering="geometricPrecision"/>
<line x1="529" y1="589" x2="381" y2="629.5" stroke-width="1.0"/>
<text x="247" y="604.5" font-size="12.4" stroke="none" fill="#000" textLength="37" lengthAdjust="spacingAndGlyphs">44,309</text>
<line x1="266.5" y1="606" x2="279.5" y2="622" stroke-width="1.0"/>
<path d="M279.5 622.0 L275.3 619.7 L278.1 617.4 Z" fill="#000" stroke="none" shape-rendering="geometricPrecision"/>
<text x="222.5" y="626.5" font-size="5.4" stroke="#000" stroke-width="0.22" fill="#000" font-weight="bold" textLength="44" lengthAdjust="spacingAndGlyphs">COMPRESSEUR</text>
<line x1="221" y1="628" x2="268" y2="628" stroke-width="0.9"/>
<text x="224" y="634" font-size="5.4" stroke="#000" stroke-width="0.22" fill="#000" font-style="italic" textLength="40" lengthAdjust="spacingAndGlyphs">COMPRESSOR</text>
<path d="M270 629 L279 622 L293 625 L293 632 L284 639 L270 636 Z" fill="none" stroke-width="1.0"/>
<path d="M271 629.5 L279 623.5 L288 626 L281 632 Z" fill="#000" stroke-width="0.5"/>
<path d="M271 631 L283 634 L283 638 L271 635 Z" fill="#000" stroke-width="0.5"/>
<rect x="273" y="632.5" width="2.5" height="1.6" fill="#fff" stroke-width="0"/>
<rect x="277" y="633.5" width="2.5" height="1.6" fill="#fff" stroke-width="0"/>
<text x="288.5" y="629" font-size="4.5" stroke="#000" stroke-width="0.22" fill="#000" font-weight="bold" textLength="4.5" lengthAdjust="spacingAndGlyphs">H</text>
<path d="M316.5 604 L300 604 L300 655 L316.5 655" fill="none" stroke-width="1.0" stroke-dasharray="5 1.5"/>
<line x1="316.5" y1="604" x2="316.5" y2="655" stroke-width="1.0"/>
<rect x="307.1" y="606.6" width="4.8" height="4.8" fill="#fff" stroke-width="0.9"/>
<text x="309.5" y="610.2" font-size="3.6" font-weight="bold" text-anchor="middle" stroke="none" fill="#000">A</text>
<line x1="311.6" y1="609" x2="321" y2="609" stroke-width="1.0"/>
<path d="M321 609 L327 609 L334.8 603 L339.8 603" fill="none" stroke-width="1.0" stroke-dasharray="4 1.5"/>
<path d="M350.2 603 L366 603 L369 605 L381 629.5" fill="none" stroke-width="1.0" stroke-dasharray="4 1.5"/>
<circle cx="345" cy="603" r="5.2" fill="#fff" stroke-width="1.0"/>
<text x="345" y="604.73" font-size="4.8" text-anchor="middle" textLength="7.6" lengthAdjust="spacingAndGlyphs" font-weight="bold" stroke="#000" stroke-width="0.2" fill="#000">BK-L</text>
<rect x="307.1" y="614.6" width="4.8" height="4.8" fill="#fff" stroke-width="0.9"/>
<text x="309.5" y="618.2" font-size="3.6" font-weight="bold" text-anchor="middle" stroke="none" fill="#000">B</text>
<line x1="311.6" y1="617" x2="321" y2="617" stroke-width="1.0"/>
<path d="M321 617 L327 617 L345.8 613.5 L350.8 613.5" fill="none" stroke-width="1.0" stroke-dasharray="1.2 1.3"/>
<path d="M361.2 613.5 L366 613.5 L369 615.5 L381 629.5" fill="none" stroke-width="1.0" stroke-dasharray="1.2 1.3"/>
<circle cx="356" cy="613.5" r="5.2" fill="#fff" stroke-width="1.0"/>
<text x="356" y="615.23" font-size="4.8" text-anchor="middle" textLength="7.6" lengthAdjust="spacingAndGlyphs" font-weight="bold" stroke="#000" stroke-width="0.2" fill="#000">BK-P</text>
<rect x="307.1" y="622.6" width="4.8" height="4.8" fill="#fff" stroke-width="0.9"/>
<text x="309.5" y="626.2" font-size="3.6" font-weight="bold" text-anchor="middle" stroke="none" fill="#000">C</text>
<line x1="311.6" y1="625" x2="321" y2="625" stroke-width="1.0"/>
<path d="M321 625 L327 625 L337.2 623.5 L342.2 623.5" fill="none" stroke-width="1.0" stroke-dasharray="4 1.5"/>
<path d="M348.8 623.5 L366 623.5 L369 625.5 L381 629.5" fill="none" stroke-width="1.0" stroke-dasharray="1.2 1.3"/>
<circle cx="345.5" cy="623.5" r="3.3" fill="#fff" stroke-width="1.0"/>
<text x="345.5" y="624.87" font-size="3.8" text-anchor="middle" textLength="3.8" lengthAdjust="spacingAndGlyphs" font-weight="bold" stroke="#000" stroke-width="0.2" fill="#000">GN</text>
<rect x="307.1" y="631.1" width="4.8" height="4.8" fill="#fff" stroke-width="0.9"/>
<text x="309.5" y="634.7" font-size="3.6" font-weight="bold" text-anchor="middle" stroke="none" fill="#000">D</text>
<line x1="311.6" y1="633.5" x2="321" y2="633.5" stroke-width="1.0"/>
<path d="M321 633.5 L327 633.5 L345.3 633 L350.3 633" fill="none" stroke-width="1.0" stroke-dasharray="1.2 1.3"/>
<path d="M360.7 633 L366 633 L369 631 L381 629.5" fill="none" stroke-width="1.0" stroke-dasharray="1.2 1.3"/>
<circle cx="355.5" cy="633" r="5.2" fill="#fff" stroke-width="1.0"/>
<text x="355.5" y="634.73" font-size="4.8" text-anchor="middle" textLength="7.6" lengthAdjust="spacingAndGlyphs" font-weight="bold" stroke="#000" stroke-width="0.2" fill="#000">BK-R</text>
<rect x="307.1" y="639.1" width="4.8" height="4.8" fill="#fff" stroke-width="0.9"/>
<text x="309.5" y="642.7" font-size="3.6" font-weight="bold" text-anchor="middle" stroke="none" fill="#000">E</text>
<line x1="311.6" y1="641.5" x2="321" y2="641.5" stroke-width="1.0"/>
<path d="M321 641.5 L327 641.5 L335.3 643 L340.3 643" fill="none" stroke-width="1.0" stroke-dasharray="4 1.5"/>
<path d="M350.7 643 L366 643 L369 641 L381 629.5" fill="none" stroke-width="1.0" stroke-dasharray="1.2 1.3"/>
<circle cx="345.5" cy="643" r="5.2" fill="#fff" stroke-width="1.0"/>
<text x="345.5" y="644.73" font-size="4.8" text-anchor="middle" textLength="7.6" lengthAdjust="spacingAndGlyphs" font-weight="bold" stroke="#000" stroke-width="0.2" fill="#000">BK-B</text>
<rect x="307.1" y="647.1" width="4.8" height="4.8" fill="#fff" stroke-width="0.9"/>
<text x="309.5" y="650.7" font-size="3.6" font-weight="bold" text-anchor="middle" stroke="none" fill="#000">F</text>
<line x1="311.6" y1="649.5" x2="321" y2="649.5" stroke-width="1.0"/>
<path d="M321 649.5 L327 649.5 L345.8 653 L350.8 653" fill="none" stroke-width="1.0" stroke-dasharray="1.2 1.3"/>
<path d="M361.2 653 L366 653 L369 651 L381 629.5" fill="none" stroke-width="1.0" stroke-dasharray="4 1.5"/>
<circle cx="356" cy="653" r="5.2" fill="#fff" stroke-width="1.0"/>
<text x="356" y="654.73" font-size="4.8" text-anchor="middle" textLength="7.6" lengthAdjust="spacingAndGlyphs" font-weight="bold" stroke="#000" stroke-width="0.2" fill="#000">BK-Y</text>
<line x1="529" y1="589" x2="518.5" y2="638.5" stroke-width="1.0" stroke-dasharray="9 2 1.5 2"/>
<text x="395.5" y="652" font-size="5.6" stroke="#000" stroke-width="0.22" fill="#000" font-weight="bold" textLength="46.5" lengthAdjust="spacingAndGlyphs">SOLENOIDE DE</text>
<line x1="394" y1="653.3" x2="444" y2="653.3" stroke-width="0.9"/>
<text x="400.5" y="658.5" font-size="5.6" stroke="#000" stroke-width="0.22" fill="#000" font-weight="bold" textLength="35" lengthAdjust="spacingAndGlyphs">DEMARREUR</text>
<line x1="396" y1="659.8" x2="442" y2="659.8" stroke-width="0.9"/>
<text x="388.5" y="667" font-size="5.6" stroke="#000" stroke-width="0.22" fill="#000" font-style="italic" textLength="59.5" lengthAdjust="spacingAndGlyphs">STARTER SOLENOID</text>
<circle cx="493" cy="637.5" r="5.2" fill="#fff" stroke-width="1.0"/>
<text x="493" y="639.23" font-size="4.8" text-anchor="middle" textLength="7.6" lengthAdjust="spacingAndGlyphs" font-weight="bold" stroke="#000" stroke-width="0.2" fill="#000">BK-R</text>
<circle cx="500.5" cy="647" r="5.2" fill="#fff" stroke-width="1.0"/>
<text x="500.5" y="648.73" font-size="4.8" text-anchor="middle" textLength="7.6" lengthAdjust="spacingAndGlyphs" font-weight="bold" stroke="#000" stroke-width="0.2" fill="#000">RD-W</text>
<path d="M518.5 638.5 C510 637 505 637 497.8 637.5" fill="none" stroke-width="0.9"/>
<path d="M518.5 638.5 C512 642 509 645 505.3 646.5" fill="none" stroke-width="1.0" stroke-dasharray="4 2"/>
<line x1="484.5" y1="638.5" x2="488.2" y2="637.8" stroke-width="1.0" stroke-dasharray="1.2 1.3"/>
<line x1="484" y1="647" x2="495.7" y2="647" stroke-width="1.0" stroke-dasharray="1.2 1.3"/>
<path d="M464 646 L475 639 L483 644 L485 650 L475 657 L466 654 Z" fill="none" stroke-width="1.0"/>
<path d="M467 648 L476 642.5 L481 646 L472 652" fill="none" stroke-width="0.8"/>
<path d="M468 652 L478 646" fill="none" stroke-width="0.8"/>
<path d="M474 637 L477 642 M464 652 L468 650" fill="none" stroke-width="1.6"/>
<path d="M468 654 L469 663 L472 656" fill="none" stroke-width="1.0"/>
<text x="455" y="676.5" font-size="12.4" stroke="none" fill="#000" textLength="30.5" lengthAdjust="spacingAndGlyphs">34,36</text>
<line x1="518.5" y1="638.5" x2="514.5" y2="664" stroke-width="1.0" stroke-dasharray="9 2 1.5 2"/>
<line x1="518.5" y1="638.5" x2="533" y2="662.5" stroke-width="0.9"/>
<circle cx="514.5" cy="667" r="2.8" fill="#fff" stroke-width="1.0"/>
<text x="514.5" y="668.08" font-size="3" text-anchor="middle" textLength="1.8" lengthAdjust="spacingAndGlyphs" font-weight="bold" stroke="#000" stroke-width="0.2" fill="#000">R</text>
<circle cx="534.5" cy="665" r="3.3" fill="#fff" stroke-width="1.0"/>
<text x="534.5" y="666.08" font-size="3" text-anchor="middle" textLength="3.6" lengthAdjust="spacingAndGlyphs" font-weight="bold" stroke="#000" stroke-width="0.2" fill="#000">BK</text>
<text x="565.5" y="652.5" font-size="12.4" stroke="none" fill="#000" textLength="19" lengthAdjust="spacingAndGlyphs">341</text>
<line x1="565" y1="654" x2="516" y2="682.5" stroke-width="1.0"/>
<path d="M516.0 682.5 L519.0 678.8 L520.7 681.7 Z" fill="#000" stroke="none" shape-rendering="geometricPrecision"/>
<line x1="565" y1="654" x2="544.5" y2="676" stroke-width="1.0"/>
<path d="M544.5 676.0 L546.3 671.6 L548.7 673.9 Z" fill="#000" stroke="none" shape-rendering="geometricPrecision"/>
<path d="M514.5 670 L512.5 682" fill="none" stroke-width="1.2" stroke-dasharray="2 1"/>
<path d="M512.5 682 L510 690 L509 696" fill="none" stroke-width="1.6"/>
<circle cx="508" cy="700" r="3.4" fill="#fff" stroke-width="1.1"/>
<path d="M536 667.5 L544 680" fill="none" stroke-width="1.6"/>
<circle cx="544" cy="680" r="2" fill="#fff" stroke-width="1.0"/>
<path d="M544 682 L547 690 L552 691 L553 695 L548 696 L546 694 Z" fill="none" stroke-width="1.2"/>
<text x="524" y="706" font-size="12.4" stroke="none" fill="#000" textLength="12.5" lengthAdjust="spacingAndGlyphs">99</text>
<line x1="512" y1="700.5" x2="522.5" y2="700.5" stroke-width="1.0"/>
<line x1="537.5" y1="699" x2="547.5" y2="695" stroke-width="1.0" stroke-dasharray="4 1.5"/>
<path d="M547.5 695.0 L544.6 698.0 L543.3 694.9 Z" fill="#000" stroke="none" shape-rendering="geometricPrecision"/>
<text x="466" y="695.5" font-size="5.4" stroke="#000" stroke-width="0.22" fill="#000" font-weight="bold" textLength="35" lengthAdjust="spacingAndGlyphs">BATTERIE +</text>
<line x1="465" y1="697" x2="503" y2="697" stroke-width="0.9"/>
<text x="466" y="703.5" font-size="5.4" stroke="#000" stroke-width="0.22" fill="#000" font-style="italic" textLength="35" lengthAdjust="spacingAndGlyphs">BATTERY +</text>
<text x="549" y="704" font-size="5.2" stroke="#000" stroke-width="0.22" fill="#000" font-weight="bold" textLength="46" lengthAdjust="spacingAndGlyphs">MASSE CHASSIS</text>
<line x1="548" y1="705.2" x2="596" y2="705.2" stroke-width="0.9"/>
<text x="549" y="710.5" font-size="5.2" stroke="#000" stroke-width="0.22" fill="#000" font-style="italic" textLength="46" lengthAdjust="spacingAndGlyphs">CHASSIS GROUND</text>
<rect x="61.5" y="591.5" width="149" height="96.5" fill="none" stroke-width="1.0" stroke-dasharray="30 1.5 3 1.5"/>
<text x="88" y="600" font-size="6" stroke="#000" stroke-width="0.22" fill="#000" textLength="47" lengthAdjust="spacingAndGlyphs">RESISTANCE •</text>
<text x="138" y="600" font-size="6" stroke="#000" stroke-width="0.22" fill="#000" font-style="italic" textLength="42" lengthAdjust="spacingAndGlyphs">RESISTANCE</text>
<circle cx="102.6" cy="610.8" r="2.4" fill="#fff" stroke-width="1.0"/>
<text x="102.6" y="611.88" font-size="3" text-anchor="middle" textLength="1.8" lengthAdjust="spacingAndGlyphs" font-weight="bold" stroke="#000" stroke-width="0.2" fill="#000">B</text>
<line x1="104.6" y1="612.8" x2="118.2" y2="625.8" stroke-width="1.0"/>
<path d="M118.2 625.8 L114.3 624.3 L116.5 622.0 Z" fill="#000" stroke="none" shape-rendering="geometricPrecision"/>
<text x="93" y="623.6" font-size="4.8" font-weight="bold" textLength="13.8" lengthAdjust="spacingAndGlyphs" stroke="none" fill="#000">77910</text>
<path d="M99.6 623.6 L97.8 632.5" fill="none" stroke-width="1.0"/>
<line x1="95" y1="632.5" x2="101" y2="632.5" stroke-width="1.6"/>
<rect x="148.2" y="617.6" width="9.6" height="4.6" fill="none" stroke-width="0.9"/>
<text x="149" y="621.6" font-size="4.4" font-weight="bold" textLength="8" lengthAdjust="spacingAndGlyphs" stroke="none" fill="#000">EPE</text>
<line x1="153" y1="622.2" x2="155.4" y2="628.2" stroke-width="0.9"/>
<path d="M111 631.2 L84 631.2 L84 637.2 L111 637.2" fill="none" stroke-width="0.9" stroke-dasharray="1.2 1.3"/>
<line x1="84.5" y1="631.5" x2="84.5" y2="637" stroke-width="1.0"/>
<rect x="111" y="631.4" width="33" height="6" fill="#fff" stroke-width="1.0"/>
<path d="M100.8 633.6 C102 629.5 105 627.6 109 627.6 L142 627.6 C146 627.6 148 629 151.8 630.6" fill="none" stroke-width="1.0"/>
<path d="M103 632 C104.5 629.6 106.5 629 109 629 L141 629 C144 629 146 630 148.5 631.2" fill="none" stroke-width="0.9" stroke-dasharray="5 1.5"/>
<line x1="108.6" y1="638.7" x2="159" y2="638.7" stroke-width="0.9" stroke-dasharray="8 1.5 1.5 1.5"/>
<line x1="144" y1="634" x2="152" y2="634" stroke-width="0.9"/>
<path d="M147 629.6 L152 630.8 L174.6 633" fill="none" stroke-width="1.2"/>
<path d="M151.8 631.4 L174.6 633.6 L174.6 636 L151.8 634.6 Z" fill="#000" stroke-width="0.5"/>
<line stroke="#fff" x1="156" y1="632.6" x2="172" y2="634.3" stroke-width="0.6" stroke-dasharray="1.5 1.2"/>
<line x1="157.8" y1="637.2" x2="173.4" y2="637.2" stroke-width="1.6" stroke-dasharray="1 0.9"/>
<path d="M174.6 633 L182.4 640.2 L183 647.4" fill="none" stroke-width="1.0"/>
<line x1="182.4" y1="647.4" x2="173.4" y2="637.8" stroke-width="1.2"/>
<path d="M173.4 637.8 L177.2 639.5 L174.9 641.7 Z" fill="#000" stroke="none" shape-rendering="geometricPrecision"/>
<circle cx="184" cy="651" r="3.2" fill="#fff" stroke-width="1.0"/>
<text x="184" y="652.22" font-size="3.4" text-anchor="middle" textLength="2.0" lengthAdjust="spacingAndGlyphs" font-weight="bold" stroke="#000" stroke-width="0.2" fill="#000">W</text>
<text x="108" y="668.2" font-size="12.4" stroke="none" fill="#000" textLength="16.5" lengthAdjust="spacingAndGlyphs">171</text>
<line x1="117.6" y1="655.2" x2="123.6" y2="638" stroke-width="1.0"/>
<path d="M123.6 638.0 L123.9 641.6 L121.2 640.6 Z" fill="#000" stroke="none" shape-rendering="geometricPrecision"/>
<text x="109.5" y="683.5" font-size="6.4" stroke="#000" stroke-width="0.22" fill="#000" textLength="45" lengthAdjust="spacingAndGlyphs">DETAIL  -A-</text>
<text x="632.5" y="388" font-size="5.6" stroke="#000" stroke-width="0.22" fill="#000" font-weight="bold" textLength="80.5" lengthAdjust="spacingAndGlyphs">BORNE DE COMMUNICATION</text>
<line x1="631" y1="389.5" x2="715" y2="389.5" stroke-width="0.9"/>
<text x="640" y="396" font-size="5.4" stroke="#000" stroke-width="0.22" fill="#000" font-style="italic" textLength="65.5" lengthAdjust="spacingAndGlyphs">COMMUNICATION PORT</text>
<text x="640.5" y="409" font-size="12.4" stroke="none" fill="#000" textLength="67.5" lengthAdjust="spacingAndGlyphs">112,123,135</text>
<line x1="680" y1="410" x2="684.5" y2="426" stroke-width="1.0"/>
<path d="M684.5 426.0 L681.7 422.2 L684.9 421.3 Z" fill="#000" stroke="none" shape-rendering="geometricPrecision"/>
<path d="M656.5 420 L671.5 420 L671.5 451 L656.5 451" fill="none" stroke-width="1.0"/>
<rect x="659.3" y="422.8" width="4.3999999999999995" height="4.3999999999999995" fill="#fff" stroke-width="0.9"/>
<text x="661.5" y="426.2" font-size="3.6" font-weight="bold" text-anchor="middle" stroke="none" fill="#000">A</text>
<rect x="659.3" y="430.3" width="4.3999999999999995" height="4.3999999999999995" fill="#fff" stroke-width="0.9"/>
<text x="661.5" y="433.7" font-size="3.6" font-weight="bold" text-anchor="middle" stroke="none" fill="#000">C</text>
<rect x="659.3" y="438.3" width="4.3999999999999995" height="4.3999999999999995" fill="#fff" stroke-width="0.9"/>
<text x="661.5" y="441.7" font-size="3.6" font-weight="bold" text-anchor="middle" stroke="none" fill="#000">E</text>
<rect x="665.4" y="427.4" width="4.2" height="4.2" fill="#fff" stroke-width="0.9"/>
<text x="667.5" y="430.7" font-size="3.6" font-weight="bold" text-anchor="middle" stroke="none" fill="#000">B</text>
<rect x="665.4" y="435.4" width="4.2" height="4.2" fill="#fff" stroke-width="0.9"/>
<text x="667.5" y="438.7" font-size="3.6" font-weight="bold" text-anchor="middle" stroke="none" fill="#000">D</text>
<rect x="665.4" y="443.9" width="4.2" height="4.2" fill="#fff" stroke-width="0.9"/>
<text x="667.5" y="447.2" font-size="3.6" font-weight="bold" text-anchor="middle" stroke="none" fill="#000">F</text>
<path d="M674 431 L679 426 L693 425 L696.5 428 L696.5 437 L690 441 L676 441 Z" fill="none" stroke-width="1.0"/>
<path d="M675 431 L680 427 L686 427 L686 440 L676 440 Z" fill="#000" stroke-width="0.5"/>
<rect x="678" y="431" width="4" height="7" fill="#fff" stroke-width="0"/>
<line x1="690" y1="426" x2="690" y2="440.5" stroke-width="0.9"/>
<line x1="684" y1="424.5" x2="692" y2="424.5" stroke-width="1.8"/>
<line x1="543" y1="434" x2="564" y2="441" stroke-width="0.8" stroke-dasharray="9 2 1.5 2"/>
<line x1="568" y1="440" x2="577.5" y2="435" stroke-width="1.0" stroke-dasharray="4 2"/>
<path d="M577.5 435 L592.8 413.5 L595.8 411 L599.8 411" fill="none" stroke-width="1.0" stroke-dasharray="3 1 1 1"/>
<path d="M610.2 411 L617.2 411 L620.2 412.5 L649 425 L652 425" fill="none" stroke-width="1.0" stroke-dasharray="1.2 1.3"/>
<line x1="652" y1="425" x2="659.5" y2="425" stroke-width="0.9"/>
<circle cx="605" cy="411" r="5.2" fill="#fff" stroke-width="1.0"/>
<text x="605" y="412.73" font-size="4.8" text-anchor="middle" textLength="7.6" lengthAdjust="spacingAndGlyphs" font-weight="bold" stroke="#000" stroke-width="0.2" fill="#000">BK-P</text>
<path d="M577.5 435 L602.8 423.0 L605.8 420.5 L609.8 420.5" fill="none" stroke-width="1.0" stroke-dasharray="1.2 1.3"/>
<path d="M620.2 420.5 L627.2 420.5 L630.2 422.0 L649 429.5 L652 429.5" fill="none" stroke-width="1.0" stroke-dasharray="4 1.5"/>
<line x1="652" y1="429.5" x2="659.5" y2="429.5" stroke-width="0.9"/>
<circle cx="615" cy="420.5" r="5.2" fill="#fff" stroke-width="1.0"/>
<text x="615" y="422.23" font-size="4.8" text-anchor="middle" textLength="7.6" lengthAdjust="spacingAndGlyphs" font-weight="bold" stroke="#000" stroke-width="0.2" fill="#000">BK-R</text>
<path d="M577.5 435 L599.8 430" fill="none" stroke-width="1.0" stroke-dasharray="1.2 1.3"/>
<path d="M610.2 430 L617.2 430 L620.2 431.5 L649 432.5 L652 432.5" fill="none" stroke-width="1.0" stroke-dasharray="1.2 1.3"/>
<line x1="652" y1="432.5" x2="659.5" y2="432.5" stroke-width="0.9"/>
<circle cx="605" cy="430" r="5.2" fill="#fff" stroke-width="1.0"/>
<text x="605" y="431.73" font-size="4.8" text-anchor="middle" textLength="7.6" lengthAdjust="spacingAndGlyphs" font-weight="bold" stroke="#000" stroke-width="0.2" fill="#000">BK-G</text>
<path d="M577.5 435 L609.8 440" fill="none" stroke-width="1.0" stroke-dasharray="1.2 1.3"/>
<path d="M620.2 440 L627.2 440 L630.2 438.5 L649 437.5 L652 437.5" fill="none" stroke-width="1.0" stroke-dasharray="1.2 1.3"/>
<line x1="652" y1="437.5" x2="659.5" y2="437.5" stroke-width="0.9"/>
<circle cx="615" cy="440" r="5.2" fill="#fff" stroke-width="1.0"/>
<text x="615" y="441.73" font-size="4.8" text-anchor="middle" textLength="7.6" lengthAdjust="spacingAndGlyphs" font-weight="bold" stroke="#000" stroke-width="0.2" fill="#000">BL-B</text>
<path d="M577.5 435 L592.8 448.0 L595.8 450.5 L599.8 450.5" fill="none" stroke-width="1.0" stroke-dasharray="3 1 1 1"/>
<path d="M610.2 450.5 L617.2 450.5 L620.2 449.0 L649 440.5 L652 440.5" fill="none" stroke-width="1.0" stroke-dasharray="4 1.5"/>
<line x1="652" y1="440.5" x2="659.5" y2="440.5" stroke-width="0.9"/>
<circle cx="605" cy="450.5" r="5.2" fill="#fff" stroke-width="1.0"/>
<text x="605" y="452.23" font-size="4.8" text-anchor="middle" textLength="7.6" lengthAdjust="spacingAndGlyphs" font-weight="bold" stroke="#000" stroke-width="0.2" fill="#000">BR-Y</text>
<path d="M577.5 435 L604.7 457.5 L607.7 460 L611.7 460" fill="none" stroke-width="1.0" stroke-dasharray="1.2 1.3"/>
<path d="M618.3 460 L625.3 460 L628.3 458.5 L649 446 L652 446" fill="none" stroke-width="1.0" stroke-dasharray="4 1.5"/>
<line x1="652" y1="446" x2="659.5" y2="446" stroke-width="0.9"/>
<circle cx="615" cy="460" r="3.3" fill="#fff" stroke-width="1.0"/>
<text x="615" y="461.37" font-size="3.8" text-anchor="middle" textLength="2.3" lengthAdjust="spacingAndGlyphs" font-weight="bold" stroke="#000" stroke-width="0.2" fill="#000">W</text>
<path d="M640.5 559.5 L707.375 435.7 L711.375 432.5 L721.0 432.5" fill="none" stroke-width="0.9" stroke-dasharray="1.2 1.3"/>
<path d="M732.0 432.5 L748 432.5 L764.0 438 L772 438" fill="none" stroke-width="0.85" stroke-dasharray="1.2 1.3"/>
<line x1="771" y1="438" x2="790" y2="438" stroke-width="1.0"/>
<circle cx="726.5" cy="432.5" r="5.5" fill="#fff" stroke-width="1.0"/>
<text x="726.5" y="434.23" font-size="4.8" text-anchor="middle" textLength="8.2" lengthAdjust="spacingAndGlyphs" font-weight="bold" stroke="#000" stroke-width="0.2" fill="#000">BK-P</text>
<path d="M640.5 559.5 L706.0625 446.2 L710.0625 443 L729.0 443" fill="none" stroke-width="0.9" stroke-dasharray="4 1.2 1 1.2"/>
<path d="M736.0 443 L750 443 L766.0 444 L772 444" fill="none" stroke-width="0.85" stroke-dasharray="4 2"/>
<line x1="771" y1="444" x2="799" y2="444" stroke-width="1.0"/>
<circle cx="732.5" cy="443" r="3.5" fill="#fff" stroke-width="1.0"/>
<text x="732.5" y="444.37" font-size="3.8" text-anchor="middle" textLength="2.3" lengthAdjust="spacingAndGlyphs" font-weight="bold" stroke="#000" stroke-width="0.2" fill="#000">B</text>
<path d="M640.5 559.5 L704.6875 457.2 L708.6875 454 L715.8 454" fill="none" stroke-width="0.9" stroke-dasharray="1.2 1.3"/>
<path d="M726.2 454 L752 454 L768.0 449.5 L772 449.5" fill="none" stroke-width="0.85" stroke-dasharray="1.2 1.3"/>
<line x1="771" y1="449.5" x2="780.5" y2="449.5" stroke-width="1.0"/>
<circle cx="721" cy="454" r="5.2" fill="#fff" stroke-width="1.0"/>
<text x="721" y="455.73" font-size="4.8" text-anchor="middle" textLength="7.6" lengthAdjust="spacingAndGlyphs" font-weight="bold" stroke="#000" stroke-width="0.2" fill="#000">BK-G</text>
<path d="M640.5 559.5 L703.375 467.7 L707.375 464.5 L721.3 464.5" fill="none" stroke-width="0.9" stroke-dasharray="3 1.5"/>
<path d="M731.7 464.5 L748 464.5 L764.0 456 L772 456" fill="none" stroke-width="0.85" stroke-dasharray="4 2"/>
<line x1="771" y1="456" x2="790" y2="456" stroke-width="1.0"/>
<circle cx="726.5" cy="464.5" r="5.2" fill="#fff" stroke-width="1.0"/>
<text x="726.5" y="466.23" font-size="4.8" text-anchor="middle" textLength="7.6" lengthAdjust="spacingAndGlyphs" font-weight="bold" stroke="#000" stroke-width="0.2" fill="#000">BK-C</text>
<path d="M640.5 559.5 L702.0625 478.2 L706.0625 475 L729.0 475" fill="none" stroke-width="0.9" stroke-dasharray="1.2 1.3"/>
<path d="M736.0 475 L750 475 L766.0 462 L772 462" fill="none" stroke-width="0.85" stroke-dasharray="1.2 1.3"/>
<line x1="771" y1="462" x2="799" y2="462" stroke-width="1.0"/>
<circle cx="732.5" cy="475" r="3.5" fill="#fff" stroke-width="1.0"/>
<text x="732.5" y="476.37" font-size="3.8" text-anchor="middle" textLength="4.2" lengthAdjust="spacingAndGlyphs" font-weight="bold" stroke="#000" stroke-width="0.2" fill="#000">GN</text>
<path d="M640.5 559.5 L700.6875 489.2 L704.6875 486 L715.8 486" fill="none" stroke-width="0.9" stroke-dasharray="4 1.2 1 1.2"/>
<path d="M726.2 486 L752 486 L768.0 467.5 L772 467.5" fill="none" stroke-width="0.85" stroke-dasharray="4 2"/>
<line x1="771" y1="467.5" x2="780.5" y2="467.5" stroke-width="1.0"/>
<circle cx="721" cy="486" r="5.2" fill="#fff" stroke-width="1.0"/>
<text x="721" y="487.73" font-size="4.8" text-anchor="middle" textLength="7.6" lengthAdjust="spacingAndGlyphs" font-weight="bold" stroke="#000" stroke-width="0.2" fill="#000">YE-BK</text>
<path d="M640.5 559.5 L699.375 499.7 L703.375 496.5 L721.3 496.5" fill="none" stroke-width="0.9" stroke-dasharray="1.2 1.3"/>
<path d="M731.7 496.5 L748 496.5 L764.0 473.5 L772 473.5" fill="none" stroke-width="0.85" stroke-dasharray="1.2 1.3"/>
<line x1="771" y1="473.5" x2="790" y2="473.5" stroke-width="1.0"/>
<circle cx="726.5" cy="496.5" r="5.2" fill="#fff" stroke-width="1.0"/>
<text x="726.5" y="498.23" font-size="4.8" text-anchor="middle" textLength="7.6" lengthAdjust="spacingAndGlyphs" font-weight="bold" stroke="#000" stroke-width="0.2" fill="#000">BK-C</text>
<path d="M640.5 559.5 L698.0625 510.2 L702.0625 507 L727.5 507" fill="none" stroke-width="0.9" stroke-dasharray="3 1.5"/>
<path d="M738.5 507 L750 507 L766.0 480 L772 480" fill="none" stroke-width="0.85" stroke-dasharray="4 2"/>
<line x1="771" y1="480" x2="799" y2="480" stroke-width="1.0"/>
<circle cx="733" cy="507" r="5.5" fill="#fff" stroke-width="1.0"/>
<text x="733" y="508.73" font-size="4.8" text-anchor="middle" textLength="8.2" lengthAdjust="spacingAndGlyphs" font-weight="bold" stroke="#000" stroke-width="0.2" fill="#000">BK-R</text>
<path d="M640.5 559.5 L696.6875 521.2 L700.6875 518 L715.5 518" fill="none" stroke-width="0.9" stroke-dasharray="1.2 1.3"/>
<path d="M726.5 518 L752 518 L768.0 485.5 L772 485.5" fill="none" stroke-width="0.85" stroke-dasharray="1.2 1.3"/>
<line x1="771" y1="485.5" x2="780.5" y2="485.5" stroke-width="1.0"/>
<circle cx="721" cy="518" r="5.5" fill="#fff" stroke-width="1.0"/>
<text x="721" y="519.73" font-size="4.8" text-anchor="middle" textLength="8.2" lengthAdjust="spacingAndGlyphs" font-weight="bold" stroke="#000" stroke-width="0.2" fill="#000">BR-G</text>
<path d="M640.5 559.5 L695.3125 532.2 L699.3125 529 L721.0 529" fill="none" stroke-width="0.9" stroke-dasharray="4 1.2 1 1.2"/>
<path d="M732.0 529 L748 529 L764.0 491.5 L772 491.5" fill="none" stroke-width="0.85" stroke-dasharray="4 2"/>
<line x1="771" y1="491.5" x2="790" y2="491.5" stroke-width="1.0"/>
<circle cx="726.5" cy="529" r="5.5" fill="#fff" stroke-width="1.0"/>
<text x="726.5" y="530.73" font-size="4.8" text-anchor="middle" textLength="8.2" lengthAdjust="spacingAndGlyphs" font-weight="bold" stroke="#000" stroke-width="0.2" fill="#000">BK-B</text>
<path d="M640.5 559.5 L694.0 542.7 L698.0 539.5 L727.3 539.5" fill="none" stroke-width="0.9" stroke-dasharray="1.2 1.3"/>
<path d="M737.7 539.5 L750 539.5 L766.0 497.5 L772 497.5" fill="none" stroke-width="0.85" stroke-dasharray="1.2 1.3"/>
<line x1="771" y1="497.5" x2="799" y2="497.5" stroke-width="1.0"/>
<circle cx="732.5" cy="539.5" r="5.2" fill="#fff" stroke-width="1.0"/>
<text x="732.5" y="541.23" font-size="4.8" text-anchor="middle" textLength="7.6" lengthAdjust="spacingAndGlyphs" font-weight="bold" stroke="#000" stroke-width="0.2" fill="#000">BK-G</text>
<path d="M640.5 559.5 L692.625 553.7 L696.625 550.5 L717.5 550.5" fill="none" stroke-width="0.9" stroke-dasharray="3 1.5"/>
<path d="M724.5 550.5 L752 550.5 L768.0 503 L772 503" fill="none" stroke-width="0.85" stroke-dasharray="4 2"/>
<line x1="771" y1="503" x2="780.5" y2="503" stroke-width="1.0"/>
<circle cx="721" cy="550.5" r="3.5" fill="#fff" stroke-width="1.0"/>
<text x="721" y="551.87" font-size="3.8" text-anchor="middle" textLength="4.2" lengthAdjust="spacingAndGlyphs" font-weight="bold" stroke="#000" stroke-width="0.2" fill="#000">GN</text>
<path d="M640.5 559.5 L699.0890625 561 L721.8 561" fill="none" stroke-width="0.9" stroke-dasharray="1.2 1.3"/>
<path d="M732.2 561 L748 561 L764.0 509.5 L772 509.5" fill="none" stroke-width="0.85" stroke-dasharray="1.2 1.3"/>
<line x1="771" y1="509.5" x2="790" y2="509.5" stroke-width="1.0"/>
<circle cx="727" cy="561" r="5.2" fill="#fff" stroke-width="1.0"/>
<text x="727" y="562.73" font-size="4.8" text-anchor="middle" textLength="7.6" lengthAdjust="spacingAndGlyphs" font-weight="bold" stroke="#000" stroke-width="0.2" fill="#000">BK-B</text>
<path d="M640.5 559.5 L698.2421875 568.8 L702.2421875 572 L727.5 572" fill="none" stroke-width="0.9" stroke-dasharray="4 1.2 1 1.2"/>
<path d="M738.5 572 L750 572 L766.0 515 L772 515" fill="none" stroke-width="0.85" stroke-dasharray="4 2"/>
<line x1="771" y1="515" x2="799" y2="515" stroke-width="1.0"/>
<circle cx="733" cy="572" r="5.5" fill="#fff" stroke-width="1.0"/>
<text x="733" y="573.73" font-size="4.8" text-anchor="middle" textLength="8.2" lengthAdjust="spacingAndGlyphs" font-weight="bold" stroke="#000" stroke-width="0.2" fill="#000">BK-R</text>
<path d="M640.5 559.5 L698.865625 579.3 L702.865625 582.5 L715.5 582.5" fill="none" stroke-width="0.9" stroke-dasharray="1.2 1.3"/>
<path d="M726.5 582.5 L752 582.5 L768.0 521 L772 521" fill="none" stroke-width="0.85" stroke-dasharray="1.2 1.3"/>
<line x1="771" y1="521" x2="780.5" y2="521" stroke-width="1.0"/>
<circle cx="721" cy="582.5" r="5.5" fill="#fff" stroke-width="1.0"/>
<text x="721" y="584.23" font-size="4.8" text-anchor="middle" textLength="8.2" lengthAdjust="spacingAndGlyphs" font-weight="bold" stroke="#000" stroke-width="0.2" fill="#000">BL-P</text>
<path d="M640.5 559.5 L699.51875 590.3 L703.51875 593.5 L723.5 593.5" fill="none" stroke-width="0.9" stroke-dasharray="3 1.5"/>
<path d="M730.5 593.5 L748 593.5 L764.0 527 L772 527" fill="none" stroke-width="0.85" stroke-dasharray="4 2"/>
<line x1="771" y1="527" x2="790" y2="527" stroke-width="1.0"/>
<circle cx="727" cy="593.5" r="3.5" fill="#fff" stroke-width="1.0"/>
<text x="727" y="594.87" font-size="3.8" text-anchor="middle" textLength="2.3" lengthAdjust="spacingAndGlyphs" font-weight="bold" stroke="#000" stroke-width="0.2" fill="#000">B</text>
<path d="M640.5 559.5 L700.171875 601.3 L704.171875 604.5 L715.5 604.5" fill="none" stroke-width="0.9" stroke-dasharray="1.2 1.3"/>
<path d="M726.5 604.5 L750 604.5 L766.0 539 L772 539" fill="none" stroke-width="0.85" stroke-dasharray="1.2 1.3"/>
<line x1="771" y1="539" x2="780.5" y2="539" stroke-width="1.0"/>
<circle cx="721" cy="604.5" r="5.5" fill="#fff" stroke-width="1.0"/>
<text x="721" y="606.23" font-size="4.8" text-anchor="middle" textLength="8.2" lengthAdjust="spacingAndGlyphs" font-weight="bold" stroke="#000" stroke-width="0.2" fill="#000">BK-B</text>
<path d="M640.5 559.5 L700.765625 611.3 L704.765625 614.5 L721.8 614.5" fill="none" stroke-width="0.9" stroke-dasharray="4 1.2 1 1.2"/>
<path d="M732.2 614.5 L752 614.5 L768.0 562.5 L772 562.5" fill="none" stroke-width="0.85" stroke-dasharray="4 2"/>
<line x1="771" y1="562.5" x2="790" y2="562.5" stroke-width="1.0"/>
<circle cx="727" cy="614.5" r="5.2" fill="#fff" stroke-width="1.0"/>
<text x="727" y="616.23" font-size="4.8" text-anchor="middle" textLength="7.6" lengthAdjust="spacingAndGlyphs" font-weight="bold" stroke="#000" stroke-width="0.2" fill="#000">BK-R</text>
<path d="M640.5 559.5 L701.4484375 622.8 L705.4484375 626 L715.8 626" fill="none" stroke-width="0.9" stroke-dasharray="1.2 1.3"/>
<path d="M726.2 626 L748 626 L764.0 574.5 L772 574.5" fill="none" stroke-width="0.85" stroke-dasharray="1.2 1.3"/>
<line x1="771" y1="574.5" x2="780.5" y2="574.5" stroke-width="1.0"/>
<circle cx="721" cy="626" r="5.2" fill="#fff" stroke-width="1.0"/>
<text x="721" y="627.73" font-size="4.8" text-anchor="middle" textLength="7.6" lengthAdjust="spacingAndGlyphs" font-weight="bold" stroke="#000" stroke-width="0.2" fill="#000">PR-G</text>
<path d="M640.5 559.5 L702.071875 633.3 L706.071875 636.5 L729.5 636.5" fill="none" stroke-width="0.9" stroke-dasharray="3 1.5"/>
<path d="M736.5 636.5 L750 636.5 L766.0 586 L772 586" fill="none" stroke-width="0.85" stroke-dasharray="4 2"/>
<line x1="771" y1="586" x2="799" y2="586" stroke-width="1.0"/>
<circle cx="733" cy="636.5" r="3.5" fill="#fff" stroke-width="1.0"/>
<text x="733" y="637.87" font-size="3.8" text-anchor="middle" textLength="4.2" lengthAdjust="spacingAndGlyphs" font-weight="bold" stroke="#000" stroke-width="0.2" fill="#000">BL</text>
<path d="M640.5 559.5 L702.6953125 643.8 L706.6953125 647 L715.5 647" fill="none" stroke-width="0.9" stroke-dasharray="1.2 1.3"/>
<path d="M726.5 647 L752 647 L768.0 610 L772 610" fill="none" stroke-width="0.85" stroke-dasharray="1.2 1.3"/>
<line x1="771" y1="610" x2="780.5" y2="610" stroke-width="1.0"/>
<circle cx="721" cy="647" r="5.5" fill="#fff" stroke-width="1.0"/>
<text x="721" y="648.73" font-size="4.8" text-anchor="middle" textLength="8.2" lengthAdjust="spacingAndGlyphs" font-weight="bold" stroke="#000" stroke-width="0.2" fill="#000">BK-Y</text>
<path d="M640.5 559.5 L703.3484375 654.8 L707.3484375 658 L721.8 658" fill="none" stroke-width="0.9" stroke-dasharray="4 1.2 1 1.2"/>
<path d="M732.2 658 L748 658 L764.0 615.5 L772 615.5" fill="none" stroke-width="0.85" stroke-dasharray="4 2"/>
<line x1="771" y1="615.5" x2="790" y2="615.5" stroke-width="1.0"/>
<circle cx="727" cy="658" r="5.2" fill="#fff" stroke-width="1.0"/>
<text x="727" y="659.73" font-size="4.8" text-anchor="middle" textLength="7.6" lengthAdjust="spacingAndGlyphs" font-weight="bold" stroke="#000" stroke-width="0.2" fill="#000">BK-R</text>
<path d="M640.5 559.5 L703.971875 665.3 L707.971875 668.5 L728.5 668.5" fill="none" stroke-width="0.9" stroke-dasharray="1.2 1.3"/>
<path d="M737.5 668.5 L750 668.5 L766.0 622 L772 622" fill="none" stroke-width="0.85" stroke-dasharray="1.2 1.3"/>
<line x1="771" y1="622" x2="799" y2="622" stroke-width="1.0"/>
<circle cx="733" cy="668.5" r="4.5" fill="#fff" stroke-width="1.0"/>
<text x="733" y="670.23" font-size="4.8" text-anchor="middle" textLength="5.8" lengthAdjust="spacingAndGlyphs" font-weight="bold" stroke="#000" stroke-width="0.2" fill="#000">BR</text>
<path d="M640.5 559.5 L704.565625 675.3 L708.565625 678.5 L721.8 678.5" fill="none" stroke-width="0.9" stroke-dasharray="3 1.5"/>
<path d="M732.2 678.5 L752 678.5 L768.0 627.5 L772 627.5" fill="none" stroke-width="0.85" stroke-dasharray="4 2"/>
<line x1="771" y1="627.5" x2="780.5" y2="627.5" stroke-width="1.0"/>
<circle cx="727" cy="678.5" r="5.2" fill="#fff" stroke-width="1.0"/>
<text x="727" y="680.23" font-size="4.8" text-anchor="middle" textLength="7.6" lengthAdjust="spacingAndGlyphs" font-weight="bold" stroke="#000" stroke-width="0.2" fill="#000">BK-C</text>
<path d="M640.5 559.5 L705.278125 687.3 L709.278125 690.5 L721.8 690.5" fill="none" stroke-width="0.9" stroke-dasharray="1.2 1.3"/>
<path d="M732.2 690.5 L748 690.5 L764.0 652 L772 652" fill="none" stroke-width="0.85" stroke-dasharray="1.2 1.3"/>
<line x1="771" y1="652" x2="790" y2="652" stroke-width="1.0"/>
<circle cx="727" cy="690.5" r="5.2" fill="#fff" stroke-width="1.0"/>
<text x="727" y="692.23" font-size="4.8" text-anchor="middle" textLength="7.6" lengthAdjust="spacingAndGlyphs" font-weight="bold" stroke="#000" stroke-width="0.2" fill="#000">PR-G</text>
<path d="M640.5 559.5 L705.9015625 697.8 L709.9015625 701 L717.5 701" fill="none" stroke-width="0.9" stroke-dasharray="4 1.2 1 1.2"/>
<path d="M724.5 701 L750 701 L766.0 663 L772 663" fill="none" stroke-width="0.85" stroke-dasharray="4 2"/>
<line x1="771" y1="663" x2="780.5" y2="663" stroke-width="1.0"/>
<circle cx="721" cy="701" r="3.5" fill="#fff" stroke-width="1.0"/>
<text x="721" y="702.37" font-size="3.8" text-anchor="middle" textLength="2.3" lengthAdjust="spacingAndGlyphs" font-weight="bold" stroke="#000" stroke-width="0.2" fill="#000">W</text>
<path d="M640.5 559.5 L706.5546875 708.8 L710.5546875 712 L721.8 712" fill="none" stroke-width="0.9" stroke-dasharray="1.2 1.3"/>
<path d="M732.2 712 L752 712 L768.0 669 L772 669" fill="none" stroke-width="0.85" stroke-dasharray="1.2 1.3"/>
<line x1="771" y1="669" x2="790" y2="669" stroke-width="1.0"/>
<circle cx="727" cy="712" r="5.2" fill="#fff" stroke-width="1.0"/>
<text x="727" y="713.73" font-size="4.8" text-anchor="middle" textLength="7.6" lengthAdjust="spacingAndGlyphs" font-weight="bold" stroke="#000" stroke-width="0.2" fill="#000">BK-B</text>
<path d="M640.5 559.5 L707.0 719.3 L711.0 722.5 L721.8 722.5" fill="none" stroke-width="0.9" stroke-dasharray="3 1.5"/>
<path d="M732.2 722.5 L748 722.5 L764.0 681 L772 681" fill="none" stroke-width="0.85" stroke-dasharray="4 2"/>
<line x1="771" y1="681" x2="790" y2="681" stroke-width="1.0"/>
<circle cx="727" cy="722.5" r="5.2" fill="#fff" stroke-width="1.0"/>
<text x="727" y="724.23" font-size="4.8" text-anchor="middle" textLength="7.6" lengthAdjust="spacingAndGlyphs" font-weight="bold" stroke="#000" stroke-width="0.2" fill="#000">BK-G</text>
<line x1="775" y1="429" x2="810" y2="429" stroke-width="1.0"/>
<line x1="775" y1="687" x2="810" y2="687" stroke-width="1.0"/>
<rect x="780.0" y="447.0" width="5.0" height="5.0" fill="#fff" stroke-width="0.9"/>
<text x="782.5" y="450.7" font-size="3.6" font-weight="bold" text-anchor="middle" stroke="none" fill="#000">n</text>
<rect x="780.3" y="465.3" width="4.4" height="4.4" fill="#000" stroke-width="0.6"/>
<rect x="781.6" y="466.4" width="1.6" height="2.2" fill="#fff" stroke-width="0"/>
<rect x="780.3" y="483.3" width="4.4" height="4.4" fill="#000" stroke-width="0.6"/>
<rect x="781.6" y="484.4" width="1.6" height="2.2" fill="#fff" stroke-width="0"/>
<rect x="780.0" y="500.5" width="5.0" height="5.0" fill="#fff" stroke-width="0.9"/>
<text x="782.5" y="504.2" font-size="3.6" font-weight="bold" text-anchor="middle" stroke="none" fill="#000">n</text>
<rect x="780.3" y="518.8" width="4.4" height="4.4" fill="#000" stroke-width="0.6"/>
<rect x="781.6" y="519.9" width="1.6" height="2.2" fill="#fff" stroke-width="0"/>
<rect x="780.3" y="536.8" width="4.4" height="4.4" fill="#000" stroke-width="0.6"/>
<rect x="781.6" y="537.9" width="1.6" height="2.2" fill="#fff" stroke-width="0"/>
<rect x="780.0" y="554.0" width="5.0" height="5.0" fill="#fff" stroke-width="0.9"/>
<text x="782.5" y="557.7" font-size="3.6" font-weight="bold" text-anchor="middle" stroke="none" fill="#000">n</text>
<rect x="780.0" y="572.0" width="5.0" height="5.0" fill="#fff" stroke-width="0.9"/>
<text x="782.5" y="575.7" font-size="3.6" font-weight="bold" text-anchor="middle" stroke="none" fill="#000">n</text>
<rect x="780.3" y="590.3" width="4.4" height="4.4" fill="#000" stroke-width="0.6"/>
<rect x="781.6" y="591.4" width="1.6" height="2.2" fill="#fff" stroke-width="0"/>
<rect x="780.3" y="607.8" width="4.4" height="4.4" fill="#000" stroke-width="0.6"/>
<rect x="781.6" y="608.9" width="1.6" height="2.2" fill="#fff" stroke-width="0"/>
<rect x="780.3" y="625.3" width="4.4" height="4.4" fill="#000" stroke-width="0.6"/>
<rect x="781.6" y="626.4" width="1.6" height="2.2" fill="#fff" stroke-width="0"/>
<rect x="780.0" y="643.0" width="5.0" height="5.0" fill="#fff" stroke-width="0.9"/>
<text x="782.5" y="646.7" font-size="3.6" font-weight="bold" text-anchor="middle" stroke="none" fill="#000">n</text>
<rect x="780.0" y="660.5" width="5.0" height="5.0" fill="#fff" stroke-width="0.9"/>
<text x="782.5" y="664.2" font-size="3.6" font-weight="bold" text-anchor="middle" stroke="none" fill="#000">n</text>
<rect x="789.5" y="435.5" width="5.0" height="5.0" fill="#fff" stroke-width="0.9"/>
<text x="792" y="439.2" font-size="3.6" font-weight="bold" text-anchor="middle" stroke="none" fill="#000">n</text>
<rect x="789.5" y="453.5" width="5.0" height="5.0" fill="#fff" stroke-width="0.9"/>
<text x="792" y="457.2" font-size="3.6" font-weight="bold" text-anchor="middle" stroke="none" fill="#000">n</text>
<rect x="789.8" y="471.3" width="4.4" height="4.4" fill="#000" stroke-width="0.6"/>
<rect x="791.1" y="472.4" width="1.6" height="2.2" fill="#fff" stroke-width="0"/>
<rect x="789.8" y="489.3" width="4.4" height="4.4" fill="#000" stroke-width="0.6"/>
<rect x="791.1" y="490.4" width="1.6" height="2.2" fill="#fff" stroke-width="0"/>
<rect x="789.8" y="507.3" width="4.4" height="4.4" fill="#000" stroke-width="0.6"/>
<rect x="791.1" y="508.4" width="1.6" height="2.2" fill="#fff" stroke-width="0"/>
<rect x="789.5" y="524.5" width="5.0" height="5.0" fill="#fff" stroke-width="0.9"/>
<text x="792" y="528.2" font-size="3.6" font-weight="bold" text-anchor="middle" stroke="none" fill="#000">n</text>
<rect x="789.8" y="542.8" width="4.4" height="4.4" fill="#000" stroke-width="0.6"/>
<rect x="791.1" y="543.9" width="1.6" height="2.2" fill="#fff" stroke-width="0"/>
<rect x="789.5" y="560.5" width="5.0" height="5.0" fill="#fff" stroke-width="0.9"/>
<text x="792" y="564.2" font-size="3.6" font-weight="bold" text-anchor="middle" stroke="none" fill="#000">n</text>
<rect x="789.5" y="578.0" width="5.0" height="5.0" fill="#fff" stroke-width="0.9"/>
<text x="792" y="581.7" font-size="3.6" font-weight="bold" text-anchor="middle" stroke="none" fill="#000">n</text>
<rect x="789.8" y="595.8" width="4.4" height="4.4" fill="#000" stroke-width="0.6"/>
<rect x="791.1" y="596.9" width="1.6" height="2.2" fill="#fff" stroke-width="0"/>
<rect x="789.8" y="613.3" width="4.4" height="4.4" fill="#000" stroke-width="0.6"/>
<rect x="791.1" y="614.4" width="1.6" height="2.2" fill="#fff" stroke-width="0"/>
<rect x="789.5" y="631.5" width="5.0" height="5.0" fill="#fff" stroke-width="0.9"/>
<text x="792" y="635.2" font-size="3.6" font-weight="bold" text-anchor="middle" stroke="none" fill="#000">n</text>
<rect x="789.8" y="649.8" width="4.4" height="4.4" fill="#000" stroke-width="0.6"/>
<rect x="791.1" y="650.9" width="1.6" height="2.2" fill="#fff" stroke-width="0"/>
<rect x="789.5" y="666.5" width="5.0" height="5.0" fill="#fff" stroke-width="0.9"/>
<text x="792" y="670.2" font-size="3.6" font-weight="bold" text-anchor="middle" stroke="none" fill="#000">n</text>
<rect x="789.8" y="678.8" width="4.4" height="4.4" fill="#000" stroke-width="0.6"/>
<rect x="791.1" y="679.9" width="1.6" height="2.2" fill="#fff" stroke-width="0"/>
<rect x="798.5" y="441.5" width="5.0" height="5.0" fill="#fff" stroke-width="0.9"/>
<text x="801" y="445.2" font-size="3.6" font-weight="bold" text-anchor="middle" stroke="none" fill="#000">n</text>
<rect x="798.8" y="459.8" width="4.4" height="4.4" fill="#000" stroke-width="0.6"/>
<rect x="800.1" y="460.9" width="1.6" height="2.2" fill="#fff" stroke-width="0"/>
<rect x="798.5" y="477.5" width="5.0" height="5.0" fill="#fff" stroke-width="0.9"/>
<text x="801" y="481.2" font-size="3.6" font-weight="bold" text-anchor="middle" stroke="none" fill="#000">n</text>
<rect x="798.8" y="495.3" width="4.4" height="4.4" fill="#000" stroke-width="0.6"/>
<rect x="800.1" y="496.4" width="1.6" height="2.2" fill="#fff" stroke-width="0"/>
<rect x="798.5" y="512.5" width="5.0" height="5.0" fill="#fff" stroke-width="0.9"/>
<text x="801" y="516.2" font-size="3.6" font-weight="bold" text-anchor="middle" stroke="none" fill="#000">n</text>
<rect x="798.8" y="530.8" width="4.4" height="4.4" fill="#000" stroke-width="0.6"/>
<rect x="800.1" y="531.9" width="1.6" height="2.2" fill="#fff" stroke-width="0"/>
<rect x="798.8" y="548.8" width="4.4" height="4.4" fill="#000" stroke-width="0.6"/>
<rect x="800.1" y="549.9" width="1.6" height="2.2" fill="#fff" stroke-width="0"/>
<rect x="798.5" y="565.5" width="5.0" height="5.0" fill="#fff" stroke-width="0.9"/>
<text x="801" y="569.2" font-size="3.6" font-weight="bold" text-anchor="middle" stroke="none" fill="#000">n</text>
<rect x="798.8" y="583.8" width="4.4" height="4.4" fill="#000" stroke-width="0.6"/>
<rect x="800.1" y="584.9" width="1.6" height="2.2" fill="#fff" stroke-width="0"/>
<rect x="798.8" y="602.3" width="4.4" height="4.4" fill="#000" stroke-width="0.6"/>
<rect x="800.1" y="603.4" width="1.6" height="2.2" fill="#fff" stroke-width="0"/>
<rect x="798.8" y="619.8" width="4.4" height="4.4" fill="#000" stroke-width="0.6"/>
<rect x="800.1" y="620.9" width="1.6" height="2.2" fill="#fff" stroke-width="0"/>
<rect x="798.5" y="637.5" width="5.0" height="5.0" fill="#fff" stroke-width="0.9"/>
<text x="801" y="641.2" font-size="3.6" font-weight="bold" text-anchor="middle" stroke="none" fill="#000">n</text>
<rect x="798.8" y="655.3" width="4.4" height="4.4" fill="#000" stroke-width="0.6"/>
<rect x="800.1" y="656.4" width="1.6" height="2.2" fill="#fff" stroke-width="0"/>
<text x="865" y="485.5" font-size="12.4" stroke="none" fill="#000" textLength="97" lengthAdjust="spacingAndGlyphs">388,391.437,438,</text>
<text x="865" y="498" font-size="12.4" stroke="none" fill="#000" textLength="44" lengthAdjust="spacingAndGlyphs">439,440</text>
<line x1="894" y1="500" x2="880.5" y2="532.5" stroke-width="1.0"/>
<path d="M880.5 532.5 L880.5 527.7 L883.9 529.1 Z" fill="#000" stroke="none" shape-rendering="geometricPrecision"/>
<text x="824" y="519.5" font-size="12.4" stroke="none" fill="#000" textLength="19" lengthAdjust="spacingAndGlyphs">196</text>
<line x1="843" y1="520.5" x2="852.5" y2="536" stroke-width="0.9"/>
<rect x="814.6" y="540" width="34" height="8" fill="#000" stroke-width="0.5"/>
<rect x="830" y="544" width="2" height="1" fill="#fff" stroke-width="0"/>
<rect x="844" y="543" width="2" height="1" fill="#fff" stroke-width="0"/>
<rect x="831" y="544" width="2" height="1" fill="#fff" stroke-width="0"/>
<rect x="821" y="544" width="2" height="1" fill="#fff" stroke-width="0"/>
<rect x="835" y="545" width="2" height="1" fill="#fff" stroke-width="0"/>
<rect x="818" y="543" width="2" height="1" fill="#fff" stroke-width="0"/>
<rect x="818" y="545" width="2" height="1" fill="#fff" stroke-width="0"/>
<rect x="837" y="541" width="2" height="1" fill="#fff" stroke-width="0"/>
<rect x="846" y="546" width="2" height="1" fill="#fff" stroke-width="0"/>
<rect x="836" y="544" width="2" height="1" fill="#fff" stroke-width="0"/>
<rect x="820" y="541" width="2" height="1" fill="#fff" stroke-width="0"/>
<rect x="832" y="541" width="2" height="1" fill="#fff" stroke-width="0"/>
<rect x="821" y="542" width="2" height="1" fill="#fff" stroke-width="0"/>
<rect x="816" y="543" width="2" height="1" fill="#fff" stroke-width="0"/>
<rect x="829" y="545" width="2" height="1" fill="#fff" stroke-width="0"/>
<rect x="832" y="544" width="2" height="1" fill="#fff" stroke-width="0"/>
<rect x="831" y="544" width="2" height="1" fill="#fff" stroke-width="0"/>
<rect x="830" y="542" width="2" height="1" fill="#fff" stroke-width="0"/>
<rect x="846" y="546" width="2" height="1" fill="#fff" stroke-width="0"/>
<rect x="842" y="545" width="2" height="1" fill="#fff" stroke-width="0"/>
<rect x="825" y="542" width="2" height="1" fill="#fff" stroke-width="0"/>
<rect x="824" y="541" width="2" height="1" fill="#fff" stroke-width="0"/>
<rect x="839" y="543" width="2" height="1" fill="#fff" stroke-width="0"/>
<rect x="842" y="543" width="2" height="1" fill="#fff" stroke-width="0"/>
<rect x="845" y="545" width="2" height="1" fill="#fff" stroke-width="0"/>
<rect x="816" y="542" width="2" height="1" fill="#fff" stroke-width="0"/>
<rect x="844" y="543" width="2" height="1" fill="#fff" stroke-width="0"/>
<rect x="846" y="543" width="2" height="1" fill="#fff" stroke-width="0"/>
<rect x="818" y="544" width="2" height="1" fill="#fff" stroke-width="0"/>
<rect x="840" y="542" width="2" height="1" fill="#fff" stroke-width="0"/>
<rect x="818" y="543" width="2" height="1" fill="#fff" stroke-width="0"/>
<rect x="845" y="545" width="2" height="1" fill="#fff" stroke-width="0"/>
<rect x="819" y="542" width="2" height="1" fill="#fff" stroke-width="0"/>
<rect x="819" y="541" width="2" height="1" fill="#fff" stroke-width="0"/>
<rect x="840" y="542" width="2" height="1" fill="#fff" stroke-width="0"/>
<rect x="833" y="543" width="2" height="1" fill="#fff" stroke-width="0"/>
<rect x="821" y="545" width="2" height="1" fill="#fff" stroke-width="0"/>
<rect x="820" y="544" width="2" height="1" fill="#fff" stroke-width="0"/>
<rect x="819" y="543" width="2" height="1" fill="#fff" stroke-width="0"/>
<rect x="822" y="542" width="2" height="1" fill="#fff" stroke-width="0"/>
<rect x="846" y="545" width="2" height="1" fill="#fff" stroke-width="0"/>
<rect x="825" y="545" width="2" height="1" fill="#fff" stroke-width="0"/>
<rect x="822" y="543" width="2" height="1" fill="#fff" stroke-width="0"/>
<rect x="842" y="544" width="2" height="1" fill="#fff" stroke-width="0"/>
<rect x="819" y="546" width="2" height="1" fill="#fff" stroke-width="0"/>
<rect x="822" y="542" width="2" height="1" fill="#fff" stroke-width="0"/>
<rect x="839" y="543" width="2" height="1" fill="#fff" stroke-width="0"/>
<rect x="825" y="541" width="2" height="1" fill="#fff" stroke-width="0"/>
<rect x="818" y="544" width="2" height="1" fill="#fff" stroke-width="0"/>
<rect x="823" y="544" width="2" height="1" fill="#fff" stroke-width="0"/>
<rect x="827" y="543" width="2" height="1" fill="#fff" stroke-width="0"/>
<rect x="845" y="543" width="2" height="1" fill="#fff" stroke-width="0"/>
<rect x="833" y="545" width="2" height="1" fill="#fff" stroke-width="0"/>
<rect x="821" y="542" width="2" height="1" fill="#fff" stroke-width="0"/>
<rect x="844" y="545" width="2" height="1" fill="#fff" stroke-width="0"/>
<rect x="823" y="542" width="2" height="1" fill="#fff" stroke-width="0"/>
<rect x="838" y="546" width="2" height="1" fill="#fff" stroke-width="0"/>
<rect x="822" y="546" width="2" height="1" fill="#fff" stroke-width="0"/>
<rect x="843" y="544" width="2" height="1" fill="#fff" stroke-width="0"/>
<rect x="829" y="542" width="2" height="1" fill="#fff" stroke-width="0"/>
<rect x="848.2" y="536.4" width="12.4" height="13" fill="#000" stroke-width="1.0"/>
<rect x="852.6" y="538" width="3.2" height="11.4" fill="#fff" stroke-width="0"/>
<rect x="857.5" y="539" width="1.6" height="8" fill="#fff" stroke-width="0"/>
<path d="M852.4 536.4 L875.8 536.4" fill="none" stroke-width="1.0"/>
<path d="M875.8 536.4 L900.4 542.2" fill="none" stroke-width="1.0" stroke-dasharray="8 1.5 2 1.5"/>
<path d="M900.4 542.2 L900.4 557.2" fill="none" stroke-width="1.0" stroke-dasharray="8 1.5 2 1.5"/>
<line x1="862.4" y1="536.4" x2="862.4" y2="557.2" stroke-width="1.0"/>
<line x1="863.8" y1="548.4" x2="867.4" y2="548.4" stroke-width="1.0"/>
<rect x="858.4" y="557.4" width="46.2" height="14.8" fill="none" stroke-width="1.0" stroke-dasharray="14 1.2 2 1.2"/>
<line x1="859.2" y1="557.4" x2="859.2" y2="572.2" stroke-width="1.8"/>
<line x1="856" y1="557.4" x2="859" y2="557.4" stroke-width="1.0"/>
<line x1="856" y1="572.2" x2="859" y2="572.2" stroke-width="1.0"/>
<path d="M904.6 558.6 L910.6 558.6 C918.5 561 918.5 569 910.6 571.4 L904.6 571.8" fill="none" stroke-width="1.0"/>
<text x="817.5" y="586.5" font-size="6.4" stroke="#000" stroke-width="0.22" fill="#000" textLength="99" lengthAdjust="spacingAndGlyphs">MODULE ELECTRONIQUE 2</text>
<line x1="812" y1="588.3" x2="920" y2="588.3" stroke-width="0.9"/>
<text x="822.5" y="596" font-size="6.4" stroke="#000" stroke-width="0.22" fill="#000" font-style="italic" textLength="90.5" lengthAdjust="spacingAndGlyphs">ELECTRONIC MODULE 2</text>
</svg>
</body></html>
